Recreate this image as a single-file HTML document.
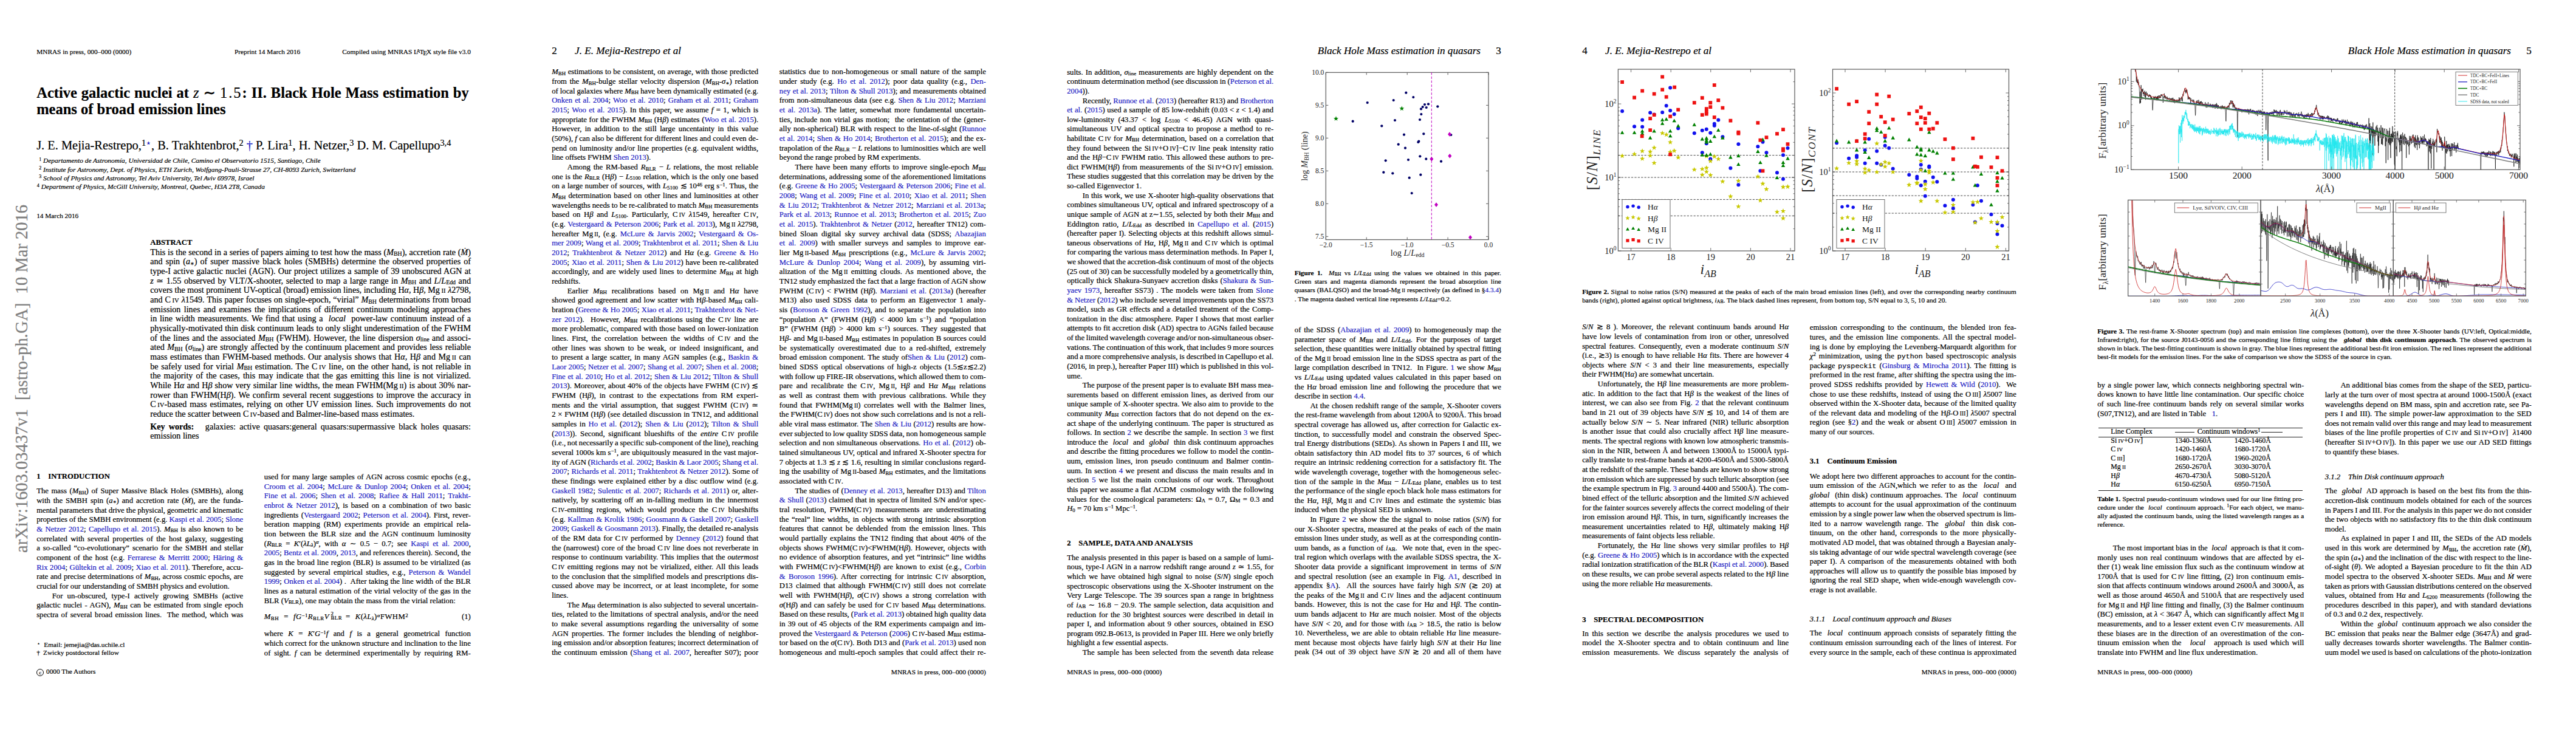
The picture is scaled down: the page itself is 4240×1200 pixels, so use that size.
<!DOCTYPE html><html><head><meta charset="utf-8"><title>Black Hole Mass estimation in quasars</title><style>
*{margin:0;padding:0}
html,body{width:4240px;height:1200px;overflow:hidden;background:#fff}
#pg{position:absolute;left:0;top:0;width:4240px;height:1200px}
body{position:relative;font-family:"Liberation Serif","DejaVu Serif",serif;color:#000;font-size:12.7px;line-height:1;-webkit-text-stroke:0.2px currentColor}
.j,.l{position:absolute;white-space:nowrap;line-height:1}
.j{text-align:justify;text-align-last:justify}
.l{text-align:left}
.c{color:#1c1cc4}
sub{font-size:70%;vertical-align:baseline;position:relative;top:.16em;line-height:0}
sup{font-size:70%;vertical-align:baseline;position:relative;top:-.42em;line-height:0}
.sc{text-transform:uppercase;font-size:.76em;margin-left:.24em}
.tt{font-family:"Liberation Mono",monospace;font-size:.92em}
.dot{display:inline-block;width:0;position:relative;left:-.62em;top:-.05em}
.a{position:absolute;white-space:nowrap;line-height:1}
svg{position:absolute;overflow:visible}
svg text{font-family:"Liberation Serif","DejaVu Serif",serif;-webkit-text-stroke:0}
</style></head><body><div id="pg">
<div class="a" style="left:60.2px;top:79.74px;font-size:11.3px">MNRAS in press, 000–000 (0000)</div>
<div class="a" style="left:386.0px;top:79.74px;font-size:11.3px">Preprint 14 March 2016</div>
<div class="a" style="left:-1225.2px;top:79.74px;font-size:11.3px;width:2000px;text-align:right">Compiled using MNRAS L<span style="font-size:.75em;position:relative;top:-.25em;margin-left:-.3em;margin-right:-.1em">A</span>T<span style="position:relative;top:.22em;margin-left:-.12em;margin-right:-.1em">E</span>X style file v3.0</div>
<div class="a" style="left:908.2px;top:74.88px;font-size:17.1px">2</div>
<div class="a" style="left:946.1px;top:74.88px;font-size:17.1px"><i>J. E. Mejia-Restrepo et al</i></div>
<div class="a" style="left:2604.2px;top:74.88px;font-size:17.1px">4</div>
<div class="a" style="left:2642.1px;top:74.88px;font-size:17.1px"><i>J. E. Mejia-Restrepo et al</i></div>
<div class="a" style="left:470.8px;top:74.88px;font-size:17.1px;width:2000px;text-align:right">3</div>
<div class="a" style="left:437.0px;top:74.88px;font-size:17.1px;width:2000px;text-align:right"><i>Black Hole Mass estimation in quasars</i></div>
<div class="a" style="left:2166.8px;top:74.88px;font-size:17.1px;width:2000px;text-align:right">5</div>
<div class="a" style="left:2133.0px;top:74.88px;font-size:17.1px;width:2000px;text-align:right"><i>Black Hole Mass estimation in quasars</i></div>
<div class="a" style="left:-377.2px;top:1100.74px;font-size:11.3px;width:2000px;text-align:right">MNRAS in press, 000–000 (0000)</div>
<div class="a" style="left:1318.8px;top:1100.74px;font-size:11.3px;width:2000px;text-align:right">MNRAS in press, 000–000 (0000)</div>
<div class="a" style="left:1756.2px;top:1100.74px;font-size:11.3px">MNRAS in press, 000–000 (0000)</div>
<div class="a" style="left:3452.2px;top:1100.74px;font-size:11.3px">MNRAS in press, 000–000 (0000)</div>
<div class="j" style="left:60.2px;top:140.98px;font-size:24.5px;width:711.5px"><b>Active galactic nuclei at <i style="font-weight:normal;margin-right:7px">z</i>∼<span style="font-weight:normal;margin-left:7px;letter-spacing:2px">1.5</span>: II. Black Hole Mass estimation by</b></div>
<div class="a" style="left:60.2px;top:168.48px;font-size:24.5px"><b>means of broad emission lines</b></div>
<div class="a" style="left:60.2px;top:229.41px;font-size:20.4px">J. E. Mejia-Restrepo,<sup>1<span class=c>⋆</span></sup>, B. Trakhtenbrot,<sup>2</sup> <span class=c>†</span> P. Lira<sup>1</sup>, H. Netzer,<sup>3</sup> D. M. Capellupo<sup>3,4</sup></div>
<div class="a" style="left:64.2px;top:259.45px;font-size:11.4px"><sup>1</sup> <i>Departamento de Astronomía, Universidad de Chile, Camino el Observatorio 1515, Santiago, Chile</i></div>
<div class="a" style="left:64.2px;top:273.60px;font-size:11.4px"><sup>2</sup> <i>Institute for Astronomy, Dept. of Physics, ETH Zurich, Wolfgang-Pauli-Strasse 27, CH-8093 Zurich, Switzerland</i></div>
<div class="a" style="left:64.2px;top:287.75px;font-size:11.4px"><sup>3</sup> <i>School of Physics and Astronomy, Tel Aviv University, Tel Aviv 69978, Israel</i></div>
<div class="a" style="left:60.8px;top:301.90px;font-size:11.4px"><sup>4</sup> <i>Department of Physics, McGill University, Montreal, Quebec, H3A 2T8, Canada</i></div>
<div class="a" style="left:60.2px;top:349.74px;font-size:11.3px">14 March 2016</div>
<div class="a" style="left:247.3px;top:392.76px;font-size:12.7px"><b>ABSTRACT</b></div>
<div class="j" style="left:247.3px;top:694.59px;font-size:14.1px;width:527.7px"><b>Key words:</b> &nbsp; galaxies: active quasars:general quasars:supermassive black holes quasars:</div>
<div class="a" style="left:247.3px;top:710.09px;font-size:14.1px">emission lines</div>
<div class="a" style="left:60.2px;top:777.66px;font-size:12.7px"><b>1</b></div>
<div class="a" style="left:79.3px;top:777.66px;font-size:12.7px"><b>INTRODUCTION</b></div>
<div class="a" style="left:434.8px;top:1009.26px;font-size:12.7px;word-spacing:4.5px;letter-spacing:0.45px"><i>M</i><sub>BH</sub> = <i>fG</i><sup>−1</sup><i>R</i><sub>BLR</sub><i>V</i><span style="display:inline-block;position:relative;width:19px;height:1px"><span style="position:absolute;left:2.5px;top:-12.6px;font-size:8.9px">2</span><span style="position:absolute;left:2.5px;top:-5.1px;font-size:8.9px">BLR</span></span> = <i>K</i>(<i>λL<sub>λ</sub></i>)<sup><i>α</i></sup>FWHM<sup>2</sup></div>
<div class="a" style="left:-1225.2px;top:1009.26px;font-size:12.7px;width:2000px;text-align:right">(1)</div>
<div class="a" style="left:60.5px;top:1056.14px;font-size:11.3px"><sup>⋆</sup></div>
<div class="a" style="left:72.3px;top:1056.14px;font-size:11.3px">Email: jemejia@das.uchile.cl</div>
<div class="a" style="left:60.3px;top:1068.74px;font-size:11.3px">†</div>
<div class="a" style="left:71.0px;top:1068.74px;font-size:11.3px">Zwicky postdoctoral fellow</div>
<div class="a" style="left:60.2px;top:1099.74px;font-size:11.3px"><span style="display:inline-block;border:1px solid #000;border-radius:50%;width:10px;height:10px;line-height:10px;text-align:center;font-size:8.5px;vertical-align:-1px;margin-right:1px">c</span> 0000 The Authors</div>
<div class="a" style="left:47.5px;top:910px;transform-origin:0 0;transform:rotate(-90deg);font-size:28.5px;color:#7f7f7f;line-height:1"><span style="position:relative;top:-26px">arXiv:1603.03437v1 &nbsp;[astro-ph.GA] &nbsp;10 Mar 2016</span></div>
<div class="a" style="left:1756.2px;top:887.86px;font-size:12.7px"><b>2</b></div>
<div class="a" style="left:1775.3px;top:887.86px;font-size:12.7px"><b>SAMPLE, DATA AND ANALYSIS</b></div>
<div class="a" style="left:2604.2px;top:1013.56px;font-size:12.7px"><b>3</b></div>
<div class="a" style="left:2623.3px;top:1013.56px;font-size:12.7px"><b>SPECTRAL DECOMPOSITION</b></div>
<div class="a" style="left:2978.8px;top:753.36px;font-size:12.7px"><b>3.1</b></div>
<div class="a" style="left:3007.5px;top:753.36px;font-size:12.7px"><b>Continuum Emission</b></div>
<div class="a" style="left:2978.8px;top:1012.86px;font-size:12.7px"><i>3.1.1</i></div>
<div class="a" style="left:3016.5px;top:1012.86px;font-size:12.7px"><i>Local continuum approach and Biases</i></div>
<div class="a" style="left:3826.8px;top:778.96px;font-size:12.7px"><i>3.1.2</i></div>
<div class="a" style="left:3865.0px;top:778.96px;font-size:12.7px"><i>Thin Disk continuum approach</i></div>
<div class="j" style="left:2130.8px;top:443.94px;font-size:11.3px;width:340.0px"><b>Figure 1.</b>&nbsp; <i>M</i><sub>BH</sub> vs <i>L</i>/<i>L</i><sub>Edd</sub> using the values we obtained in this paper.</div>
<div class="j" style="left:2130.8px;top:458.14px;font-size:11.3px;width:340.0px">Green stars and magenta diamonds represent the broad absorption line</div>
<div class="j" style="left:2130.8px;top:472.34px;font-size:11.3px;width:340.0px">quasars (BALQSO) and the broad-Mg<span class=sc>ii</span> respectively (as defined in §<span class=c>4.3.4</span>)</div>
<div class="a" style="left:2130.8px;top:486.54px;font-size:11.3px">. The magenta dashed vertical line represents <i>L</i>/<i>L</i><sub>Edd</sub>=0.2.</div>
<div class="j" style="left:2604.2px;top:474.54px;font-size:11.3px;width:714.6px"><b>Figure 2.</b> Signal to noise ratios (S/N) measured at the peaks of each of the main broad emission lines (left), and over the corresponding nearby continuum</div>
<div class="a" style="left:2604.2px;top:488.74px;font-size:11.3px">bands (right), plotted against optical brightness, <i>i</i><sub>AB</sub>. The black dashed lines represent, from bottom top, S/N equal to 3, 5, 10 and 20.</div>
<div class="j" style="left:3452.2px;top:539.54px;font-size:11.3px;width:714.6px"><b>Figure 3.</b> The rest-frame X-Shooter spectrum (top) and main emission line complexes (bottom), over the three X-Shooter bands (UV:left, Optical:middle,</div>
<div class="j" style="left:3452.2px;top:553.74px;font-size:11.3px;width:714.6px">Infrared:right), for the source J0143-0056 and the corresponding line fitting using the &nbsp; <b><i>global</i></b> &nbsp;<b>thin disk continuum approach</b>. The observed spectrum is</div>
<div class="j" style="left:3452.2px;top:567.94px;font-size:11.3px;width:714.6px;word-spacing:-0.33px">shown in black. The best-fitting continuum is shown in gray. The blue lines represent the additional best-fit iron emission. The red lines represent the additional</div>
<div class="a" style="left:3452.2px;top:582.14px;font-size:11.3px">best-fit models for the emission lines. For the sake of comparison we show the SDSS of the source in cyan.</div>
<div class="j" style="left:3452.2px;top:815.54px;font-size:11.3px;width:340.0px"><b>Table 1.</b> Spectral pseudo-continuum windows used for our line fitting pro-</div>
<div class="j" style="left:3452.2px;top:829.74px;font-size:11.3px;width:340.0px">cedure under the &nbsp;<i>local</i>&nbsp; continuum approach. <sup>1</sup>For each object, we manu-</div>
<div class="j" style="left:3452.2px;top:843.94px;font-size:11.3px;width:340.0px">ally adjusted the continuum bands, using the listed wavelength ranges as a</div>
<div class="a" style="left:3452.2px;top:858.14px;font-size:11.3px">reference.</div>
<div style="position:absolute;left:3454px;top:703.7px;width:336px;height:1.1px;background:#222"></div>
<div class="a" style="left:3474.3px;top:705.03px;font-size:11.9px">Line Complex</div>
<div style="position:absolute;left:3580px;top:710.6px;width:32px;height:0.9px;background:#222"></div>
<div style="position:absolute;left:3722px;top:710.6px;width:35px;height:0.9px;background:#222"></div>
<div class="a" style="left:3616.7px;top:705.03px;font-size:11.9px">Continuum windows<sup>1</sup></div>
<div style="position:absolute;left:3454px;top:718.7px;width:336px;height:1.1px;background:#222"></div>
<div class="a" style="left:3474.3px;top:720.03px;font-size:11.9px">Si<span class=sc>iv</span>+O<span class=sc>iv</span>]</div>
<div class="a" style="left:3580.0px;top:720.03px;font-size:11.9px">1340-1360Å</div>
<div class="a" style="left:3677.7px;top:720.03px;font-size:11.9px">1420-1460Å</div>
<div class="a" style="left:3474.3px;top:734.48px;font-size:11.9px">C<span class=sc>iv</span></div>
<div class="a" style="left:3580.0px;top:734.48px;font-size:11.9px">1420-1460Å</div>
<div class="a" style="left:3677.7px;top:734.48px;font-size:11.9px">1680-1720Å</div>
<div class="a" style="left:3474.3px;top:748.93px;font-size:11.9px">C<span class=sc>iii</span>]</div>
<div class="a" style="left:3580.0px;top:748.93px;font-size:11.9px">1680-1720Å</div>
<div class="a" style="left:3677.7px;top:748.93px;font-size:11.9px">1960-2020Å</div>
<div class="a" style="left:3474.3px;top:763.38px;font-size:11.9px">Mg<span class=sc>ii</span></div>
<div class="a" style="left:3580.0px;top:763.38px;font-size:11.9px">2650-2670Å</div>
<div class="a" style="left:3677.7px;top:763.38px;font-size:11.9px">3030-3070Å</div>
<div class="a" style="left:3474.3px;top:777.83px;font-size:11.9px">H<i>β</i></div>
<div class="a" style="left:3580.0px;top:777.83px;font-size:11.9px">4670-4730Å</div>
<div class="a" style="left:3677.7px;top:777.83px;font-size:11.9px">5080-5120Å</div>
<div class="a" style="left:3474.3px;top:792.28px;font-size:11.9px">H<i>α</i></div>
<div class="a" style="left:3580.0px;top:792.28px;font-size:11.9px">6150-6250Å</div>
<div class="a" style="left:3677.7px;top:792.28px;font-size:11.9px">6950-7150Å</div>
<div style="position:absolute;left:3454px;top:806.5px;width:336px;height:1.1px;background:#222"></div>
<svg style="left:2120px;top:105px" width="360" height="330" viewBox="2120 105 360 330">
<rect x="2182.3" y="119.3" width="267.7" height="275.2" fill="none" stroke="#5e5e5e" stroke-width="1.25"/>
<text x="2182.3" y="406.5" font-size="11.5" text-anchor="middle" fill="#222">−2.0</text>
<text x="2249.2" y="406.5" font-size="11.5" text-anchor="middle" fill="#222">−1.5</text>
<text x="2316.2" y="406.5" font-size="11.5" text-anchor="middle" fill="#222">−1.0</text>
<text x="2383.1" y="406.5" font-size="11.5" text-anchor="middle" fill="#222">−0.5</text>
<text x="2450.0" y="406.5" font-size="11.5" text-anchor="middle" fill="#222">0.0</text>
<text x="2179.3" y="393.3" font-size="11.5" text-anchor="end" fill="#222">7.5</text>
<text x="2179.3" y="339.3" font-size="11.5" text-anchor="end" fill="#222">8.0</text>
<text x="2179.3" y="285.3" font-size="11.5" text-anchor="end" fill="#222">8.5</text>
<text x="2179.3" y="231.3" font-size="11.5" text-anchor="end" fill="#222">9.0</text>
<text x="2179.3" y="177.3" font-size="11.5" text-anchor="end" fill="#222">9.5</text>
<text x="2179.3" y="123.3" font-size="11.5" text-anchor="end" fill="#222">10.0</text>
<path d="M2182.3 394.5v-4M2182.3 119.3v4M2249.2 394.5v-4M2249.2 119.3v4M2316.2 394.5v-4M2316.2 119.3v4M2383.1 394.5v-4M2383.1 119.3v4M2450.0 394.5v-4M2450.0 119.3v4M2182.3 389.3h4M2450.0 389.3h-4M2182.3 335.3h4M2450.0 335.3h-4M2182.3 281.3h4M2450.0 281.3h-4M2182.3 227.3h4M2450.0 227.3h-4M2182.3 173.3h4M2450.0 173.3h-4M2182.3 119.3h4M2450.0 119.3h-4" stroke="#5e5e5e" stroke-width="1" fill="none"/>
<text x="2316.7" y="420.6" font-size="14.2" text-anchor="middle" fill="#222">log <tspan font-style="italic">L</tspan>/<tspan font-style="italic">L</tspan><tspan font-size="10" dy="2.5">edd</tspan></text>
<text x="2151.5" y="257.0" font-size="14.2" text-anchor="middle" fill="#222" transform="rotate(-90 2151.5 257.0)">log <tspan font-style="italic">M</tspan><tspan font-size="10" dy="2.5">BH</tspan><tspan dy="-2.5"> (line)</tspan></text>
<line x1="2356.3" y1="119.3" x2="2356.3" y2="394.5" stroke="#c000c0" stroke-width="1" stroke-dasharray="4,2.6"/>
<circle cx="2250.7" cy="169.0" r="2.1" fill="#000066"/>
<circle cx="2314.3" cy="152.7" r="2.1" fill="#000066"/>
<circle cx="2326.3" cy="160.0" r="2.1" fill="#000066"/>
<circle cx="2293.7" cy="165.0" r="2.1" fill="#000066"/>
<circle cx="2226.7" cy="199.7" r="2.1" fill="#000066"/>
<circle cx="2274.3" cy="207.3" r="2.1" fill="#000066"/>
<circle cx="2296.0" cy="198.0" r="2.1" fill="#000066"/>
<circle cx="2311.0" cy="221.7" r="2.1" fill="#000066"/>
<circle cx="2301.7" cy="237.7" r="2.1" fill="#000066"/>
<circle cx="2313.0" cy="243.7" r="2.1" fill="#000066"/>
<circle cx="2280.7" cy="264.3" r="2.1" fill="#000066"/>
<circle cx="2277.3" cy="283.7" r="2.1" fill="#000066"/>
<circle cx="2292.3" cy="285.3" r="2.1" fill="#000066"/>
<circle cx="2318.0" cy="263.0" r="2.1" fill="#000066"/>
<circle cx="2319.7" cy="292.7" r="2.1" fill="#000066"/>
<circle cx="2323.7" cy="318.0" r="2.1" fill="#000066"/>
<circle cx="2337.3" cy="257.3" r="2.1" fill="#000066"/>
<circle cx="2334.3" cy="234.0" r="2.1" fill="#000066"/>
<circle cx="2335.3" cy="232.7" r="2.1" fill="#000066"/>
<circle cx="2343.3" cy="220.3" r="2.1" fill="#000066"/>
<circle cx="2337.0" cy="197.0" r="2.1" fill="#000066"/>
<circle cx="2339.3" cy="188.0" r="2.1" fill="#000066"/>
<circle cx="2339.0" cy="179.3" r="2.1" fill="#000066"/>
<circle cx="2341.7" cy="176.0" r="2.1" fill="#000066"/>
<circle cx="2345.0" cy="172.0" r="2.1" fill="#000066"/>
<circle cx="2347.7" cy="177.0" r="2.1" fill="#000066"/>
<circle cx="2351.0" cy="171.3" r="2.1" fill="#000066"/>
<circle cx="2366.3" cy="175.3" r="2.1" fill="#000066"/>
<circle cx="2347.3" cy="261.7" r="2.1" fill="#000066"/>
<circle cx="2372.0" cy="265.7" r="2.1" fill="#000066"/>
<circle cx="2338.3" cy="287.7" r="2.1" fill="#000066"/>
<circle cx="2388.3" cy="222.0" r="2.1" fill="#000066"/>
<polygon points="2199.0,191.1 2200.0,193.9 2203.0,194.0 2200.7,195.9 2201.5,198.7 2199.0,197.1 2196.5,198.7 2197.3,195.9 2195.0,194.0 2198.0,193.9" fill="#008000"/>
<polygon points="2307.3,174.5 2308.4,177.2 2311.3,177.4 2309.0,179.2 2309.8,182.1 2307.3,180.4 2304.9,182.1 2305.7,179.2 2303.3,177.4 2306.3,177.2" fill="#008000"/>
<polygon points="2356.3,257.9 2359.4,261.7 2356.3,265.5 2353.3,261.7" fill="#c000c0"/>
<polygon points="2386.0,217.2 2389.0,221.0 2386.0,224.8 2383.0,221.0" fill="#c000c0"/>
<polygon points="2386.3,252.9 2389.4,256.7 2386.3,260.5 2383.3,256.7" fill="#c000c0"/>
<polygon points="2364.0,333.2 2367.0,337.0 2364.0,340.8 2361.0,337.0" fill="#c000c0"/>
<polygon points="2420.0,386.9 2423.0,390.7 2420.0,394.5 2417.0,390.7" fill="#c000c0"/>
</svg>
<svg style="left:2590px;top:100px" width="730" height="370" viewBox="2590 100 730 370">
<rect x="2663.4" y="114.0" width="290.6" height="299.0" fill="none" stroke="#5e5e5e" stroke-width="1.25"/>
<text x="2684.6" y="428.0" font-size="14.5" text-anchor="middle" fill="#222">17</text>
<text x="2750.2" y="428.0" font-size="14.5" text-anchor="middle" fill="#222">18</text>
<text x="2815.8" y="428.0" font-size="14.5" text-anchor="middle" fill="#222">19</text>
<text x="2881.4" y="428.0" font-size="14.5" text-anchor="middle" fill="#222">20</text>
<text x="2947.0" y="428.0" font-size="14.5" text-anchor="middle" fill="#222">21</text>
<text x="2660.4" y="417.5" font-size="14.5" text-anchor="end" fill="#222">10<tspan font-size="9.5" dy="-6">0</tspan></text>
<text x="2660.4" y="296.5" font-size="14.5" text-anchor="end" fill="#222">10<tspan font-size="9.5" dy="-6">1</tspan></text>
<text x="2660.4" y="175.5" font-size="14.5" text-anchor="end" fill="#222">10<tspan font-size="9.5" dy="-6">2</tspan></text>
<path d="M2684.6 413.0v-5M2684.6 114.0v5M2750.2 413.0v-5M2750.2 114.0v5M2815.8 413.0v-5M2815.8 114.0v5M2881.4 413.0v-5M2881.4 114.0v5M2947.0 413.0v-5M2947.0 114.0v5M2663.4 413.0h5M2954.0 413.0h-5M2663.4 376.6h2.5M2954.0 376.6h-2.5M2663.4 355.3h2.5M2954.0 355.3h-2.5M2663.4 340.2h2.5M2954.0 340.2h-2.5M2663.4 328.4h2.5M2954.0 328.4h-2.5M2663.4 318.8h2.5M2954.0 318.8h-2.5M2663.4 310.7h2.5M2954.0 310.7h-2.5M2663.4 303.7h2.5M2954.0 303.7h-2.5M2663.4 297.5h2.5M2954.0 297.5h-2.5M2663.4 292.0h5M2954.0 292.0h-5M2663.4 255.6h2.5M2954.0 255.6h-2.5M2663.4 234.3h2.5M2954.0 234.3h-2.5M2663.4 219.2h2.5M2954.0 219.2h-2.5M2663.4 207.4h2.5M2954.0 207.4h-2.5M2663.4 197.8h2.5M2954.0 197.8h-2.5M2663.4 189.7h2.5M2954.0 189.7h-2.5M2663.4 182.7h2.5M2954.0 182.7h-2.5M2663.4 176.5h2.5M2954.0 176.5h-2.5M2663.4 171.0h5M2954.0 171.0h-5M2663.4 134.6h2.5M2954.0 134.6h-2.5" stroke="#5e5e5e" stroke-width="0.9" fill="none"/>
<line x1="2663.4" y1="255.6" x2="2954.0" y2="255.6" stroke="#333" stroke-width="0.9" stroke-dasharray="3.2,2.2"/>
<line x1="2663.4" y1="292.0" x2="2954.0" y2="292.0" stroke="#333" stroke-width="0.9" stroke-dasharray="3.2,2.2"/>
<line x1="2663.4" y1="328.4" x2="2954.0" y2="328.4" stroke="#333" stroke-width="0.9" stroke-dasharray="3.2,2.2"/>
<line x1="2663.4" y1="355.3" x2="2954.0" y2="355.3" stroke="#333" stroke-width="0.9" stroke-dasharray="3.2,2.2"/>
<circle cx="2670.1" cy="183.1" r="3.0" fill="#1111ee"/>
<circle cx="2690.1" cy="208.2" r="3.0" fill="#1111ee"/>
<circle cx="2703.2" cy="197.6" r="3.0" fill="#1111ee"/>
<circle cx="2703.2" cy="208.7" r="3.0" fill="#1111ee"/>
<circle cx="2716.2" cy="185.6" r="3.0" fill="#1111ee"/>
<circle cx="2722.7" cy="188.6" r="3.0" fill="#1111ee"/>
<circle cx="2736.2" cy="185.1" r="3.0" fill="#1111ee"/>
<circle cx="2742.7" cy="174.1" r="3.0" fill="#1111ee"/>
<circle cx="2749.2" cy="144.6" r="3.0" fill="#1111ee"/>
<circle cx="2749.2" cy="182.1" r="3.0" fill="#1111ee"/>
<circle cx="2755.7" cy="188.1" r="3.0" fill="#1111ee"/>
<circle cx="2762.2" cy="211.2" r="3.0" fill="#1111ee"/>
<circle cx="2788.8" cy="219.2" r="3.0" fill="#1111ee"/>
<circle cx="2801.8" cy="214.7" r="3.0" fill="#1111ee"/>
<circle cx="2808.8" cy="212.7" r="3.0" fill="#1111ee"/>
<circle cx="2808.8" cy="236.2" r="3.0" fill="#1111ee"/>
<circle cx="2815.3" cy="218.7" r="3.0" fill="#1111ee"/>
<circle cx="2821.8" cy="206.7" r="3.0" fill="#1111ee"/>
<circle cx="2821.8" cy="203.7" r="3.0" fill="#1111ee"/>
<circle cx="2828.3" cy="197.6" r="3.0" fill="#1111ee"/>
<circle cx="2835.4" cy="225.2" r="3.0" fill="#1111ee"/>
<circle cx="2848.4" cy="276.8" r="3.0" fill="#1111ee"/>
<circle cx="2861.4" cy="237.2" r="3.0" fill="#1111ee"/>
<circle cx="2861.4" cy="304.3" r="3.0" fill="#1111ee"/>
<circle cx="2801.8" cy="251.2" r="3.0" fill="#1111ee"/>
<circle cx="2815.3" cy="261.7" r="3.0" fill="#1111ee"/>
<circle cx="2893.4" cy="241.2" r="3.0" fill="#1111ee"/>
<circle cx="2897.4" cy="281.3" r="3.0" fill="#1111ee"/>
<circle cx="2901.5" cy="233.7" r="3.0" fill="#1111ee"/>
<circle cx="2907.5" cy="251.2" r="3.0" fill="#1111ee"/>
<circle cx="2925.0" cy="284.3" r="3.0" fill="#1111ee"/>
<circle cx="2935.0" cy="255.2" r="3.0" fill="#1111ee"/>
<circle cx="2935.0" cy="294.8" r="3.0" fill="#1111ee"/>
<circle cx="2942.5" cy="243.7" r="3.0" fill="#1111ee"/>
<polygon points="2670.1,252.3 2671.2,255.2 2674.3,255.4 2671.9,257.3 2672.7,260.3 2670.1,258.6 2667.5,260.3 2668.3,257.3 2665.9,255.4 2669.0,255.2" fill="#c8c800"/>
<polygon points="2690.1,249.3 2691.2,252.2 2694.3,252.4 2691.9,254.3 2692.7,257.3 2690.1,255.6 2687.5,257.3 2688.4,254.3 2686.0,252.4 2689.0,252.2" fill="#c8c800"/>
<polygon points="2703.2,244.3 2704.2,247.2 2707.3,247.4 2704.9,249.3 2705.7,252.3 2703.2,250.6 2700.6,252.3 2701.4,249.3 2699.0,247.4 2702.1,247.2" fill="#c8c800"/>
<polygon points="2703.2,256.8 2704.2,259.7 2707.3,259.9 2704.9,261.8 2705.7,264.8 2703.2,263.1 2700.6,264.8 2701.4,261.8 2699.0,259.9 2702.1,259.7" fill="#c8c800"/>
<polygon points="2716.2,245.3 2717.3,248.2 2720.4,248.4 2717.9,250.3 2718.8,253.3 2716.2,251.6 2713.6,253.3 2714.4,250.3 2712.0,248.4 2715.1,248.2" fill="#c8c800"/>
<polygon points="2716.2,251.8 2717.3,254.7 2720.4,254.9 2717.9,256.8 2718.8,259.8 2716.2,258.1 2713.6,259.8 2714.4,256.8 2712.0,254.9 2715.1,254.7" fill="#c8c800"/>
<polygon points="2722.7,238.8 2723.8,241.7 2726.9,241.9 2724.4,243.8 2725.3,246.8 2722.7,245.1 2720.1,246.8 2720.9,243.8 2718.5,241.9 2721.6,241.7" fill="#c8c800"/>
<polygon points="2722.7,263.9 2723.8,266.8 2726.9,266.9 2724.4,268.8 2725.3,271.8 2722.7,270.1 2720.1,271.8 2720.9,268.8 2718.5,266.9 2721.6,266.8" fill="#c8c800"/>
<polygon points="2736.2,214.8 2737.3,217.7 2740.4,217.8 2738.0,219.7 2738.8,222.7 2736.2,221.0 2733.6,222.7 2734.4,219.7 2732.0,217.8 2735.1,217.7" fill="#c8c800"/>
<polygon points="2742.7,217.3 2743.8,220.2 2746.9,220.3 2744.5,222.3 2745.3,225.2 2742.7,223.5 2740.1,225.2 2741.0,222.3 2738.5,220.3 2741.6,220.2" fill="#c8c800"/>
<polygon points="2749.2,229.8 2750.3,232.7 2753.4,232.8 2751.0,234.8 2751.8,237.8 2749.2,236.0 2746.6,237.8 2747.5,234.8 2745.0,232.8 2748.1,232.7" fill="#c8c800"/>
<polygon points="2749.2,245.8 2750.3,248.7 2753.4,248.9 2751.0,250.8 2751.8,253.8 2749.2,252.1 2746.6,253.8 2747.5,250.8 2745.0,248.9 2748.1,248.7" fill="#c8c800"/>
<polygon points="2755.7,243.8 2756.8,246.7 2759.9,246.9 2757.5,248.8 2758.3,251.8 2755.7,250.1 2753.1,251.8 2754.0,248.8 2751.5,246.9 2754.6,246.7" fill="#c8c800"/>
<polygon points="2762.2,254.8 2763.3,257.7 2766.4,257.9 2764.0,259.8 2764.8,262.8 2762.2,261.1 2759.7,262.8 2760.5,259.8 2758.1,257.9 2761.2,257.7" fill="#c8c800"/>
<polygon points="2788.8,274.9 2789.9,277.8 2793.0,277.9 2790.5,279.8 2791.4,282.8 2788.8,281.1 2786.2,282.8 2787.0,279.8 2784.6,277.9 2787.7,277.8" fill="#c8c800"/>
<polygon points="2801.8,273.9 2802.9,276.8 2806.0,276.9 2803.6,278.8 2804.4,281.8 2801.8,280.1 2799.2,281.8 2800.0,278.8 2797.6,276.9 2800.7,276.8" fill="#c8c800"/>
<polygon points="2801.8,283.4 2802.9,286.3 2806.0,286.4 2803.6,288.4 2804.4,291.3 2801.8,289.6 2799.2,291.3 2800.0,288.4 2797.6,286.4 2800.7,286.3" fill="#c8c800"/>
<polygon points="2808.8,271.9 2809.9,274.8 2813.0,274.9 2810.6,276.8 2811.4,279.8 2808.8,278.1 2806.2,279.8 2807.1,276.8 2804.6,274.9 2807.7,274.8" fill="#c8c800"/>
<polygon points="2808.8,278.4 2809.9,281.3 2813.0,281.4 2810.6,283.3 2811.4,286.3 2808.8,284.6 2806.2,286.3 2807.1,283.3 2804.6,281.4 2807.7,281.3" fill="#c8c800"/>
<polygon points="2815.3,283.9 2816.4,286.8 2819.5,286.9 2817.1,288.9 2817.9,291.8 2815.3,290.1 2812.7,291.8 2813.6,288.9 2811.1,286.9 2814.2,286.8" fill="#c8c800"/>
<polygon points="2821.8,253.3 2822.9,256.2 2826.0,256.4 2823.6,258.3 2824.4,261.3 2821.8,259.6 2819.2,261.3 2820.1,258.3 2817.6,256.4 2820.7,256.2" fill="#c8c800"/>
<polygon points="2828.3,257.3 2829.4,260.2 2832.5,260.4 2830.1,262.3 2830.9,265.3 2828.3,263.6 2825.8,265.3 2826.6,262.3 2824.2,260.4 2827.3,260.2" fill="#c8c800"/>
<polygon points="2835.4,294.4 2836.4,297.3 2839.5,297.4 2837.1,299.4 2837.9,302.4 2835.4,300.6 2832.8,302.4 2833.6,299.4 2831.2,297.4 2834.3,297.3" fill="#c8c800"/>
<polygon points="2848.4,318.9 2849.5,321.8 2852.6,322.0 2850.1,323.9 2851.0,326.9 2848.4,325.2 2845.8,326.9 2846.6,323.9 2844.2,322.0 2847.3,321.8" fill="#c8c800"/>
<polygon points="2861.4,293.4 2862.5,296.3 2865.6,296.4 2863.1,298.4 2864.0,301.4 2861.4,299.6 2858.8,301.4 2859.6,298.4 2857.2,296.4 2860.3,296.3" fill="#c8c800"/>
<polygon points="2861.4,335.5 2862.5,338.4 2865.6,338.5 2863.1,340.4 2864.0,343.4 2861.4,341.7 2858.8,343.4 2859.6,340.4 2857.2,338.5 2860.3,338.4" fill="#c8c800"/>
<polygon points="2893.4,286.4 2894.5,289.3 2897.6,289.4 2895.2,291.4 2896.0,294.3 2893.4,292.6 2890.9,294.3 2891.7,291.4 2889.3,289.4 2892.4,289.3" fill="#c8c800"/>
<polygon points="2897.4,325.4 2898.5,328.3 2901.6,328.5 2899.2,330.4 2900.0,333.4 2897.4,331.7 2894.9,333.4 2895.7,330.4 2893.3,328.5 2896.4,328.3" fill="#c8c800"/>
<polygon points="2901.5,297.9 2902.5,300.8 2905.6,300.9 2903.2,302.9 2904.0,305.9 2901.5,304.2 2898.9,305.9 2899.7,302.9 2897.3,300.9 2900.4,300.8" fill="#c8c800"/>
<polygon points="2907.5,306.9 2908.5,309.8 2911.6,310.0 2909.2,311.9 2910.0,314.9 2907.5,313.2 2904.9,314.9 2905.7,311.9 2903.3,310.0 2906.4,309.8" fill="#c8c800"/>
<polygon points="2925.0,344.5 2926.1,347.4 2929.2,347.5 2926.7,349.4 2927.6,352.4 2925.0,350.7 2922.4,352.4 2923.2,349.4 2920.8,347.5 2923.9,347.4" fill="#c8c800"/>
<polygon points="2935.0,343.0 2936.1,345.9 2939.2,346.0 2936.8,347.9 2937.6,350.9 2935.0,349.2 2932.4,350.9 2933.2,347.9 2930.8,346.0 2933.9,345.9" fill="#c8c800"/>
<polygon points="2935.0,355.0 2936.1,357.9 2939.2,358.0 2936.8,360.0 2937.6,362.9 2935.0,361.2 2932.4,362.9 2933.2,360.0 2930.8,358.0 2933.9,357.9" fill="#c8c800"/>
<polygon points="2942.5,302.9 2943.6,305.8 2946.7,306.0 2944.3,307.9 2945.1,310.9 2942.5,309.2 2939.9,310.9 2940.8,307.9 2938.3,306.0 2941.4,305.8" fill="#c8c800"/>
<polygon points="2935.0,303.4 2936.1,306.3 2939.2,306.5 2936.8,308.4 2937.6,311.4 2935.0,309.7 2932.4,311.4 2933.2,308.4 2930.8,306.5 2933.9,306.3" fill="#c8c800"/>
<polygon points="2808.8,252.8 2809.9,255.7 2813.0,255.9 2810.6,257.8 2811.4,260.8 2808.8,259.1 2806.2,260.8 2807.1,257.8 2804.6,255.9 2807.7,255.7" fill="#c8c800"/>
<polygon points="2815.3,260.8 2816.4,263.8 2819.5,263.9 2817.1,265.8 2817.9,268.8 2815.3,267.1 2812.7,268.8 2813.6,265.8 2811.1,263.9 2814.2,263.8" fill="#c8c800"/>
<polygon points="2670.1,215.1 2673.3,220.8 2666.9,220.8" fill="#008000"/>
<polygon points="2690.1,215.1 2693.4,220.8 2686.9,220.8" fill="#008000"/>
<polygon points="2703.2,212.6 2706.4,218.3 2699.9,218.3" fill="#008000"/>
<polygon points="2703.2,216.6 2706.4,222.3 2699.9,222.3" fill="#008000"/>
<polygon points="2716.2,223.6 2719.4,229.4 2712.9,229.4" fill="#008000"/>
<polygon points="2722.7,212.6 2725.9,218.3 2719.4,218.3" fill="#008000"/>
<polygon points="2736.2,194.0 2739.4,199.8 2733.0,199.8" fill="#008000"/>
<polygon points="2736.2,200.1 2739.4,205.8 2733.0,205.8" fill="#008000"/>
<polygon points="2742.7,193.0 2746.0,198.8 2739.5,198.8" fill="#008000"/>
<polygon points="2749.2,212.6 2752.5,218.3 2746.0,218.3" fill="#008000"/>
<polygon points="2749.2,220.6 2752.5,226.3 2746.0,226.3" fill="#008000"/>
<polygon points="2755.7,195.5 2759.0,201.3 2752.5,201.3" fill="#008000"/>
<polygon points="2762.2,204.1 2765.5,209.8 2759.0,209.8" fill="#008000"/>
<polygon points="2788.8,202.1 2792.0,207.8 2785.5,207.8" fill="#008000"/>
<polygon points="2801.8,225.6 2805.0,231.4 2798.6,231.4" fill="#008000"/>
<polygon points="2808.8,224.1 2812.1,229.9 2805.6,229.9" fill="#008000"/>
<polygon points="2808.8,227.6 2812.1,233.4 2805.6,233.4" fill="#008000"/>
<polygon points="2808.8,230.6 2812.1,236.4 2805.6,236.4" fill="#008000"/>
<polygon points="2815.3,229.1 2818.6,234.9 2812.1,234.9" fill="#008000"/>
<polygon points="2821.8,221.6 2825.1,227.3 2818.6,227.3" fill="#008000"/>
<polygon points="2828.3,211.1 2831.6,216.8 2825.1,216.8" fill="#008000"/>
<polygon points="2835.4,223.6 2838.6,229.4 2832.1,229.4" fill="#008000"/>
<polygon points="2848.4,255.6 2851.6,261.4 2845.1,261.4" fill="#008000"/>
<polygon points="2861.4,253.1 2864.6,258.9 2858.2,258.9" fill="#008000"/>
<polygon points="2861.4,267.2 2864.6,272.9 2858.2,272.9" fill="#008000"/>
<polygon points="2893.4,246.1 2896.7,251.9 2890.2,251.9" fill="#008000"/>
<polygon points="2897.4,264.2 2900.7,269.9 2894.2,269.9" fill="#008000"/>
<polygon points="2901.5,226.6 2904.7,232.4 2898.2,232.4" fill="#008000"/>
<polygon points="2907.5,252.6 2910.7,258.4 2904.2,258.4" fill="#008000"/>
<polygon points="2925.0,289.2 2928.2,294.9 2921.7,294.9" fill="#008000"/>
<polygon points="2935.0,264.2 2938.2,269.9 2931.8,269.9" fill="#008000"/>
<polygon points="2935.0,269.2 2938.2,274.9 2931.8,274.9" fill="#008000"/>
<polygon points="2942.5,257.6 2945.8,263.4 2939.3,263.4" fill="#008000"/>
<polygon points="2801.8,251.6 2805.0,257.4 2798.6,257.4" fill="#008000"/>
<polygon points="2808.8,252.1 2812.1,257.9 2805.6,257.9" fill="#008000"/>
<polygon points="2815.3,250.6 2818.6,256.4 2812.1,256.4" fill="#008000"/>
<rect x="2667.2" y="132.2" width="5.8" height="5.8" fill="#ee1111"/>
<rect x="2687.2" y="157.7" width="5.8" height="5.8" fill="#ee1111"/>
<rect x="2700.3" y="146.7" width="5.8" height="5.8" fill="#ee1111"/>
<rect x="2719.8" y="151.7" width="5.8" height="5.8" fill="#ee1111"/>
<rect x="2733.3" y="123.6" width="5.8" height="5.8" fill="#ee1111"/>
<rect x="2733.3" y="144.7" width="5.8" height="5.8" fill="#ee1111"/>
<rect x="2739.8" y="156.7" width="5.8" height="5.8" fill="#ee1111"/>
<rect x="2753.3" y="140.7" width="5.8" height="5.8" fill="#ee1111"/>
<rect x="2746.3" y="188.7" width="5.8" height="5.8" fill="#ee1111"/>
<rect x="2713.3" y="192.2" width="5.8" height="5.8" fill="#ee1111"/>
<rect x="2699.8" y="221.3" width="5.8" height="5.8" fill="#ee1111"/>
<rect x="2713.3" y="211.3" width="5.8" height="5.8" fill="#ee1111"/>
<rect x="2719.8" y="186.2" width="5.8" height="5.8" fill="#ee1111"/>
<rect x="2746.3" y="251.3" width="5.8" height="5.8" fill="#ee1111"/>
<rect x="2759.3" y="177.7" width="5.8" height="5.8" fill="#ee1111"/>
<rect x="2785.9" y="166.2" width="5.8" height="5.8" fill="#ee1111"/>
<rect x="2798.9" y="158.2" width="5.8" height="5.8" fill="#ee1111"/>
<rect x="2798.9" y="186.2" width="5.8" height="5.8" fill="#ee1111"/>
<rect x="2805.9" y="181.2" width="5.8" height="5.8" fill="#ee1111"/>
<rect x="2805.9" y="176.2" width="5.8" height="5.8" fill="#ee1111"/>
<rect x="2812.4" y="173.2" width="5.8" height="5.8" fill="#ee1111"/>
<rect x="2812.4" y="166.2" width="5.8" height="5.8" fill="#ee1111"/>
<rect x="2818.9" y="137.2" width="5.8" height="5.8" fill="#ee1111"/>
<rect x="2818.9" y="190.2" width="5.8" height="5.8" fill="#ee1111"/>
<rect x="2825.4" y="162.2" width="5.8" height="5.8" fill="#ee1111"/>
<rect x="2832.5" y="174.7" width="5.8" height="5.8" fill="#ee1111"/>
<rect x="2845.5" y="195.7" width="5.8" height="5.8" fill="#ee1111"/>
<rect x="2858.5" y="214.8" width="5.8" height="5.8" fill="#ee1111"/>
<rect x="2858.5" y="216.8" width="5.8" height="5.8" fill="#ee1111"/>
<rect x="2890.5" y="199.3" width="5.8" height="5.8" fill="#ee1111"/>
<rect x="2894.5" y="227.8" width="5.8" height="5.8" fill="#ee1111"/>
<rect x="2898.6" y="278.4" width="5.8" height="5.8" fill="#ee1111"/>
<rect x="2904.6" y="223.3" width="5.8" height="5.8" fill="#ee1111"/>
<rect x="2922.1" y="217.3" width="5.8" height="5.8" fill="#ee1111"/>
<rect x="2932.1" y="210.3" width="5.8" height="5.8" fill="#ee1111"/>
<rect x="2932.1" y="242.3" width="5.8" height="5.8" fill="#ee1111"/>
<rect x="2932.1" y="244.8" width="5.8" height="5.8" fill="#ee1111"/>
<rect x="2939.6" y="234.3" width="5.8" height="5.8" fill="#ee1111"/>
<rect x="2805.9" y="184.7" width="5.8" height="5.8" fill="#ee1111"/>
<rect x="2670.0" y="328.5" width="79" height="80" fill="#fff" stroke="#5e5e5e" stroke-width="0.9"/>
<circle cx="2679.0" cy="340.5" r="2.7" fill="#1111ee"/>
<circle cx="2688.1" cy="339.1" r="2.7" fill="#1111ee"/>
<circle cx="2697.2" cy="341.2" r="2.7" fill="#1111ee"/>
<text x="2712.0" y="345.1" font-size="13.5" text-anchor="start" fill="#111">H<tspan font-style="italic">α</tspan></text>
<polygon points="2679.0,355.0 2680.0,357.7 2682.8,357.8 2680.6,359.5 2681.3,362.2 2679.0,360.7 2676.7,362.2 2677.4,359.5 2675.2,357.8 2678.0,357.7" fill="#c8c800"/>
<polygon points="2688.1,353.6 2689.1,356.3 2691.9,356.4 2689.7,358.1 2690.4,360.8 2688.1,359.3 2685.8,360.8 2686.5,358.1 2684.3,356.4 2687.1,356.3" fill="#c8c800"/>
<polygon points="2697.2,355.7 2698.2,358.4 2701.0,358.5 2698.8,360.2 2699.5,362.9 2697.2,361.4 2694.9,362.9 2695.6,360.2 2693.4,358.5 2696.2,358.4" fill="#c8c800"/>
<text x="2712.0" y="363.6" font-size="13.5" text-anchor="start" fill="#111">H<tspan font-style="italic">β</tspan></text>
<polygon points="2679.0,374.3 2681.9,379.4 2676.1,379.4" fill="#008000"/>
<polygon points="2688.1,372.9 2691.0,378.0 2685.2,378.0" fill="#008000"/>
<polygon points="2697.2,375.0 2700.1,380.1 2694.3,380.1" fill="#008000"/>
<text x="2712.0" y="382.1" font-size="13.5" text-anchor="start" fill="#111">Mg II</text>
<rect x="2676.4" y="393.4" width="5.2" height="5.2" fill="#ee1111"/>
<rect x="2685.5" y="392.0" width="5.2" height="5.2" fill="#ee1111"/>
<rect x="2694.6" y="394.1" width="5.2" height="5.2" fill="#ee1111"/>
<text x="2712.0" y="400.6" font-size="13.5" text-anchor="start" fill="#111">C IV</text>
<text x="2628.5" y="262.5" font-size="25" text-anchor="middle" fill="#222" transform="rotate(-90 2628.5 262.5)" style="letter-spacing:1px">[<tspan font-style="italic">S</tspan>/<tspan font-style="italic">N</tspan>]<tspan font-size="17" font-style="italic" dy="5" letter-spacing="1.6">LINE</tspan></text>
<text x="2811.7" y="450.5" font-size="24" text-anchor="middle" fill="#222"><tspan font-style="italic">i</tspan><tspan font-size="16" font-style="italic" dy="5">AB</tspan></text>
<rect x="3016.5" y="114.0" width="290.0" height="299.0" fill="none" stroke="#5e5e5e" stroke-width="1.25"/>
<text x="3037.0" y="428.0" font-size="14.5" text-anchor="middle" fill="#222">17</text>
<text x="3103.1" y="428.0" font-size="14.5" text-anchor="middle" fill="#222">18</text>
<text x="3169.2" y="428.0" font-size="14.5" text-anchor="middle" fill="#222">19</text>
<text x="3235.3" y="428.0" font-size="14.5" text-anchor="middle" fill="#222">20</text>
<text x="3301.4" y="428.0" font-size="14.5" text-anchor="middle" fill="#222">21</text>
<text x="3013.5" y="417.5" font-size="14.5" text-anchor="end" fill="#222">10<tspan font-size="9.5" dy="-6">0</tspan></text>
<text x="3013.5" y="287.5" font-size="14.5" text-anchor="end" fill="#222">10<tspan font-size="9.5" dy="-6">1</tspan></text>
<text x="3013.5" y="157.5" font-size="14.5" text-anchor="end" fill="#222">10<tspan font-size="9.5" dy="-6">2</tspan></text>
<path d="M3037.0 413.0v-5M3037.0 114.0v5M3103.1 413.0v-5M3103.1 114.0v5M3169.2 413.0v-5M3169.2 114.0v5M3235.3 413.0v-5M3235.3 114.0v5M3301.4 413.0v-5M3301.4 114.0v5M3016.5 413.0h5M3306.5 413.0h-5M3016.5 373.9h2.5M3306.5 373.9h-2.5M3016.5 351.0h2.5M3306.5 351.0h-2.5M3016.5 334.7h2.5M3306.5 334.7h-2.5M3016.5 322.1h2.5M3306.5 322.1h-2.5M3016.5 311.8h2.5M3306.5 311.8h-2.5M3016.5 303.1h2.5M3306.5 303.1h-2.5M3016.5 295.6h2.5M3306.5 295.6h-2.5M3016.5 288.9h2.5M3306.5 288.9h-2.5M3016.5 283.0h5M3306.5 283.0h-5M3016.5 243.9h2.5M3306.5 243.9h-2.5M3016.5 221.0h2.5M3306.5 221.0h-2.5M3016.5 204.7h2.5M3306.5 204.7h-2.5M3016.5 192.1h2.5M3306.5 192.1h-2.5M3016.5 181.8h2.5M3306.5 181.8h-2.5M3016.5 173.1h2.5M3306.5 173.1h-2.5M3016.5 165.6h2.5M3306.5 165.6h-2.5M3016.5 158.9h2.5M3306.5 158.9h-2.5M3016.5 153.0h5M3306.5 153.0h-5" stroke="#5e5e5e" stroke-width="0.9" fill="none"/>
<line x1="3016.5" y1="243.9" x2="3306.5" y2="243.9" stroke="#333" stroke-width="0.9" stroke-dasharray="3.2,2.2"/>
<line x1="3016.5" y1="283.0" x2="3306.5" y2="283.0" stroke="#333" stroke-width="0.9" stroke-dasharray="3.2,2.2"/>
<line x1="3016.5" y1="322.1" x2="3306.5" y2="322.1" stroke="#333" stroke-width="0.9" stroke-dasharray="3.2,2.2"/>
<line x1="3016.5" y1="351.0" x2="3306.5" y2="351.0" stroke="#333" stroke-width="0.9" stroke-dasharray="3.2,2.2"/>
<circle cx="3023.1" cy="235.2" r="3.0" fill="#1111ee"/>
<circle cx="3043.1" cy="260.7" r="3.0" fill="#1111ee"/>
<circle cx="3056.1" cy="256.2" r="3.0" fill="#1111ee"/>
<circle cx="3056.1" cy="258.7" r="3.0" fill="#1111ee"/>
<circle cx="3069.7" cy="247.2" r="3.0" fill="#1111ee"/>
<circle cx="3069.7" cy="268.8" r="3.0" fill="#1111ee"/>
<circle cx="3076.2" cy="228.7" r="3.0" fill="#1111ee"/>
<circle cx="3089.2" cy="248.7" r="3.0" fill="#1111ee"/>
<circle cx="3089.2" cy="268.8" r="3.0" fill="#1111ee"/>
<circle cx="3096.2" cy="271.3" r="3.0" fill="#1111ee"/>
<circle cx="3102.7" cy="239.7" r="3.0" fill="#1111ee"/>
<circle cx="3102.7" cy="225.7" r="3.0" fill="#1111ee"/>
<circle cx="3109.2" cy="243.7" r="3.0" fill="#1111ee"/>
<circle cx="3115.7" cy="277.8" r="3.0" fill="#1111ee"/>
<circle cx="3142.3" cy="287.8" r="3.0" fill="#1111ee"/>
<circle cx="3155.3" cy="290.8" r="3.0" fill="#1111ee"/>
<circle cx="3155.3" cy="293.8" r="3.0" fill="#1111ee"/>
<circle cx="3161.8" cy="271.3" r="3.0" fill="#1111ee"/>
<circle cx="3161.8" cy="278.8" r="3.0" fill="#1111ee"/>
<circle cx="3161.8" cy="305.3" r="3.0" fill="#1111ee"/>
<circle cx="3168.8" cy="298.8" r="3.0" fill="#1111ee"/>
<circle cx="3168.8" cy="322.8" r="3.0" fill="#1111ee"/>
<circle cx="3175.3" cy="273.8" r="3.0" fill="#1111ee"/>
<circle cx="3175.3" cy="275.3" r="3.0" fill="#1111ee"/>
<circle cx="3181.8" cy="291.8" r="3.0" fill="#1111ee"/>
<circle cx="3188.3" cy="299.3" r="3.0" fill="#1111ee"/>
<circle cx="3201.4" cy="338.4" r="3.0" fill="#1111ee"/>
<circle cx="3214.9" cy="328.8" r="3.0" fill="#1111ee"/>
<circle cx="3214.9" cy="342.9" r="3.0" fill="#1111ee"/>
<circle cx="3247.4" cy="336.9" r="3.0" fill="#1111ee"/>
<circle cx="3250.9" cy="365.4" r="3.0" fill="#1111ee"/>
<circle cx="3254.9" cy="305.3" r="3.0" fill="#1111ee"/>
<circle cx="3261.0" cy="330.8" r="3.0" fill="#1111ee"/>
<circle cx="3277.5" cy="352.9" r="3.0" fill="#1111ee"/>
<circle cx="3287.5" cy="367.9" r="3.0" fill="#1111ee"/>
<circle cx="3287.5" cy="385.4" r="3.0" fill="#1111ee"/>
<circle cx="3295.5" cy="371.4" r="3.0" fill="#1111ee"/>
<polygon points="3023.1,272.9 3024.2,275.8 3027.3,275.9 3024.9,277.8 3025.7,280.8 3023.1,279.1 3020.5,280.8 3021.3,277.8 3018.9,275.9 3022.0,275.8" fill="#c8c800"/>
<polygon points="3043.1,263.9 3044.2,266.8 3047.3,266.9 3044.9,268.8 3045.7,271.8 3043.1,270.1 3040.5,271.8 3041.4,268.8 3038.9,266.9 3042.0,266.8" fill="#c8c800"/>
<polygon points="3056.1,260.8 3057.2,263.8 3060.3,263.9 3057.9,265.8 3058.7,268.8 3056.1,267.1 3053.6,268.8 3054.4,265.8 3052.0,263.9 3055.1,263.8" fill="#c8c800"/>
<polygon points="3056.1,265.9 3057.2,268.8 3060.3,268.9 3057.9,270.8 3058.7,273.8 3056.1,272.1 3053.6,273.8 3054.4,270.8 3052.0,268.9 3055.1,268.8" fill="#c8c800"/>
<polygon points="3069.7,273.4 3070.8,276.3 3073.8,276.4 3071.4,278.3 3072.3,281.3 3069.7,279.6 3067.1,281.3 3067.9,278.3 3065.5,276.4 3068.6,276.3" fill="#c8c800"/>
<polygon points="3069.7,279.9 3070.8,282.8 3073.8,282.9 3071.4,284.8 3072.3,287.8 3069.7,286.1 3067.1,287.8 3067.9,284.8 3065.5,282.9 3068.6,282.8" fill="#c8c800"/>
<polygon points="3076.2,275.9 3077.3,278.8 3080.4,278.9 3077.9,280.8 3078.8,283.8 3076.2,282.1 3073.6,283.8 3074.4,280.8 3072.0,278.9 3075.1,278.8" fill="#c8c800"/>
<polygon points="3089.2,231.8 3090.3,234.7 3093.4,234.8 3091.0,236.8 3091.8,239.8 3089.2,238.1 3086.6,239.8 3087.4,236.8 3085.0,234.8 3088.1,234.7" fill="#c8c800"/>
<polygon points="3089.2,278.9 3090.3,281.8 3093.4,281.9 3091.0,283.8 3091.8,286.8 3089.2,285.1 3086.6,286.8 3087.4,283.8 3085.0,281.9 3088.1,281.8" fill="#c8c800"/>
<polygon points="3096.2,266.4 3097.3,269.3 3100.4,269.4 3098.0,271.3 3098.8,274.3 3096.2,272.6 3093.6,274.3 3094.4,271.3 3092.0,269.4 3095.1,269.3" fill="#c8c800"/>
<polygon points="3102.7,262.4 3103.8,265.3 3106.9,265.4 3104.5,267.3 3105.3,270.3 3102.7,268.6 3100.1,270.3 3101.0,267.3 3098.5,265.4 3101.6,265.3" fill="#c8c800"/>
<polygon points="3102.7,269.9 3103.8,272.8 3106.9,272.9 3104.5,274.8 3105.3,277.8 3102.7,276.1 3100.1,277.8 3101.0,274.8 3098.5,272.9 3101.6,272.8" fill="#c8c800"/>
<polygon points="3109.2,264.4 3110.3,267.3 3113.4,267.4 3111.0,269.3 3111.8,272.3 3109.2,270.6 3106.6,272.3 3107.5,269.3 3105.0,267.4 3108.1,267.3" fill="#c8c800"/>
<polygon points="3115.7,278.9 3116.8,281.8 3119.9,281.9 3117.5,283.8 3118.3,286.8 3115.7,285.1 3113.1,286.8 3114.0,283.8 3111.5,281.9 3114.6,281.8" fill="#c8c800"/>
<polygon points="3142.3,299.9 3143.4,302.8 3146.5,302.9 3144.0,304.9 3144.9,307.9 3142.3,306.2 3139.7,307.9 3140.5,304.9 3138.1,302.9 3141.2,302.8" fill="#c8c800"/>
<polygon points="3155.3,296.4 3156.4,299.3 3159.5,299.4 3157.1,301.4 3157.9,304.4 3155.3,302.6 3152.7,304.4 3153.5,301.4 3151.1,299.4 3154.2,299.3" fill="#c8c800"/>
<polygon points="3155.3,297.4 3156.4,300.3 3159.5,300.4 3157.1,302.4 3157.9,305.4 3155.3,303.7 3152.7,305.4 3153.5,302.4 3151.1,300.4 3154.2,300.3" fill="#c8c800"/>
<polygon points="3161.8,260.3 3162.9,263.3 3166.0,263.4 3163.6,265.3 3164.4,268.3 3161.8,266.6 3159.2,268.3 3160.0,265.3 3157.6,263.4 3160.7,263.3" fill="#c8c800"/>
<polygon points="3161.8,275.4 3162.9,278.3 3166.0,278.4 3163.6,280.3 3164.4,283.3 3161.8,281.6 3159.2,283.3 3160.0,280.3 3157.6,278.4 3160.7,278.3" fill="#c8c800"/>
<polygon points="3161.8,326.4 3162.9,329.4 3166.0,329.5 3163.6,331.4 3164.4,334.4 3161.8,332.7 3159.2,334.4 3160.0,331.4 3157.6,329.5 3160.7,329.4" fill="#c8c800"/>
<polygon points="3168.8,298.9 3169.9,301.8 3173.0,301.9 3170.6,303.9 3171.4,306.9 3168.8,305.2 3166.2,306.9 3167.1,303.9 3164.6,301.9 3167.7,301.8" fill="#c8c800"/>
<polygon points="3168.8,306.9 3169.9,309.8 3173.0,310.0 3170.6,311.9 3171.4,314.9 3168.8,313.2 3166.2,314.9 3167.1,311.9 3164.6,310.0 3167.7,309.8" fill="#c8c800"/>
<polygon points="3175.3,276.9 3176.4,279.8 3179.5,279.9 3177.1,281.8 3177.9,284.8 3175.3,283.1 3172.7,284.8 3173.6,281.8 3171.1,279.9 3174.2,279.8" fill="#c8c800"/>
<polygon points="3175.3,279.9 3176.4,282.8 3179.5,282.9 3177.1,284.8 3177.9,287.8 3175.3,286.1 3172.7,287.8 3173.6,284.8 3171.1,282.9 3174.2,282.8" fill="#c8c800"/>
<polygon points="3181.8,295.9 3182.9,298.8 3186.0,298.9 3183.6,300.9 3184.4,303.9 3181.8,302.1 3179.2,303.9 3180.1,300.9 3177.6,298.9 3180.7,298.8" fill="#c8c800"/>
<polygon points="3188.3,326.4 3189.4,329.4 3192.5,329.5 3190.1,331.4 3190.9,334.4 3188.3,332.7 3185.8,334.4 3186.6,331.4 3184.2,329.5 3187.3,329.4" fill="#c8c800"/>
<polygon points="3201.4,345.5 3202.4,348.4 3205.5,348.5 3203.1,350.4 3203.9,353.4 3201.4,351.7 3198.8,353.4 3199.6,350.4 3197.2,348.5 3200.3,348.4" fill="#c8c800"/>
<polygon points="3214.9,333.0 3216.0,335.9 3219.1,336.0 3216.6,337.9 3217.5,340.9 3214.9,339.2 3212.3,340.9 3213.1,337.9 3210.7,336.0 3213.8,335.9" fill="#c8c800"/>
<polygon points="3214.9,344.5 3216.0,347.4 3219.1,347.5 3216.6,349.4 3217.5,352.4 3214.9,350.7 3212.3,352.4 3213.1,349.4 3210.7,347.5 3213.8,347.4" fill="#c8c800"/>
<polygon points="3247.4,328.4 3248.5,331.4 3251.6,331.5 3249.2,333.4 3250.0,336.4 3247.4,334.7 3244.8,336.4 3245.7,333.4 3243.2,331.5 3246.3,331.4" fill="#c8c800"/>
<polygon points="3250.9,362.0 3252.0,364.9 3255.1,365.0 3252.7,367.0 3253.5,370.0 3250.9,368.2 3248.4,370.0 3249.2,367.0 3246.8,365.0 3249.9,364.9" fill="#c8c800"/>
<polygon points="3254.9,327.9 3256.0,330.9 3259.1,331.0 3256.7,332.9 3257.5,335.9 3254.9,334.2 3252.4,335.9 3253.2,332.9 3250.8,331.0 3253.9,330.9" fill="#c8c800"/>
<polygon points="3261.0,355.0 3262.0,357.9 3265.1,358.0 3262.7,360.0 3263.5,362.9 3261.0,361.2 3258.4,362.9 3259.2,360.0 3256.8,358.0 3259.9,357.9" fill="#c8c800"/>
<polygon points="3277.5,361.0 3278.6,363.9 3281.7,364.0 3279.2,366.0 3280.1,369.0 3277.5,367.2 3274.9,369.0 3275.7,366.0 3273.3,364.0 3276.4,363.9" fill="#c8c800"/>
<polygon points="3287.5,361.0 3288.6,363.9 3291.7,364.0 3289.2,366.0 3290.1,369.0 3287.5,367.2 3284.9,369.0 3285.7,366.0 3283.3,364.0 3286.4,363.9" fill="#c8c800"/>
<polygon points="3287.5,376.0 3288.6,378.9 3291.7,379.1 3289.2,381.0 3290.1,384.0 3287.5,382.3 3284.9,384.0 3285.7,381.0 3283.3,379.1 3286.4,378.9" fill="#c8c800"/>
<polygon points="3287.5,402.1 3288.6,405.0 3291.7,405.1 3289.2,407.0 3290.1,410.0 3287.5,408.3 3284.9,410.0 3285.7,407.0 3283.3,405.1 3286.4,405.0" fill="#c8c800"/>
<polygon points="3295.5,353.0 3296.6,355.9 3299.7,356.0 3297.3,358.0 3298.1,360.9 3295.5,359.2 3292.9,360.9 3293.7,358.0 3291.3,356.0 3294.4,355.9" fill="#c8c800"/>
<polygon points="3023.1,228.6 3026.3,234.4 3019.9,234.4" fill="#008000"/>
<polygon points="3043.1,230.6 3046.4,236.4 3039.9,236.4" fill="#008000"/>
<polygon points="3056.1,228.6 3059.4,234.4 3052.9,234.4" fill="#008000"/>
<polygon points="3056.1,243.6 3059.4,249.4 3052.9,249.4" fill="#008000"/>
<polygon points="3069.7,230.6 3072.9,236.4 3066.4,236.4" fill="#008000"/>
<polygon points="3069.7,247.1 3072.9,252.9 3066.4,252.9" fill="#008000"/>
<polygon points="3076.2,256.1 3079.4,261.9 3072.9,261.9" fill="#008000"/>
<polygon points="3089.2,208.1 3092.4,213.8 3086.0,213.8" fill="#008000"/>
<polygon points="3089.2,211.6 3092.4,217.3 3086.0,217.3" fill="#008000"/>
<polygon points="3096.2,214.1 3099.4,219.8 3093.0,219.8" fill="#008000"/>
<polygon points="3102.7,228.6 3106.0,234.4 3099.5,234.4" fill="#008000"/>
<polygon points="3109.2,207.6 3112.5,213.3 3106.0,213.3" fill="#008000"/>
<polygon points="3115.7,223.6 3119.0,229.4 3112.5,229.4" fill="#008000"/>
<polygon points="3142.3,226.6 3145.5,232.4 3139.0,232.4" fill="#008000"/>
<polygon points="3155.3,238.6 3158.5,244.4 3152.1,244.4" fill="#008000"/>
<polygon points="3155.3,250.6 3158.5,256.4 3152.1,256.4" fill="#008000"/>
<polygon points="3161.8,241.6 3165.0,247.4 3158.6,247.4" fill="#008000"/>
<polygon points="3161.8,243.6 3165.0,249.4 3158.6,249.4" fill="#008000"/>
<polygon points="3161.8,251.6 3165.0,257.4 3158.6,257.4" fill="#008000"/>
<polygon points="3168.8,277.7 3172.1,283.4 3165.6,283.4" fill="#008000"/>
<polygon points="3168.8,253.1 3172.1,258.9 3165.6,258.9" fill="#008000"/>
<polygon points="3175.3,214.6 3178.6,220.3 3172.1,220.3" fill="#008000"/>
<polygon points="3175.3,243.6 3178.6,249.4 3172.1,249.4" fill="#008000"/>
<polygon points="3181.8,245.6 3185.1,251.4 3178.6,251.4" fill="#008000"/>
<polygon points="3188.3,248.6 3191.6,254.4 3185.1,254.4" fill="#008000"/>
<polygon points="3201.4,281.7 3204.6,287.4 3198.1,287.4" fill="#008000"/>
<polygon points="3214.9,281.7 3218.1,287.4 3211.6,287.4" fill="#008000"/>
<polygon points="3214.9,291.7 3218.1,297.5 3211.6,297.5" fill="#008000"/>
<polygon points="3247.4,271.7 3250.7,277.4 3244.2,277.4" fill="#008000"/>
<polygon points="3250.9,301.7 3254.2,307.5 3247.7,307.5" fill="#008000"/>
<polygon points="3254.9,271.2 3258.2,276.9 3251.7,276.9" fill="#008000"/>
<polygon points="3261.0,283.2 3264.2,288.9 3257.7,288.9" fill="#008000"/>
<polygon points="3277.5,333.8 3280.7,339.5 3274.2,339.5" fill="#008000"/>
<polygon points="3287.5,295.2 3290.7,301.0 3284.3,301.0" fill="#008000"/>
<polygon points="3287.5,310.7 3290.7,316.5 3284.3,316.5" fill="#008000"/>
<polygon points="3287.5,281.2 3290.7,286.9 3284.3,286.9" fill="#008000"/>
<polygon points="3295.5,289.7 3298.7,295.4 3292.3,295.4" fill="#008000"/>
<rect x="3020.2" y="143.2" width="5.8" height="5.8" fill="#ee1111"/>
<rect x="3040.2" y="168.7" width="5.8" height="5.8" fill="#ee1111"/>
<rect x="3053.2" y="164.2" width="5.8" height="5.8" fill="#ee1111"/>
<rect x="3053.2" y="229.3" width="5.8" height="5.8" fill="#ee1111"/>
<rect x="3066.8" y="217.8" width="5.8" height="5.8" fill="#ee1111"/>
<rect x="3066.8" y="225.3" width="5.8" height="5.8" fill="#ee1111"/>
<rect x="3073.3" y="181.2" width="5.8" height="5.8" fill="#ee1111"/>
<rect x="3073.3" y="200.3" width="5.8" height="5.8" fill="#ee1111"/>
<rect x="3086.3" y="152.7" width="5.8" height="5.8" fill="#ee1111"/>
<rect x="3086.3" y="168.7" width="5.8" height="5.8" fill="#ee1111"/>
<rect x="3093.3" y="189.2" width="5.8" height="5.8" fill="#ee1111"/>
<rect x="3099.8" y="198.3" width="5.8" height="5.8" fill="#ee1111"/>
<rect x="3099.8" y="220.3" width="5.8" height="5.8" fill="#ee1111"/>
<rect x="3106.3" y="155.7" width="5.8" height="5.8" fill="#ee1111"/>
<rect x="3112.8" y="193.7" width="5.8" height="5.8" fill="#ee1111"/>
<rect x="3139.4" y="184.2" width="5.8" height="5.8" fill="#ee1111"/>
<rect x="3152.4" y="180.2" width="5.8" height="5.8" fill="#ee1111"/>
<rect x="3152.4" y="200.3" width="5.8" height="5.8" fill="#ee1111"/>
<rect x="3158.9" y="173.7" width="5.8" height="5.8" fill="#ee1111"/>
<rect x="3158.9" y="190.2" width="5.8" height="5.8" fill="#ee1111"/>
<rect x="3165.9" y="192.2" width="5.8" height="5.8" fill="#ee1111"/>
<rect x="3165.9" y="199.3" width="5.8" height="5.8" fill="#ee1111"/>
<rect x="3158.9" y="209.8" width="5.8" height="5.8" fill="#ee1111"/>
<rect x="3172.4" y="183.7" width="5.8" height="5.8" fill="#ee1111"/>
<rect x="3172.4" y="209.8" width="5.8" height="5.8" fill="#ee1111"/>
<rect x="3178.9" y="208.8" width="5.8" height="5.8" fill="#ee1111"/>
<rect x="3185.4" y="199.3" width="5.8" height="5.8" fill="#ee1111"/>
<rect x="3198.5" y="226.3" width="5.8" height="5.8" fill="#ee1111"/>
<rect x="3212.0" y="240.8" width="5.8" height="5.8" fill="#ee1111"/>
<rect x="3212.0" y="259.3" width="5.8" height="5.8" fill="#ee1111"/>
<rect x="3244.5" y="224.8" width="5.8" height="5.8" fill="#ee1111"/>
<rect x="3248.0" y="270.9" width="5.8" height="5.8" fill="#ee1111"/>
<rect x="3252.0" y="271.9" width="5.8" height="5.8" fill="#ee1111"/>
<rect x="3258.1" y="255.8" width="5.8" height="5.8" fill="#ee1111"/>
<rect x="3274.6" y="272.4" width="5.8" height="5.8" fill="#ee1111"/>
<rect x="3284.6" y="256.3" width="5.8" height="5.8" fill="#ee1111"/>
<rect x="3284.6" y="289.9" width="5.8" height="5.8" fill="#ee1111"/>
<rect x="3284.6" y="302.4" width="5.8" height="5.8" fill="#ee1111"/>
<rect x="3292.6" y="278.4" width="5.8" height="5.8" fill="#ee1111"/>
<rect x="3023.0" y="328.5" width="79" height="80" fill="#fff" stroke="#5e5e5e" stroke-width="0.9"/>
<circle cx="3032.0" cy="340.5" r="2.7" fill="#1111ee"/>
<circle cx="3041.1" cy="339.1" r="2.7" fill="#1111ee"/>
<circle cx="3050.2" cy="341.2" r="2.7" fill="#1111ee"/>
<text x="3065.0" y="345.1" font-size="13.5" text-anchor="start" fill="#111">H<tspan font-style="italic">α</tspan></text>
<polygon points="3032.0,355.0 3033.0,357.7 3035.8,357.8 3033.6,359.5 3034.3,362.2 3032.0,360.7 3029.7,362.2 3030.4,359.5 3028.2,357.8 3031.0,357.7" fill="#c8c800"/>
<polygon points="3041.1,353.6 3042.1,356.3 3044.9,356.4 3042.7,358.1 3043.4,360.8 3041.1,359.3 3038.8,360.8 3039.5,358.1 3037.3,356.4 3040.1,356.3" fill="#c8c800"/>
<polygon points="3050.2,355.7 3051.2,358.4 3054.0,358.5 3051.8,360.2 3052.5,362.9 3050.2,361.4 3047.9,362.9 3048.6,360.2 3046.4,358.5 3049.2,358.4" fill="#c8c800"/>
<text x="3065.0" y="363.6" font-size="13.5" text-anchor="start" fill="#111">H<tspan font-style="italic">β</tspan></text>
<polygon points="3032.0,374.3 3034.9,379.4 3029.1,379.4" fill="#008000"/>
<polygon points="3041.1,372.9 3044.0,378.0 3038.2,378.0" fill="#008000"/>
<polygon points="3050.2,375.0 3053.1,380.1 3047.3,380.1" fill="#008000"/>
<text x="3065.0" y="382.1" font-size="13.5" text-anchor="start" fill="#111">Mg II</text>
<rect x="3029.4" y="393.4" width="5.2" height="5.2" fill="#ee1111"/>
<rect x="3038.5" y="392.0" width="5.2" height="5.2" fill="#ee1111"/>
<rect x="3047.6" y="394.1" width="5.2" height="5.2" fill="#ee1111"/>
<text x="3065.0" y="400.6" font-size="13.5" text-anchor="start" fill="#111">C IV</text>
<text x="2983.0" y="262.5" font-size="25" text-anchor="middle" fill="#222" transform="rotate(-90 2983.0 262.5)" style="letter-spacing:1px">[<tspan font-style="italic">S</tspan>/<tspan font-style="italic">N</tspan>]<tspan font-size="17" font-style="italic" dy="5" letter-spacing="1.6">CONT</tspan></text>
<text x="3164.5" y="450.5" font-size="24" text-anchor="middle" fill="#222"><tspan font-style="italic">i</tspan><tspan font-size="16" font-style="italic" dy="5">AB</tspan></text>
</svg>
<svg style="left:3440px;top:105px" width="730" height="425" viewBox="3440 105 730 425">
<clipPath id="c3t"><rect x="3507.7" y="114.0" width="640.3" height="165.3"/></clipPath>
<g clip-path="url(#c3t)" fill="none" stroke-linejoin="round">
<polyline points="3507.5,64.2 3507.8,57.5 3508.2,54.4 3508.5,52.5 3508.9,47.1 3509.2,47.8 3509.5,43.7 3509.9,41.4 3510.2,52.6 3510.6,58.3 3510.9,59.3 3511.2,65.5 3511.6,72.1 3511.9,81.9 3512.2,83 3512.6,84.9 3512.9,98.1 3513.3,98.1 3513.6,108.9 3513.9,109.2 3514.3,115.3 3514.6,110.7 3515,118.2 3515.3,114.1 3515.6,117 3516,120.7 3516.3,134.5 3516.6,126.3 3517,126.1 3517.3,127.2 3517.7,136.2 3518,132.8 3518.3,136.5 3518.7,137.1 3519,130.8 3519.4,139.5 3519.7,137.3 3520,134.8 3520.4,141.9 3520.7,141.7 3521.1,144.2 3521.4,150.9 3521.7,166.6 3522.1,170.6 3522.4,165.9 3522.7,169.4 3523.1,150.7 3523.4,169.2 3523.8,150.4 3524.1,140.1 3524.4,144.8 3524.8,153.6 3525.1,163.8 3525.5,146.9 3525.8,150.4 3526.1,147.3 3526.5,150.7 3526.8,148.2 3527.1,145.8 3527.5,154.4 3527.8,151 3528.2,154.1 3528.5,152 3528.8,158.1 3529.2,155.5 3529.5,154.2 3529.9,150.1 3530.2,149.5 3530.5,160.1 3530.9,157.8 3531.2,152 3531.6,164.2 3531.9,157 3532.2,155.6 3532.6,150.7 3532.9,152.9 3533.2,157.2 3533.6,156.8 3533.9,156.7 3534.3,153.1 3534.6,157.5 3534.9,157.3 3535.3,156 3535.6,157.2 3536,157.5 3536.3,159.8 3536.6,157.4 3537,158.5 3537.3,155.2 3537.6,156.4 3538,158 3538.3,156.6 3538.7,158.9 3539,156 3539.3,158.4 3539.7,157.2 3540,161.5 3540.4,157.9 3540.7,162.7 3541,163.7 3541.4,159.8 3541.7,161.7 3542.1,161.1 3542.4,161 3542.7,174.6 3543.1,181.4 3543.4,179.6 3543.7,172 3544.1,166.4 3544.4,162.4 3544.8,158.8 3545.1,158.8 3545.4,162.2 3545.8,160.1 3546.1,159.9 3546.5,162.4 3546.8,159.5 3547.1,162.1 3547.5,158.1 3547.8,159.8 3548.1,160 3548.5,161.6 3548.8,160.5 3549.2,165 3549.5,162.9 3549.8,159.5 3550.2,165.4 3550.5,158.5 3550.9,164.4 3551.2,158.7 3551.5,162.2 3551.9,158.5 3552.2,159.9 3552.6,163.7 3552.9,157.4 3553.2,157 3553.6,160 3553.9,160.4 3554.2,160 3554.6,161.7 3554.9,157 3555.3,160.4 3555.6,159.1 3555.9,160.5 3556.3,159.9 3556.6,161.2 3557,155.3 3557.3,157.9 3557.6,155.2 3558,156.9 3558.3,158.1 3558.6,157 3559,157.4 3559.3,156.7 3559.7,159.5 3560,163 3560.3,169 3560.7,167.9 3561,159.2 3561.4,160.6 3561.7,159.5 3562,155.9 3562.4,153.8 3562.7,160.6 3563.1,158.1 3563.4,159.5 3563.7,162.7 3564.1,157.4 3564.4,159.4 3564.7,159.6 3565.1,161.8 3565.4,159.5 3565.8,162 3566.1,161.4 3566.4,163.9 3566.8,164.4 3567.1,159 3567.5,163.2 3567.8,161.6 3568.1,162.5 3568.5,163.6 3568.8,163.9 3569.1,161.5 3569.5,163.7 3569.8,163.5 3570.2,163.3 3570.5,160.9 3570.8,162.1 3571.2,162.8 3571.5,165 3571.9,167 3572.2,161.9 3572.5,161.9 3572.9,164.4 3573.2,163 3573.6,162.5 3573.9,162.5 3574.2,162.4 3574.6,165.4 3574.9,161.3 3575.2,167.4 3575.6,162.7 3575.9,163.6 3576.3,162.8 3576.6,160.8 3576.9,161.7 3577.3,167.4 3577.6,168.8 3578,163.1 3578.3,167.2 3578.6,165 3579,163.2 3579.3,168.8 3579.6,170 3580,164.4 3580.3,164.9 3580.7,165.6 3581,165 3581.3,167 3581.7,168.6 3582,165.4 3582.4,167.2 3582.7,168.8 3583,163.9 3583.4,165.1 3583.7,164 3584.1,167.1 3584.4,166.3 3584.7,167.1 3585.1,166.7 3585.4,164.2 3585.7,166.3 3586.1,163.7 3586.4,163.6 3586.8,160.1 3587.1,167.3 3587.4,162.1 3587.8,164 3588.1,163.7 3588.5,166.8 3588.8,164.2 3589.1,161.4 3589.5,162.9 3589.8,162.2 3590.1,162.7 3590.5,159.2 3590.8,161.2 3591.2,166 3591.5,161.7 3591.8,164.3 3592.2,167.1 3592.5,159.4 3592.9,154.6 3593.2,156.4 3593.5,158.2 3593.9,156.6 3594.2,150.9 3594.6,151.8 3594.9,150.8 3595.2,149.7 3595.6,148.3 3595.9,145.5 3596.2,145.3 3596.6,146.2 3596.9,150.7 3597.3,149.8 3597.6,153.4 3597.9,148 3598.3,151.4 3598.6,148.3 3599,148.7 3599.3,153 3599.6,147.6 3600,149.5 3600.3,154.9 3600.6,153.4 3601,155.4 3601.3,163.6 3601.7,157.7 3602,159.3 3602.3,159.7 3602.7,163.1 3603,161.9 3603.4,162.3 3603.7,160 3604,162.2 3604.4,163.4 3604.7,160.6 3605.1,165.5 3605.4,165.4 3605.7,169.2 3606.1,161.9 3606.4,163.4 3606.7,163.7 3607.1,164.5 3607.4,165.9 3607.8,165.9 3608.1,167.1 3608.4,167.1 3608.8,166.7 3609.1,163.8 3609.5,165.9 3609.8,167.4 3610.1,168.7 3610.5,168.9 3610.8,164.2 3611.1,166.6 3611.5,167.6 3611.8,168.6 3612.2,170.7 3612.5,169.6 3612.8,171.8 3613.2,183.1 3613.5,190.2 3613.9,186 3614.2,175.9 3614.5,174.3 3614.9,169.1 3615.2,170.1 3615.6,166.2 3615.9,169.8 3616.2,166.8 3616.6,164.9 3616.9,168.8 3617.2,169.4 3617.6,167.7 3617.9,168.2 3618.3,170.6 3618.6,167.4 3618.9,164.4 3619.3,169.3 3619.6,169.3 3620,171.4 3620.3,168.5 3620.6,172.3 3621,172.1 3621.3,167 3621.6,172 3622,167.8 3622.3,167 3622.7,169.8 3623,169.3 3623.3,166.6 3623.7,171.2 3624,172.2 3624.4,174.2 3624.7,171 3625,168.1 3625.4,169.3 3625.7,173.6 3626.1,173.5 3626.4,172.7 3626.7,171 3627.1,172.2 3627.4,171.3 3627.7,171.2 3628.1,172.6 3628.4,172.1 3628.8,171.6 3629.1,172.3 3629.4,171.1 3629.8,168.3 3630.1,171 3630.5,172.2 3630.8,176.3 3631.1,171.6 3631.5,177.1 3631.8,175.8 3632.1,170.7 3632.5,171.1 3632.8,173 3633.2,176.7 3633.5,173.5 3633.8,174.3 3634.2,171.4 3634.5,168.2 3634.9,172.4 3635.2,174.7 3635.5,175.6 3635.9,173.1 3636.2,173.4 3636.6,175.7 3636.9,172.8 3637.2,175.8 3637.6,170.8 3637.9,170.9 3638.2,170.9 3638.6,174.3 3638.9,172.2 3639.3,173.7 3639.6,174.3 3639.9,174.2 3640.3,176.5 3640.6,176.9 3641,171.9 3641.3,174.1 3641.6,173.2 3642,171.6 3642.3,177.9 3642.6,175.6 3643,173.5 3643.3,173.1 3643.7,174.9 3644,171.9 3644.3,173.7 3644.7,177 3645,176.4 3645.4,172.6 3645.7,173.4 3646,178.9 3646.4,171.6 3646.7,173.3 3647.1,171.8 3647.4,175.5 3647.7,175.4 3648.1,177.4 3648.4,169.7 3648.7,175.3 3649.1,171.7 3649.4,176.5 3649.8,174.8 3650.1,179.1 3650.4,176.1 3650.8,173.2 3651.1,178.3 3651.5,173.2 3651.8,174.8 3652.1,178 3652.5,176.8 3652.8,176.7 3653.1,175.9 3653.5,177 3653.8,177.7 3654.2,176.6 3654.5,178.3 3654.8,179 3655.2,176.2 3655.5,174.3 3655.9,179.8 3656.2,176.2 3656.5,177.8 3656.9,178.6 3657.2,174.5 3657.6,177.6 3657.9,173.3 3658.2,178.3 3658.6,175.7 3658.9,177.1 3659.2,178.3 3659.6,175.3 3659.9,177 3660.3,175.3 3660.6,176.8 3660.9,179.1 3661.3,176.9 3661.6,176.5 3662,174.6 3662.3,178.7 3662.6,177.1 3663,183.3 3663.3,184.9 3663.6,199.1 3664,199.6 3664.3,184.8 3664.7,176 3665,180.1 3665.3,178.6 3665.7,177.7 3666,178.5 3666.4,174.9 3666.7,177.3 3667,176.9 3667.4,173.8 3667.7,176.5 3668.1,173.6 3668.4,176.4 3668.7,176.6 3669.1,177.7 3669.4,169 3669.7,173.1 3670.1,171.3 3670.4,171.3 3670.8,170.2 3671.1,169.8 3671.4,165.3 3671.8,171 3672.1,171.6 3672.5,169.9 3672.8,170.3 3673.1,165.5 3673.5,165.4 3673.8,169.7 3674.1,171.1 3674.5,169.3 3674.8,166.2 3675.2,176.8 3675.5,169.5 3675.8,173.8 3676.2,169.8 3676.5,175.2 3676.9,174 3677.2,177.4 3677.5,176.7 3677.9,172 3678.2,173.6 3678.6,176.6 3678.9,178.1 3679.2,180.9 3679.6,177.6 3679.9,177 3680.2,177.4 3680.6,177.6 3680.9,180.2 3681.3,178 3681.6,178.3 3681.9,177.8 3682.3,186.6 3682.6,216.4 3683,225.6 3683.3,195.9 3683.6,184 3684,181 3684.3,179.1 3684.6,181.4 3685,177.8 3685.3,179.5 3685.7,178.8 3686,179.8 3686.3,181.1 3686.7,181.7 3687,180.1 3687.4,180.9 3687.7,179.2 3688,179.8 3688.4,183 3688.7,179.8 3689.1,183.1 3689.4,181.4 3689.7,180.8 3690.1,185.1 3690.4,180 3690.7,180 3691.1,180.7 3691.4,181.4 3691.8,181.3 3692.1,182.8 3692.4,181.2 3692.8,181.9 3693.1,180.5 3693.5,183.6 3693.8,180.3 3694.1,180.6 3694.5,181.3 3694.8,182 3695.1,179.9 3695.5,185.1 3695.8,180.2 3696.2,180.7 3696.5,180.7 3696.8,180.6 3697.2,182.9 3697.5,182.1 3697.9,180.2 3698.2,180.7 3698.5,181.2 3698.9,185.3 3699.2,180.6 3699.6,179.4 3699.9,179.8 3700.2,181.5 3700.6,185.7 3700.9,180.1 3701.2,182.5 3701.6,188.3 3701.9,181.4 3702.3,185.8 3702.6,185.3 3702.9,183.8 3703.3,179.8 3703.6,183.3 3704,182 3704.3,179 3704.6,179.3 3705,182.9 3705.3,183.3 3705.6,185.7 3706,184.4 3706.3,182 3706.7,182.1 3707,182.7 3707.3,180.9 3707.7,184.8 3708,183.2 3708.4,181.6 3708.7,181.9 3709,181 3709.4,182.4 3709.7,184 3710.1,182.6 3710.4,185.7 3710.7,187.3 3711.1,182.2 3711.4,183.7 3711.7,182.9 3712.1,187.6 3712.4,184.5 3712.8,185.1 3713.1,185.7 3713.4,189.2 3713.8,184.6 3714.1,182 3714.5,183.1 3714.8,185.4 3715.1,184.1 3715.5,182.5 3715.8,191 3716.1,184.5 3716.5,183.1 3716.8,182.9 3717.2,180.9 3717.5,182.1 3717.8,183.9 3718.2,183.9 3718.5,183 3718.9,185.9 3719.2,184.9 3719.5,182.9 3719.9,180.9 3720.2,185.3 3720.6,185.1 3720.9,184.6 3721.2,182.3 3721.6,185.3 3721.9,182.2 3722.2,187.5 3722.6,185.8 3722.9,185.9 3723.3,183.8 3723.6,183.3 3723.9,189.1 3724.3,187.7 3724.6,185 3725,187.2 3725.3,189.3 3725.6,183.6 3726,184.8 3726.3,184.9 3726.6,187.1 3727,183.8 3727.3,186.6 3727.7,183.8 3728,188.2 3728.3,188.1 3728.7,186 3729,190.4 3729.4,197.8 3729.7,214.2 3730,206.1 3730.4,190.5 3730.7,187.6 3731.1,184.5 3731.4,187.8 3731.7,187.5 3732.1,184.9 3732.4,190.9 3732.7,226.3 3733.1,264.3 3733.4,204.7 3733.8,186.1 3734.1,186.9 3734.4,188.6 3734.8,186.1 3735.1,185.4 3735.5,188.2 3735.8,190.2 3736.1,189.6 3736.5,184.8 3736.8,187.9 3737.1,186.5 3737.5,185.7 3737.8,184.8 3738.2,186.8 3738.5,184.9 3738.8,188 3739.2,186.7 3739.5,188.2 3739.9,183.4 3740.2,185.9 3740.5,187.4 3740.9,186.5 3741.2,186.2 3741.6,184.1 3741.9,189.3 3742.2,187.9 3742.6,186.3 3742.9,180.3 3743.2,183.4 3743.6,185.6 3743.9,183.8 3744.3,181 3744.6,185.8 3744.9,186 3745.3,182.6 3745.6,184.1 3746,183.7 3746.3,186.2 3746.6,181.1 3747,181.5 3747.3,183.8 3747.6,183.5 3748,189.8 3748.3,183.6 3748.7,185.4 3749,184 3749.3,183.5 3749.7,185.7 3750,188.9 3750.4,184.1 3750.7,186.6 3751,185.7 3751.4,186.3 3751.7,185.7 3752.1,190.5 3752.4,182.4 3752.7,184.4 3753.1,182.6 3753.4,180.9 3753.7,185 3754.1,189.3 3754.4,187.1 3754.8,187.9 3755.1,186.2 3755.4,184.9 3755.8,189.9 3756.1,184.4 3756.5,188.7 3756.8,184.6 3757.1,185.5 3757.5,186 3757.8,185.4 3758.1,186.5 3758.5,186.7 3758.8,189.3 3759.2,185.5 3759.5,181.6 3759.8,181.4 3760.2,182.7 3760.5,184 3760.9,187.1 3761.2,182.6 3761.5,185.8 3761.9,185.9 3762.2,186.5 3762.6,185.7 3762.9,186.9 3763.2,186.2 3763.6,188.5 3763.9,186.9 3764.2,181.5 3764.6,186.4 3764.9,186.9 3765.3,185.3 3765.6,185 3765.9,189.1 3766.3,187.1 3766.6,184.8 3767,186.2 3767.3,186.6 3767.6,183.8 3768,188.6 3768.3,187 3768.6,188.4 3769,184.2 3769.3,192.1 3769.7,189 3770,188.8 3770.3,186.3 3770.7,186.5 3771,184.9 3771.4,191.6 3771.7,186.4 3772,188.7 3772.4,189.6 3772.7,187 3773.1,190.3 3773.4,193.2 3773.7,189.2 3774.1,191.9 3774.4,189.9 3774.7,187.6 3775.1,187.8 3775.4,185.2 3775.8,189 3776.1,192.1 3776.4,190.3 3776.8,190.7 3777.1,191.4 3777.5,187.6 3777.8,190 3778.1,193.2 3778.5,187.1 3778.8,188.8 3779.1,187.8 3779.5,188.3 3779.8,187.2 3780.2,188.4 3780.5,185.9 3780.8,187.6 3781.2,187.6 3781.5,187.6 3781.9,191.8 3782.2,188.8 3782.5,189 3782.9,188 3783.2,191.6 3783.6,185.1 3783.9,188.3 3784.2,191.3 3784.6,192.5 3784.9,189.2 3785.2,188.8 3785.6,190.2 3785.9,188.4 3786.3,190.1 3786.6,187.5 3786.9,190.4 3787.3,188.9 3787.6,186.8 3788,183.7 3788.3,191.3 3788.6,190.1 3789,191 3789.3,187.5 3789.6,191.9 3790,190.4 3790.3,189.5 3790.7,191.8 3791,191.8 3791.3,190.7 3791.7,194.8 3792,193.2 3792.4,190.8 3792.7,189.7 3793,190.5 3793.4,194.3 3793.7,191.3 3794.1,188.6 3794.4,189.2 3794.7,190.6 3795.1,192.5 3795.4,189.2 3795.7,191.9 3796.1,193.4 3796.4,192.5 3796.8,187.7 3797.1,190.3 3797.4,188.4 3797.8,191.9 3798.1,188.9 3798.5,192.2 3798.8,191.3 3799.1,185.9 3799.5,189.3 3799.8,192 3800.1,191.1 3800.5,190.2 3800.8,188.3 3801.2,191.9 3801.5,194.9 3801.8,191.4 3802.2,190.7 3802.5,190.5 3802.9,187.9 3803.2,189.9 3803.5,188.8 3803.9,193 3804.2,188.5 3804.6,186 3804.9,188.5 3805.2,189.5 3805.6,189.5 3805.9,186 3806.2,191.6 3806.6,189.5 3806.9,188 3807.3,187.1 3807.6,189.3 3807.9,187.3 3808.3,188.1 3808.6,186.6 3809,186.5 3809.3,188 3809.6,184.5 3810,181.5 3810.3,184.4 3810.6,181.5 3811,178.2 3811.3,180.9 3811.7,177.2 3812,179.5 3812.3,174.6 3812.7,172.8 3813,174.3 3813.4,180.2 3813.7,179.6 3814,182.3 3814.4,183.7 3814.7,181.9 3815.1,189.3 3815.4,185 3815.7,188.2 3816.1,185.9 3816.4,189.1 3816.7,191.5 3817.1,189.9 3817.4,189.3 3817.8,191.2 3818.1,190.5 3818.4,193 3818.8,197.2 3819.1,190.4 3819.5,191 3819.8,192.3 3820.1,192.7 3820.5,190.7 3820.8,194.1 3821.1,194.7 3821.5,193.7 3821.8,190.8 3822.2,196.6 3822.5,190.9 3822.8,195 3823.2,196.1 3823.5,191 3823.9,193.9 3824.2,196.7 3824.5,194.6 3824.9,191.8 3825.2,191.3 3825.6,194.8 3825.9,193 3826.2,192.4 3826.6,195.4 3826.9,193.3 3827.2,194.1 3827.6,195.3 3827.9,195.3 3828.3,194 3828.6,194.2 3828.9,195.6 3829.3,195.3 3829.6,192 3830,194 3830.3,192.6 3830.6,192 3831,193.3 3831.3,190 3831.6,196.6 3832,193.1 3832.3,195.6 3832.7,191.1 3833,191.5 3833.3,199.8 3833.7,197.4 3834,193.9 3834.4,193.7 3834.7,193.9 3835,195.7 3835.4,194.7 3835.7,194.3 3836.1,196 3836.4,193.8 3836.7,201.5 3837.1,194.8 3837.4,198.6 3837.7,194.3 3838.1,197 3838.4,198.6 3838.8,195.9 3839.1,198.8 3839.4,199 3839.8,200.6 3840.1,197.1 3840.5,196.1 3840.8,195.1 3841.1,197.7 3841.5,195.2 3841.8,197.5 3842.1,197.9 3842.5,196.5 3842.8,195.6 3843.2,198.7 3843.5,198.5 3843.8,198.4 3844.2,198 3844.5,200.3 3844.9,196.1 3845.2,199.3 3845.5,197.4 3845.9,200.4 3846.2,197.8 3846.6,197.8 3846.9,199.6 3847.2,194.6 3847.6,198 3847.9,195.1 3848.2,196.8 3848.6,200.4 3848.9,199.8 3849.3,198.1 3849.6,198.9 3849.9,199 3850.3,199.8 3850.6,203.4 3851,199.7 3851.3,204.6 3851.6,198.5 3852,201 3852.3,201 3852.6,199.9 3853,198.9 3853.3,202.9 3853.7,203.7 3854,202.1 3854.3,204.5 3854.7,201.9 3855,196.5 3855.4,202.3 3855.7,198.5 3856,203.2 3856.4,199.4 3856.7,200.8 3857.1,200.3 3857.4,199 3857.7,196.7 3858.1,200 3858.4,200.2 3858.7,202.8 3859.1,199.4 3859.4,201.3 3859.8,199 3860.1,201 3860.4,197.3 3860.8,205.8 3861.1,201.8 3861.5,199.3 3861.8,202.1 3862.1,203.2 3862.5,202.1 3862.8,204.8 3863.1,201.4 3863.5,196.8 3863.8,199.4 3864.2,204.4 3864.5,204 3864.8,202.9 3865.2,200 3865.5,204.1 3865.9,203.8 3866.2,200.5 3866.5,200.6 3866.9,203.3 3867.2,205.1 3867.6,206.3 3867.9,204.3 3868.2,208.1 3868.6,201.3 3868.9,204.4 3869.2,202 3869.6,199.2 3869.9,200.7 3870.3,205.9 3870.6,201.5 3870.9,200.9 3871.3,205.2 3871.6,205.7 3872,203.9 3872.3,207.4 3872.6,200.7 3873,209.7 3873.3,206.5 3873.6,204.6 3874,204.6 3874.3,203.9 3874.7,203.7 3875,204.9 3875.3,202.1 3875.7,209.7 3876,204.7 3876.4,206.4 3876.7,204.6 3877,204.5 3877.4,207.2 3877.7,206.6 3878.1,203.6 3878.4,204.6 3878.7,207 3879.1,201.4 3879.4,201 3879.7,209.2 3880.1,205.2 3880.4,200.9 3880.8,204.4 3881.1,205.7 3881.4,206.7 3881.8,207.5 3882.1,206.9 3882.5,207.7 3882.8,205 3883.1,207.6 3883.5,207.7 3883.8,209.6 3884.1,207 3884.5,209 3884.8,207.5 3885.2,204.9 3885.5,206.4 3885.8,206.2 3886.2,206.6 3886.5,207.3 3886.9,207.8 3887.2,208.3 3887.5,206 3887.9,210.2 3888.2,205 3888.6,207.8 3888.9,209.6 3889.2,209.1 3889.6,209.6 3889.9,207.8 3890.2,209.9 3890.6,205.9 3890.9,210.2 3891.3,213.9 3891.6,210.2 3891.9,213.4 3892.3,208.8 3892.6,206.6 3893,207.5 3893.3,212.1 3893.6,210.8 3894,205.5 3894.3,208.6 3894.6,209.4 3895,207.2 3895.3,204.6 3895.7,206.9 3896,209.5 3896.3,209.1 3896.7,208.7 3897,211.5 3897.4,212.6 3897.7,210.2 3898,212.6 3898.4,210.7 3898.7,210.5 3899.1,194.5 3899.4,219.8 3899.7,212.2 3900.1,248.4 3900.4,207.5 3900.7,203.1 3901.1,236.2 3901.4,220.3 3901.8,232.2 3902.1,221.8 3902.4,207.6 3902.8,211.8 3903.1,223.4 3903.5,216.1 3903.8,212.4 3904.1,208.5 3904.5,218.9 3904.8,215.5 3905.1,255.4 3905.5,226.2 3905.8,201.5 3906.2,245.4 3906.5,217.1 3906.8,212.1 3907.2,217.8 3907.5,222.7 3907.9,215 3908.2,214.7 3908.5,215.5 3908.9,239.7 3909.2,216.4 3909.6,224.2 3909.9,220.8 3910.2,213.5 3910.6,210.3 3910.9,208.5 3911.2,220.8 3911.6,208.6 3911.9,207 3912.3,207.4 3912.6,205.8 3912.9,218 3913.3,218.4 3913.6,210.2 3914,232.9 3914.3,215.3 3914.6,251.8 3915,221 3915.3,239.7 3915.6,227.1 3916,218.1 3916.3,210.8 3916.7,210.2 3917,219 3917.3,220.2 3917.7,227.2 3918,215.2 3918.4,221.2 3918.7,213.9 3919,206.2 3919.4,219.6 3919.7,237.4 3920.1,228.6 3920.4,237 3920.7,233.3 3921.1,209.9 3921.4,218.1 3921.7,238.6 3922.1,215 3922.4,210.8 3922.8,224.2 3923.1,227.7 3923.4,224.3 3923.8,218.7 3924.1,215.9 3924.5,212.2 3924.8,212.1 3925.1,212.4 3925.5,211.4 3925.8,216.5 3926.1,240.6 3926.5,223.5 3926.8,222 3927.2,268.5 3927.5,240.3 3927.8,227.3 3928.2,232.9 3928.5,212.1 3928.9,217.7 3929.2,221.5 3929.5,216.1 3929.9,215.3 3930.2,220.9 3930.6,263.3 3930.9,231 3931.2,228.7 3931.6,235 3931.9,222.8 3932.2,215.3 3932.6,229.5 3932.9,237.5 3933.3,210.5 3933.6,229.6 3933.9,239.2 3934.3,224.4 3934.6,247.3 3935,260.1 3935.3,220.5 3935.6,230.7 3936,235.8 3936.3,224.5 3936.6,219.8 3937,232.7 3937.3,223.5 3937.7,227.4 3938,207.8 3938.3,233.9 3938.7,216.2 3939,227.4 3939.4,228.2 3939.7,221.1 3940,219.9 3940.4,217.4 3940.7,225.7 3941.1,269.5 3941.4,271.1 3941.7,228.4 3942.1,282.7 3942.4,230.8 3942.7,224.4 3943.1,219.4 3943.4,216.4 3943.8,226.5 3944.1,245.7 3944.4,241.2 3944.8,245.1 3945.1,257.2 3945.5,237.1 3945.8,218.7 3946.1,223.4 3946.5,215.7 3946.8,220.5 3947.1,229.5 3947.5,230.5 3947.8,227.9 3948.2,227.2 3948.5,234.1 3948.8,229.2 3949.2,238.5 3949.5,250.4 3949.9,226.8 3950.2,238.8 3950.5,227.5 3950.9,222.4 3951.2,229.9 3951.6,223 3951.9,248.9 3952.2,220.8 3952.6,235.6 3952.9,224.4 3953.2,228.1 3953.6,310.8 3953.9,237.6 3954.3,228 3954.6,218.3 3954.9,227.5 3955.3,227.8 3955.6,237.1 3956,224.5 3956.3,223.2 3956.6,230.2 3957,231.4 3957.3,238.6 3957.6,226.9 3958,220.5 3958.3,227.6 3958.7,225.6 3959,228.5 3959.3,235.5 3959.7,225.5 3960,236.9 3960.4,231.9 3960.7,260 3961,227.4 3961.4,229.4 3961.7,229.5 3962.1,234.8 3962.4,237.6 3962.7,231.1 3963.1,234.7 3963.4,237.8 3963.7,237.6 3964.1,233.7 3964.4,241 3964.8,238.1 3965.1,239.7 3965.4,254.4 3965.8,229.8 3966.1,223.8 3966.5,239 3966.8,234.7 3967.1,227.7 3967.5,232.3 3967.8,232.7 3968.1,224.3 3968.5,232.4 3968.8,236.2 3969.2,236.7 3969.5,228.3 3969.8,227.8 3970.2,235 3970.5,231.9 3970.9,223.8 3971.2,222.5 3971.5,227.1 3971.9,221.4 3972.2,222.2 3972.6,234.8 3972.9,228.5 3973.2,226.5 3973.6,232 3973.9,241.4 3974.2,232.1 3974.6,228.2 3974.9,225.5 3975.3,243.6 3975.6,222.6 3975.9,238 3976.3,228.8 3976.6,227.9 3977,229 3977.3,232.4 3977.6,238.8 3978,230.6 3978.3,236.6 3978.6,247 3979,222.7 3979.3,230.3 3979.7,226.1 3980,237.5 3980.3,227.2 3980.7,226.7 3981,226.8 3981.4,233 3981.7,238.6 3982,233.5 3982.4,244.2 3982.7,241 3983.1,231.9 3983.4,236.9 3983.7,232.8 3984.1,232.4 3984.4,224.3 3984.7,226.4 3985.1,231.7 3985.4,226.5 3985.8,234.9 3986.1,232.6 3986.4,227.2 3986.8,236.9 3987.1,232 3987.5,237.1 3987.8,230.1 3988.1,224.1 3988.5,234 3988.8,229.5 3989.1,234.7 3989.5,235.9 3989.8,236.4 3990.2,224.6 3990.5,221.5 3990.8,228.5 3991.2,234 3991.5,227.8 3991.9,232.4 3992.2,227.7 3992.5,230 3992.9,230.2 3993.2,229.1 3993.6,234.5 3993.9,233.9 3994.2,241 3994.6,234.6 3994.9,239.8 3995.2,233.8 3995.6,237.9 3995.9,233.2 3996.3,232.1 3996.6,252.2 3996.9,314.3 3997.3,241.2 3997.6,232 3998,228.6 3998.3,232.1 3998.6,249.5 3999,230.2 3999.3,243.8 3999.6,230.5 4000,239.7 4000.3,252.4 4000.7,227.1 4001,230.9 4001.3,242.2 4001.7,277.5 4002,238.5 4002.4,237.2 4002.7,245 4003,240.9 4003.4,235.7 4003.7,236.8 4004.1,232.9 4004.4,237.4 4004.7,228.7 4005.1,240.9 4005.4,236.4 4005.7,247.2 4006.1,288.6 4006.4,231.6 4006.8,241.2 4007.1,234.2 4007.4,236.4 4007.8,240.7 4008.1,236.9 4008.5,237.1 4008.8,236.3 4009.1,230.1 4009.5,229.5 4009.8,233.8 4010.1,234.1 4010.5,227 4010.8,250.6 4011.2,220 4011.5,212 4011.8,216.1 4012.2,217.6 4012.5,216.4 4012.9,218.8 4013.2,219.2 4013.5,220.8 4013.9,219.8 4014.2,222.2 4014.6,219.6 4014.9,226.9 4015.2,228 4015.6,234.9 4015.9,224.1 4016.2,229.8 4016.6,226 4016.9,230.7 4017.3,228.8 4017.6,236.6 4017.9,233.1 4018.3,226.5 4018.6,243 4019,232.7 4019.3,231.2 4019.6,236.4 4020,247.9 4020.3,233.7 4020.6,242.3 4021,237.7 4021.3,243.9 4021.7,243.2 4022,243.2 4022.3,241 4022.7,239.1 4023,235.7 4023.4,241.7 4023.7,224.9 4024,229.1 4024.4,234.3 4024.7,289.3 4025.1,242.4 4025.4,240.1 4025.7,240.9 4026.1,251.5 4026.4,239.8 4026.7,232 4027.1,252.8 4027.4,239 4027.8,241.7 4028.1,243.9 4028.4,237.7 4028.8,249.3 4029.1,242.7 4029.5,237.4 4029.8,244.3 4030.1,245.3 4030.5,242.8 4030.8,245.4 4031.1,236.9 4031.5,247.6 4031.8,239.4 4032.2,249.3 4032.5,240.1 4032.8,243.4 4033.2,257.5 4033.5,242.8 4033.9,247.9 4034.2,244.7 4034.5,236.2 4034.9,248 4035.2,247.6 4035.6,256.9 4035.9,241.7 4036.2,235.9 4036.6,240.7 4036.9,246.4 4037.2,242.4 4037.6,236.9 4037.9,238 4038.3,242 4038.6,241.7 4038.9,242.4 4039.3,244.7 4039.6,234.2 4040,241.9 4040.3,247.6 4040.6,244.2 4041,238.9 4041.3,239.3 4041.6,242.8 4042,245.4 4042.3,242.2 4042.7,251.1 4043,249 4043.3,239.2 4043.7,245 4044,241.3 4044.4,238 4044.7,240.5 4045,243.4 4045.4,235.3 4045.7,241.1 4046.1,245.9 4046.4,241.3" stroke="#111" stroke-width="0.7"/>
<polyline points="4082.3,251.2 4082.6,254.6 4083,254.3 4083.3,289.7 4083.7,258.4 4084,257.2 4084.3,249.8 4084.7,253.5 4085,254.2 4085.3,251.7 4085.7,250.2 4086,251.7 4086.4,250.2 4086.7,252.1 4087,249.8 4087.4,249.8 4087.7,252.7 4088.1,249.4 4088.4,252.1 4088.7,252.3 4089.1,254.6 4089.4,253.1 4089.7,250.8 4090.1,255.6 4090.4,251.1 4090.8,251.8 4091.1,251.9 4091.4,257.8 4091.8,252.8 4092.1,251.2 4092.5,254.3 4092.8,252.4 4093.1,258.4 4093.5,251.2 4093.8,254.2 4094.2,250.8 4094.5,257 4094.8,251.2 4095.2,253.3 4095.5,251 4095.8,254.9 4096.2,254.2 4096.5,248.2 4096.9,254.7 4097.2,254.4 4097.5,253.5 4097.9,255.2 4098.2,250.4 4098.6,249.4 4098.9,254.6 4099.2,257 4099.6,250.5 4099.9,250.7 4100.2,251.3 4100.6,250.6 4100.9,255.1 4101.3,253.5 4101.6,256.4 4101.9,256.5 4102.3,251.1 4102.6,254.7 4103,248.6 4103.3,253.1 4103.6,254.7 4104,251.5 4104.3,249.5 4104.7,252.2 4105,256 4105.3,252.4 4105.7,250.3 4106,254.3 4106.3,254.9 4106.7,250.9 4107,256.8 4107.4,278.2 4107.7,253.9 4108,254.6 4108.4,252.2 4108.7,252.5 4109.1,250.2 4109.4,251 4109.7,256.1 4110.1,251.4 4110.4,250.2 4110.7,251 4111.1,249.6 4111.4,252.8 4111.8,253.5 4112.1,249.1 4112.4,253.2 4112.8,255.6 4113.1,247.9 4113.5,251.3 4113.8,249.9 4114.1,252 4114.5,251.2 4114.8,250.2 4115.2,247.6 4115.5,245.2 4115.8,250.6 4116.2,242.4 4116.5,245.6 4116.8,244 4117.2,238.5 4117.5,238.4 4117.9,239.9 4118.2,230.2 4118.5,233.4 4118.9,227.9 4119.2,224.6 4119.6,218.2 4119.9,217.8 4120.2,209.7 4120.6,208.2 4120.9,198.7 4121.2,197.4 4121.6,192.1 4121.9,184.7 4122.3,187.7 4122.6,190.6 4122.9,190.5 4123.3,199.7 4123.6,208.1 4124,210.2 4124.3,219.7 4124.6,219.2 4125,223.2 4125.3,230.7 4125.7,234 4126,235.1 4126.3,237.9 4126.7,242.4 4127,240.8 4127.3,248.6 4127.7,246.2 4128,247.5 4128.4,248.4 4128.7,248.2 4129,252.7 4129.4,249.5 4129.7,251.9 4130.1,253.7 4130.4,256 4130.7,256.2 4131.1,253.2 4131.4,256.7 4131.7,254.9 4132.1,253.2 4132.4,253.6 4132.8,253 4133.1,257.2 4133.4,259.4 4133.8,255 4134.1,256.8 4134.5,255.4 4134.8,258 4135.1,253.1 4135.5,254.7 4135.8,255.5 4136.2,256.6 4136.5,257.3 4136.8,258.3 4137.2,258.5 4137.5,264.2 4137.8,274.3 4138.2,252.8 4138.5,260.7 4138.9,256 4139.2,260.9 4139.5,261.9 4139.9,252.4 4140.2,262.4 4140.6,267.8 4140.9,264.8 4141.2,262.9 4141.6,252.7 4141.9,260.6 4142.2,257.6 4142.6,267 4142.9,260.3 4143.3,259 4143.6,254.6 4143.9,265.8 4144.3,259.7 4144.6,261.1 4145,267.8 4145.3,262.8 4145.6,264.1 4146,276.4 4146.3,260.3 4146.7,260.7 4147,265.4 4147.3,270.4 4147.7,257.1 4148,262.3 4148.3,259.1 4148.7,257.6 4149,266.3 4149.4,260.2 4149.7,265.1 4150,264.3 4150.4,264.5 4150.7,264.2" stroke="#111" stroke-width="0.7"/>
<polyline points="3585.6,212.6 3585.8,268.5 3586,220.9 3586.2,214.7 3586.5,206 3586.7,216.9 3586.9,216.3 3587.1,220.7 3587.3,207.9 3587.5,218 3587.7,219.6 3588,221.1 3588.2,208.2 3588.4,218.4 3588.6,234.7 3588.8,207.2 3589,219.8 3589.3,208.9 3589.5,208.6 3589.7,202 3589.9,202.9 3590.1,217.2 3590.3,212.5 3590.5,226 3590.8,197.5 3591,206.1 3591.2,198.6 3591.4,212.4 3591.6,231.8 3591.8,189.5 3592,200 3592.3,199.2 3592.5,199.4 3592.7,193.8 3592.9,197.2 3593.1,203.7 3593.3,194.3 3593.6,198.6 3593.8,197.7 3594,190.5 3594.2,192 3594.4,195.1 3594.6,199.7 3594.8,191.9 3595.1,190 3595.3,191.1 3595.5,194.3 3595.7,191.9 3595.9,192.9 3596.1,187.4 3596.3,185 3596.6,184 3596.8,189.2 3597,185.8 3597.2,184.8 3597.4,188.2 3597.6,187.1 3597.9,180.9 3598.1,186.7 3598.3,185.2 3598.5,189.9 3598.7,189.1 3598.9,195.9 3599.1,190.8 3599.4,188 3599.6,186.4 3599.8,189.7 3600,192 3600.2,194.8 3600.4,197.7 3600.6,197.1 3600.9,195.5 3601.1,200.7 3601.3,196 3601.5,202.8 3601.7,206.3 3601.9,204.1 3602.2,207.1 3602.4,206.6 3602.6,199.1 3602.8,203.6 3603,202.7 3603.2,200.4 3603.4,200.6 3603.7,206.3 3603.9,201.2 3604.1,204.3 3604.3,205.8 3604.5,204.8 3604.7,211.3 3604.9,209.3 3605.2,207.3 3605.4,205.4 3605.6,208.7 3605.8,208.1 3606,205.1 3606.2,204 3606.5,206.1 3606.7,204.8 3606.9,210.1 3607.1,209.9 3607.3,208.1 3607.5,210.3 3607.7,211.1 3608,204.8 3608.2,210.4 3608.4,213.1 3608.6,208.5 3608.8,204.8 3609,210 3609.2,206.7 3609.5,211.9 3609.7,212.2 3609.9,213 3610.1,211.3 3610.3,205.6 3610.5,214.9 3610.8,206.4 3611,214.6 3611.2,212 3611.4,208.9 3611.6,209.6 3611.8,210.7 3612,217.3 3612.3,210.6 3612.5,215.2 3612.7,204.7 3612.9,212.6 3613.1,211.4 3613.3,215.9 3613.5,213.7 3613.8,216.6 3614,209.3 3614.2,213.2 3614.4,210.7 3614.6,214.7 3614.8,214.1 3615.1,208.7 3615.3,215.8 3615.5,218.9 3615.7,211.5 3615.9,216.6 3616.1,214.2 3616.3,210.1 3616.6,215.6 3616.8,210.3 3617,215.2 3617.2,208.7 3617.4,209.2 3617.6,214.7 3617.8,213.9 3618.1,216 3618.3,212.7 3618.5,209.9 3618.7,218.3 3618.9,210.7 3619.1,217.9 3619.4,216.3 3619.6,219.8 3619.8,207.6 3620,213.5 3620.2,212.9 3620.4,215.9 3620.6,210.6 3620.9,221.2 3621.1,213.7 3621.3,207.6 3621.5,215.1 3621.7,213.9 3621.9,211.9 3622.1,216.7 3622.4,214 3622.6,211.2 3622.8,213.5 3623,213 3623.2,215.3 3623.4,213.2 3623.7,214.1 3623.9,210 3624.1,212.1 3624.3,215.1 3624.5,223.2 3624.7,212.3 3624.9,212.2 3625.2,217.5 3625.4,221.5 3625.6,218.4 3625.8,211.8 3626,218.2 3626.2,216.1 3626.4,214 3626.7,211.1 3626.9,214.8 3627.1,215.1 3627.3,216.6 3627.5,210.1 3627.7,211.7 3628,215.2 3628.2,219.7 3628.4,217.6 3628.6,213.2 3628.8,217.4 3629,212.4 3629.2,214 3629.5,214.2 3629.7,213.1 3629.9,213.6 3630.1,218 3630.3,216.3 3630.5,208.6 3630.7,219.3 3631,216.8 3631.2,212.1 3631.4,215.9 3631.6,218.1 3631.8,219.9 3632,213.8 3632.3,212.4 3632.5,211.4 3632.7,215.4 3632.9,212.4 3633.1,219 3633.3,215.1 3633.5,217.8 3633.8,215.1 3634,213.4 3634.2,212.5 3634.4,219 3634.6,212 3634.8,217.3 3635,219.2 3635.3,216.4 3635.5,220.9 3635.7,215.9 3635.9,215 3636.1,216.6 3636.3,214.3 3636.6,217 3636.8,216 3637,221 3637.2,215.9 3637.4,218.9 3637.6,217.6 3637.8,216.5 3638.1,215.6 3638.3,221.9 3638.5,221.6 3638.7,217.2 3638.9,214.8 3639.1,215.2 3639.3,213.6 3639.6,212.5 3639.8,214.9 3640,216.5 3640.2,219.9 3640.4,219.6 3640.6,218 3640.8,215.7 3641.1,215.8 3641.3,216.5 3641.5,217.1 3641.7,214.7 3641.9,216 3642.1,215.7 3642.4,215.7 3642.6,218.5 3642.8,220.1 3643,215.2 3643.2,215.5 3643.4,217.5 3643.6,218.1 3643.9,210.4 3644.1,219.3 3644.3,217.6 3644.5,216.1 3644.7,220.8 3644.9,216.6 3645.1,211.8 3645.4,214.2 3645.6,215.1 3645.8,215.2 3646,216.7 3646.2,214.2 3646.4,217.6 3646.7,218.5 3646.9,216.8 3647.1,214.4 3647.3,216.2 3647.5,215.1 3647.7,224.3 3647.9,213.7 3648.2,210.6 3648.4,213.3 3648.6,218.3 3648.8,220.1 3649,216.5 3649.2,220.6 3649.4,215.2 3649.7,219.1 3649.9,214.5 3650.1,213.4 3650.3,224.6 3650.5,216.6 3650.7,219.8 3651,222.3 3651.2,219.5 3651.4,218.2 3651.6,214.5 3651.8,222.8 3652,214.4 3652.2,211.8 3652.5,215.8 3652.7,216 3652.9,217.7 3653.1,221.6 3653.3,216 3653.5,216.5 3653.7,215.5 3654,210.5 3654.2,215.5 3654.4,216.4 3654.6,213.2 3654.8,222.3 3655,221.6 3655.3,219 3655.5,220 3655.7,215.7 3655.9,218.9 3656.1,212.8 3656.3,213.4 3656.5,215.5 3656.8,219.1 3657,216 3657.2,215.4 3657.4,221.4 3657.6,216.8 3657.8,215.8 3658,217.2 3658.3,213.3 3658.5,214.3 3658.7,220.6 3658.9,217.5 3659.1,220.7 3659.3,216.1 3659.6,220.8 3659.8,215.1 3660,216.7 3660.2,215 3660.4,218.3 3660.6,222.8 3660.8,212.7 3661.1,218.4 3661.3,213.8 3661.5,216.5 3661.7,215.7 3661.9,212.5 3662.1,216.7 3662.3,213.6 3662.6,222.8 3662.8,215 3663,218.4 3663.2,218 3663.4,217.5 3663.6,216.4 3663.9,212.6 3664.1,223.9 3664.3,217.2 3664.5,219.6 3664.7,213.8 3664.9,218.5 3665.1,215.7 3665.4,218.3 3665.6,214.9 3665.8,213.8 3666,218 3666.2,216.5 3666.4,221.3 3666.6,215.4 3666.9,213.7 3667.1,217.9 3667.3,212.6 3667.5,223.1 3667.7,222 3667.9,220.1 3668.2,216.8 3668.4,214.9 3668.6,215 3668.8,214.7 3669,212 3669.2,215.5 3669.4,217.9 3669.7,217.5 3669.9,207 3670.1,221.2 3670.3,212.9 3670.5,207.7 3670.7,210.2 3670.9,214 3671.2,210.9 3671.4,208 3671.6,206.6 3671.8,212.9 3672,207.3 3672.2,208.6 3672.5,205.9 3672.7,204.9 3672.9,210 3673.1,213.8 3673.3,207.6 3673.5,203.8 3673.7,207 3674,208.5 3674.2,202.7 3674.4,213.2 3674.6,207.4 3674.8,212.3 3675,210.7 3675.2,211 3675.5,207.2 3675.7,215.2 3675.9,214.2 3676.1,218.4 3676.3,211.8 3676.5,215.2 3676.8,212.8 3677,218 3677.2,216 3677.4,212 3677.6,216 3677.8,213.9 3678,214.4 3678.3,217.5 3678.5,221.9 3678.7,213.9 3678.9,216.5 3679.1,214.3 3679.3,224.6 3679.5,223.4 3679.8,225.5 3680,221 3680.2,215.1 3680.4,216.7 3680.6,218.7 3680.8,218.3 3681.1,216.5 3681.3,219.9 3681.5,217.9 3681.7,218.8 3681.9,227.1 3682.1,220.7 3682.3,215.5 3682.6,220.9 3682.8,220.2 3683,221.8 3683.2,221.5 3683.4,216.7 3683.6,221 3683.8,223.6 3684.1,232 3684.3,222.2 3684.5,227.3 3684.7,226.8 3684.9,218.1 3685.1,218.5 3685.4,227.4 3685.6,218.2 3685.8,219.4 3686,223.4 3686.2,218.7 3686.4,226.6 3686.6,225.1 3686.9,226 3687.1,224.9 3687.3,218.5 3687.5,225.8 3687.7,225.2 3687.9,224.5 3688.1,220.8 3688.4,222.5 3688.6,218.9 3688.8,223.9 3689,225.9 3689.2,223.2 3689.4,221.6 3689.6,224.8 3689.9,220.9 3690.1,216.5 3690.3,223.7 3690.5,221.8 3690.7,217.9 3690.9,224.1 3691.2,224.8 3691.4,225.7 3691.6,220.9 3691.8,220.6 3692,222.6 3692.2,222.1 3692.4,218.5 3692.7,219.7 3692.9,227.1 3693.1,222.4 3693.3,222.1 3693.5,220.3 3693.7,223.2 3693.9,224.6 3694.2,224 3694.4,228.8 3694.6,222.7 3694.8,224.6 3695,221.3 3695.2,226.1 3695.5,224.2 3695.7,226.1 3695.9,226.4 3696.1,220.7 3696.3,224.4 3696.5,221.6 3696.7,226.7 3697,222.7 3697.2,228.9 3697.4,224.6 3697.6,224.7 3697.8,221.3 3698,222.6 3698.2,223.8 3698.5,220.7 3698.7,222.7 3698.9,221.6 3699.1,221 3699.3,223.6 3699.5,224.3 3699.8,222.4 3700,224.8 3700.2,222.3 3700.4,220.2 3700.6,220.9 3700.8,224.8 3701,227.9 3701.3,223.8 3701.5,224 3701.7,220.4 3701.9,224.9 3702.1,224.4 3702.3,221.5 3702.5,225.3 3702.8,224.3 3703,218.8 3703.2,219.5 3703.4,222 3703.6,223.1 3703.8,227.2 3704.1,222.3 3704.3,223.8 3704.5,223.3 3704.7,225.7 3704.9,224.1 3705.1,224.7 3705.3,223.2 3705.6,220 3705.8,223.1 3706,229.9 3706.2,227.5 3706.4,229.7 3706.6,226.9 3706.8,222.6 3707.1,223.1 3707.3,226.3 3707.5,223.6 3707.7,226.9 3707.9,229.3 3708.1,229.3 3708.4,227.3 3708.6,220.3 3708.8,229.1 3709,220.9 3709.2,220.7 3709.4,225.2 3709.6,224.8 3709.9,226.7 3710.1,224.8 3710.3,222.7 3710.5,224.7 3710.7,221.8 3710.9,221.3 3711.1,223.8 3711.4,223.9 3711.6,225.1 3711.8,223.9 3712,228.7 3712.2,223.7 3712.4,224.4 3712.7,227.9 3712.9,218.9 3713.1,228.3 3713.3,228 3713.5,224.3 3713.7,232 3713.9,227.8 3714.2,230.4 3714.4,228.5 3714.6,225.7 3714.8,224.3 3715,222 3715.2,222.9 3715.4,221.8 3715.7,223.6 3715.9,226.9 3716.1,222.1 3716.3,227.1 3716.5,227.5 3716.7,221 3717,223.2 3717.2,224.9 3717.4,223.3 3717.6,223 3717.8,230.3 3718,226 3718.2,229.7 3718.5,225.3 3718.7,228 3718.9,221.8 3719.1,224.2 3719.3,228.5 3719.5,225.9 3719.7,230 3720,225.8 3720.2,224.3 3720.4,225.1 3720.6,232.8 3720.8,227.1 3721,224.5 3721.3,225.1 3721.5,222.6 3721.7,230.5 3721.9,224.5 3722.1,228.3 3722.3,225.6 3722.5,225 3722.8,224.1 3723,228.1 3723.2,225.7 3723.4,230.2 3723.6,231.2 3723.8,224.7 3724,226.6 3724.3,232 3724.5,229.3 3724.7,226.4 3724.9,221.9 3725.1,223.4 3725.3,224.1 3725.6,232.8 3725.8,226.9 3726,225.1 3726.2,225.4 3726.4,225.4 3726.6,227.4 3726.8,221.6 3727.1,222.4 3727.3,227.1 3727.5,230.1 3727.7,220.9 3727.9,228.6 3728.1,223.3 3728.3,221.4 3728.6,230.1 3728.8,226 3729,228.1 3729.2,225.4 3729.4,226 3729.6,221.4 3729.9,225.2 3730.1,227.1 3730.3,223.7 3730.5,228 3730.7,228.3 3730.9,220.8 3731.1,229.9 3731.4,228.8 3731.6,227.1 3731.8,230.8 3732,234.8 3732.2,224.2 3732.4,229.9 3732.6,229.1 3732.9,228.6 3733.1,230.7 3733.3,231.1 3733.5,227 3733.7,220.7 3733.9,225.3 3734.2,225.3 3734.4,232.7 3734.6,227.7 3734.8,231.6 3735,225.3 3735.2,228.4 3735.4,227.6 3735.7,228 3735.9,229.7 3736.1,233 3736.3,226 3736.5,232.5 3736.7,231.8 3736.9,228.8 3737.2,230.2 3737.4,227.1 3737.6,224.9 3737.8,227.2 3738,227.4 3738.2,227.9 3738.5,225.4 3738.7,234.5 3738.9,227 3739.1,231.2 3739.3,232.3 3739.5,228.1 3739.7,229.4 3740,226.4 3740.2,224.9 3740.4,236.7 3740.6,228.5 3740.8,222.6 3741,225.7 3741.2,224.1 3741.5,228.1 3741.7,233.3 3741.9,232.2 3742.1,226.3 3742.3,225.6 3742.5,230.9 3742.7,229.4 3743,227.7 3743.2,234.7 3743.4,229.7 3743.6,223.9 3743.8,222.4 3744,229 3744.3,223.4 3744.5,230.4 3744.7,231.4 3744.9,236.8 3745.1,225.9 3745.3,230 3745.5,222.2 3745.8,227.8 3746,228.3 3746.2,235.2 3746.4,224.5 3746.6,230.1 3746.8,229.5 3747,236.9 3747.3,226.2 3747.5,226.1 3747.7,231.1 3747.9,228.8 3748.1,227.9 3748.3,226.2 3748.6,228.8 3748.8,224.2 3749,230 3749.2,231.2 3749.4,230.8 3749.6,238.6 3749.8,232 3750.1,226.3 3750.3,228.5 3750.5,232.1 3750.7,228.3 3750.9,236.6 3751.1,230.4 3751.3,227.9 3751.6,227.4 3751.8,232.1 3752,226.8 3752.2,224.2 3752.4,231 3752.6,227.4 3752.9,235 3753.1,236.6 3753.3,227.8 3753.5,229.6 3753.7,229.1 3753.9,231.7 3754.1,230.7 3754.4,227.3 3754.6,224.8 3754.8,230.6 3755,235.6 3755.2,226.1 3755.4,228.1 3755.6,227.9 3755.9,229.4 3756.1,223.4 3756.3,229.8 3756.5,228.5 3756.7,236.6 3756.9,232 3757.2,232.4 3757.4,230.2 3757.6,229.1 3757.8,232.7 3758,225.2 3758.2,233.8 3758.4,231.7 3758.7,229.5 3758.9,234.5 3759.1,228.6 3759.3,228.4 3759.5,231.3 3759.7,224.9 3759.9,230.2 3760.2,229.6 3760.4,233.7 3760.6,236.3 3760.8,232.6 3761,231.6 3761.2,232.1 3761.5,228.3 3761.7,239.3 3761.9,234.5 3762.1,237.1 3762.3,226.7 3762.5,232.6 3762.7,232.4 3763,234.5 3763.2,228.1 3763.4,232.1 3763.6,230.1 3763.8,238.1 3764,227.4 3764.2,229.7 3764.5,229.2 3764.7,227.3 3764.9,231.6 3765.1,231.5 3765.3,228.8 3765.5,229.7 3765.8,231.9 3766,231 3766.2,232.8 3766.4,229 3766.6,228.3 3766.8,231.2 3767,225.8 3767.3,236.5 3767.5,232 3767.7,226.3 3767.9,232.7 3768.1,236.9 3768.3,227.2 3768.5,229.7 3768.8,235.4 3769,229.1 3769.2,234.9 3769.4,236 3769.6,232 3769.8,233.1 3770.1,235.2 3770.3,232.7 3770.5,234.9 3770.7,231.4 3770.9,231.7 3771.1,229.4 3771.3,233.2 3771.6,236.2 3771.8,236.2 3772,232.5 3772.2,227.2 3772.4,229.2 3772.6,233.9 3772.8,229 3773.1,235.8 3773.3,228.8 3773.5,233.2 3773.7,229.6 3773.9,230 3774.1,232.9 3774.4,231 3774.6,235.6 3774.8,232.3 3775,228.8 3775.2,221.2 3775.4,230 3775.6,231.9 3775.9,235.6 3776.1,229 3776.3,238 3776.5,234.9 3776.7,231.1 3776.9,236.4 3777.1,227.8 3777.4,229 3777.6,234.2 3777.8,234.2 3778,236.9 3778.2,237.2 3778.4,231.1 3778.7,230.5 3778.9,231.4 3779.1,231.7 3779.3,234.4 3779.5,231.4 3779.7,237.6 3779.9,232.6 3780.2,228.3 3780.4,228.7 3780.6,234.2 3780.8,233.8 3781,228.6 3781.2,227.5 3781.4,237.9 3781.7,234.2 3781.9,232.1 3782.1,229.2 3782.3,235.6 3782.5,230.9 3782.7,233.9 3783,226.1 3783.2,231.6 3783.4,233.4 3783.6,234.1 3783.8,229.8 3784,230.9 3784.2,236.7 3784.5,232.4 3784.7,237.6 3784.9,235.6 3785.1,237.5 3785.3,237.7 3785.5,235.4 3785.7,236.5 3786,231.6 3786.2,230.8 3786.4,234 3786.6,237 3786.8,230.8 3787,240.5 3787.3,240.2 3787.5,231.1 3787.7,231.4 3787.9,230.4 3788.1,234.1 3788.3,237.7 3788.5,235.1 3788.8,231.7 3789,236 3789.2,235.8 3789.4,238.3 3789.6,237.5 3789.8,231 3790,232.2 3790.3,237.5 3790.5,237.3 3790.7,235.5 3790.9,232 3791.1,237.6 3791.3,234.2 3791.5,241.4 3791.8,238 3792,232.4 3792.2,231 3792.4,237.7 3792.6,236.4 3792.8,231.4 3793.1,235.1 3793.3,235.6 3793.5,232.3 3793.7,233.3 3793.9,230.5 3794.1,231.5 3794.3,235.8 3794.6,234.3 3794.8,234.1 3795,238.6 3795.2,237.2 3795.4,231 3795.6,239.5 3795.8,231 3796.1,233.1 3796.3,234.5 3796.5,232.4 3796.7,232.6 3796.9,230.4 3797.1,235.4 3797.4,234.8 3797.6,234.9 3797.8,228.6 3798,231.2 3798.2,237.2 3798.4,235.2 3798.6,236.4 3798.9,234.1 3799.1,233.4 3799.3,227.6 3799.5,240.5 3799.7,231 3799.9,232.7 3800.1,236.4 3800.4,234.6 3800.6,235.7 3800.8,233.9 3801,231 3801.2,239.3 3801.4,230.1 3801.7,235.2 3801.9,229.5 3802.1,232.7 3802.3,230.2 3802.5,232.1 3802.7,230.6 3802.9,233.6 3803.2,236.5 3803.4,231.7 3803.6,231.5 3803.8,227.6 3804,240.7 3804.2,234.1 3804.4,230.2 3804.7,237.6 3804.9,234 3805.1,227.1 3805.3,228.9 3805.5,235.9 3805.7,228.6 3806,229.2 3806.2,230.2 3806.4,231.2 3806.6,231.5 3806.8,235 3807,233.5 3807.2,229.4 3807.5,230.9 3807.7,225.7 3807.9,231.9 3808.1,239.2 3808.3,231.2 3808.5,228.9 3808.7,228.1 3809,228.6 3809.2,231.1 3809.4,223.4 3809.6,229.4 3809.8,224.4 3810,226.8 3810.3,229.2 3810.5,220.3 3810.7,232.9 3810.9,225.9 3811.1,221.1 3811.3,222.9 3811.5,219 3811.8,221.2 3812,222.1 3812.2,214.4 3812.4,221.3 3812.6,221.4 3812.8,224.9 3813,224.3 3813.3,220.4 3813.5,221.4 3813.7,223.9 3813.9,226.9 3814.1,223.3 3814.3,232.1 3814.6,228 3814.8,228.4 3815,231 3815.2,228.4 3815.4,231.6 3815.6,232.6 3815.8,225.2 3816.1,228.7 3816.3,227.7 3816.5,231.5 3816.7,229.2 3816.9,230 3817.1,229.1 3817.3,226.3 3817.6,234 3817.8,232.7 3818,233.9 3818.2,247.6 3818.4,238.8 3818.6,234.2 3818.9,232.5 3819.1,236.5 3819.3,231.4 3819.5,231.1 3819.7,236.3 3819.9,230.9 3820.1,230.2 3820.4,233.9 3820.6,238.7 3820.8,231.3 3821,236.2 3821.2,237 3821.4,235.5 3821.6,237.7 3821.9,232.8 3822.1,233.7 3822.3,232.5 3822.5,234.5 3822.7,238.9 3822.9,236.9 3823.2,233.8 3823.4,237.8 3823.6,228.5 3823.8,237.4 3824,238.6 3824.2,233.3 3824.4,234.5 3824.7,236.9 3824.9,237.6 3825.1,235.6 3825.3,226.9 3825.5,227.7 3825.7,241.7 3825.9,231.5 3826.2,227 3826.4,227.9 3826.6,360.4 3826.8,253.4 3827,250.8 3827.2,240.8 3827.5,235 3827.7,226.5 3827.9,229.8 3828.1,239.4 3828.3,237.2 3828.5,219.2 3828.7,247.8 3829,233.6 3829.2,220.9 3829.4,233.2 3829.6,317.1 3829.8,232.9 3830,243.9 3830.2,239.5 3830.5,225.7 3830.7,231.9 3830.9,242 3831.1,227.4 3831.3,232.4 3831.5,236.6 3831.8,234.1 3832,234.7 3832.2,243.4 3832.4,245.5 3832.6,237.9 3832.8,255.9 3833,264.6 3833.3,223.8 3833.5,241.9 3833.7,238.7 3833.9,240.4 3834.1,238.1 3834.3,238.2 3834.5,237.6 3834.8,252.7 3835,227.5 3835.2,250.3 3835.4,226.6 3835.6,301.3 3835.8,259.1 3836.1,227.1 3836.3,240.9 3836.5,250.1 3836.7,233.9 3836.9,258.8 3837.1,237.8 3837.3,362 3837.6,246.1 3837.8,249.8 3838,232.1 3838.2,228.5 3838.4,254.3 3838.6,221.9 3838.8,248.8 3839.1,320.7 3839.3,362.3 3839.5,222.6 3839.7,240.4 3839.9,250 3840.1,252.1 3840.4,260.5 3840.6,224.3 3840.8,240.5 3841,220.7 3841.2,242.3 3841.4,362.6 3841.6,229.3 3841.9,245.1 3842.1,243 3842.3,222.7 3842.5,243.5 3842.7,226.3 3842.9,239.6 3843.1,252.6 3843.4,233.1 3843.6,249.6 3843.8,225.8 3844,228.4 3844.2,238.8 3844.4,232.1 3844.6,232.6 3844.9,244 3845.1,229.2 3845.3,243.3 3845.5,232.2 3845.7,257.5 3845.9,238.5 3846.2,234.6 3846.4,253.8 3846.6,246.5 3846.8,248.6 3847,231.1 3847.2,252.3 3847.4,234.4 3847.7,223.7 3847.9,235.4 3848.1,280.6 3848.3,238.4 3848.5,228.1 3848.7,244.5 3848.9,227.5 3849.2,232.5 3849.4,234.8 3849.6,244.2 3849.8,248.5 3850,244.1 3850.2,239.4 3850.5,233.7 3850.7,234.9 3850.9,244.9 3851.1,239.5 3851.3,235.4 3851.5,281.4 3851.7,253.7 3852,254.4 3852.2,243.5 3852.4,244.7 3852.6,244.4 3852.8,256.1 3853,232.3 3853.2,236.9 3853.5,282.4 3853.7,240.5 3853.9,262.7 3854.1,222.9 3854.3,247.9 3854.5,246.8 3854.8,239.6 3855,243.7 3855.2,241.6 3855.4,224.3 3855.6,237.8 3855.8,230.9 3856,228 3856.3,258.9 3856.5,223.2 3856.7,232.5 3856.9,229.8 3857.1,256.3 3857.3,231.2 3857.5,235.7 3857.8,249.7 3858,219 3858.2,234 3858.4,244.7 3858.6,238.5 3858.8,230.4 3859.1,228.3 3859.3,234 3859.5,227.6 3859.7,225.4 3859.9,266.5 3860.1,249 3860.3,258.4 3860.6,240 3860.8,225.7 3861,233.4 3861.2,261.2 3861.4,245.9 3861.6,229.6 3861.8,250 3862.1,242.9 3862.3,237.5 3862.5,294.3 3862.7,232.2 3862.9,237.2 3863.1,234.5 3863.4,259.7 3863.6,254.9 3863.8,251.5 3864,238.4 3864.2,240.8 3864.4,240.1 3864.6,223.3 3864.9,227.4 3865.1,254 3865.3,252.7 3865.5,224 3865.7,246.7 3865.9,226.9 3866.1,225 3866.4,250.7 3866.6,246.1 3866.8,240.9 3867,257.4 3867.2,260.2 3867.4,248.4 3867.7,232 3867.9,249.2 3868.1,245.3 3868.3,249.6 3868.5,271.8 3868.7,226.3 3868.9,365.8 3869.2,253.2 3869.4,235.4 3869.6,273.1 3869.8,234.9 3870,228.5 3870.2,257.7 3870.4,239.7 3870.7,264 3870.9,236.1 3871.1,241.3 3871.3,239.7 3871.5,227.6 3871.7,236.6 3872,227.9 3872.2,234.8 3872.4,266.8 3872.6,239.3 3872.8,236.5 3873,275.4 3873.2,228.1 3873.5,241.9 3873.7,238.1 3873.9,259 3874.1,241.9 3874.3,239 3874.5,247.9 3874.7,241.9 3875,334.7 3875.2,228.1 3875.4,264.7 3875.6,357.6 3875.8,260.7 3876,257.8 3876.3,236.3 3876.5,259.7 3876.7,239.5 3876.9,260.8 3877.1,221.7 3877.3,236.4 3877.5,223.6 3877.8,262.3 3878,235.2 3878.2,260.9 3878.4,236.2 3878.6,235.1 3878.8,282.7 3879,265.8 3879.3,266.7 3879.5,278.6 3879.7,256 3879.9,261.3 3880.1,276.3 3880.3,242.3 3880.6,236.8 3880.8,271.6 3881,252.8 3881.2,243.7 3881.4,247.3 3881.6,255.7 3881.8,234.1 3882.1,233.8 3882.3,235.6 3882.5,247 3882.7,224 3882.9,225.9 3883.1,250.3 3883.3,245.8 3883.6,230.7 3883.8,258.1 3884,239 3884.2,243.5 3884.4,256.1 3884.6,247.7 3884.9,282.6 3885.1,253.1 3885.3,314.9 3885.5,222.2 3885.7,228.1 3885.9,230.6 3886.1,240.4 3886.4,232.8 3886.6,230.3 3886.8,232.7 3887,233.7 3887.2,261.1 3887.4,239.1 3887.6,253.3 3887.9,268.4 3888.1,267.3 3888.3,239.2 3888.5,232.6 3888.7,274.7 3888.9,226.6 3889.2,228.9 3889.4,250.8 3889.6,252.2 3889.8,246 3890,233.4 3890.2,250.9 3890.4,266.6 3890.7,240.5 3890.9,328 3891.1,243.1 3891.3,231.9 3891.5,241.1 3891.7,235.7 3891.9,238.9 3892.2,236.3 3892.4,243.3 3892.6,260 3892.8,248.7 3893,246.4 3893.2,231.2 3893.4,228.1 3893.7,239.9 3893.9,258.5 3894.1,258 3894.3,248.3 3894.5,230.2 3894.7,241.1 3895,246.3 3895.2,258.9 3895.4,235.1 3895.6,241.8 3895.8,246.4 3896,244.2 3896.2,227.9 3896.5,248.1 3896.7,227.9 3896.9,231.8 3897.1,245.1 3897.3,235.3 3897.5,247.6 3897.7,260.6 3898,249.9 3898.2,262.4 3898.4,239.4 3898.6,245.8 3898.8,238.8 3899,236.1 3899.3,369.2 3899.5,241.9 3899.7,298.5 3899.9,243.8 3900.1,261.9 3900.3,244.7 3900.5,231.1 3900.8,292.3 3901,243.6 3901.2,247.4 3901.4,306.3 3901.6,238.2 3901.8,245.8 3902,254.5 3902.3,258.7 3902.5,218.2 3902.7,252.6 3902.9,298.8 3903.1,263.6 3903.3,252.2 3903.6,252.5 3903.8,247.7 3904,266.6 3904.2,239.7 3904.4,254.3 3904.6,276.5 3904.8,261.1 3905.1,252.7 3905.3,236.5 3905.5,240.5 3905.7,252 3905.9,246.5 3906.1,243.9 3906.3,226.3 3906.6,257.1 3906.8,240.9 3907,238 3907.2,264.6 3907.4,244.4 3907.6,244.7 3907.9,254.5" stroke="#20e6ee" stroke-width="0.7"/>
<polyline points="3507.5,64.2 3508.2,53.3 3508.9,45.1 3509.5,43.9 3510.2,50.5 3510.9,61.2 3511.6,72.5 3512.2,82.9 3512.9,92 3513.6,99.9 3514.3,106.7 3515,112.6 3515.6,117.6 3516.3,122.1 3517,125.9 3517.7,129.3 3518.3,132.2 3519,134.8 3519.7,137.1 3520.4,139.2 3521.1,141 3521.7,142.6 3522.4,144.1 3523.1,145.4 3523.8,146.6 3524.4,147.7 3525.1,148.7 3525.8,149.6 3526.5,150.4 3527.1,151.2 3527.8,151.8 3528.5,152.5 3529.2,153.1 3529.9,153.6 3530.5,154.1 3531.2,154.6 3531.9,155 3532.6,155.4 3533.2,155.8 3533.9,156.2 3534.6,156.5 3535.3,156.8 3536,157.1 3536.6,157.4 3537.3,157.6 3538,157.9 3538.7,158.1 3539.3,158.4 3540,158.6 3540.7,158.8 3541.4,159 3542.1,159.1 3542.7,159.3 3543.4,159.5 3544.1,159.6 3544.8,159.7 3545.4,159.8 3546.1,160 3546.8,160.1 3547.5,160.1 3548.1,160.2 3548.8,160.3 3549.5,160.3 3550.2,160.3 3550.9,160.3 3551.5,160.3 3552.2,160.2 3552.9,160.1 3553.6,159.9 3554.2,159.7 3554.9,159.3 3555.6,159 3556.3,158.5 3557,157.9 3557.6,157.3 3558.3,156.6 3559,155.9 3559.7,155.4 3560.3,155.3 3561,155.4 3561.7,156 3562.4,156.8 3563.1,157.7 3563.7,158.5 3564.4,159.4 3565.1,160.1 3565.8,160.8 3566.4,161.3 3567.1,161.8 3567.8,162.2 3568.5,162.6 3569.1,162.9 3569.8,163.2 3570.5,163.4 3571.2,163.6 3571.9,163.8 3572.5,164 3573.2,164.2 3573.9,164.3 3574.6,164.4 3575.2,164.5 3575.9,164.6 3576.6,164.7 3577.3,164.8 3578,164.9 3578.6,164.9 3579.3,165 3580,165 3580.7,165 3581.3,165 3582,165 3582.7,165 3583.4,164.9 3584.1,164.9 3584.7,164.8 3585.4,164.6 3586.1,164.5 3586.8,164.2 3587.4,164 3588.1,163.6 3588.8,163.2 3589.5,162.7 3590.1,162 3590.8,161.2 3591.5,160.2 3592.2,158.9 3592.9,157.4 3593.5,155.5 3594.2,153.3 3594.9,150.9 3595.6,148.4 3596.2,146.2 3596.9,144.9 3597.6,144.9 3598.3,146.3 3599,148.6 3599.6,151.2 3600.3,153.8 3601,156.2 3601.7,158.2 3602.3,159.9 3603,161.3 3603.7,162.5 3604.4,163.4 3605.1,164.2 3605.7,164.9 3606.4,165.4 3607.1,165.9 3607.8,166.3 3608.4,166.7 3609.1,167 3609.8,167.2 3610.5,167.5 3611.1,167.7 3611.8,167.8 3612.5,167.9 3613.2,168 3613.9,168.1 3614.5,168.1 3615.2,168.1 3615.9,168.1 3616.6,168.1 3617.2,168.1 3617.9,168.2 3618.6,168.4 3619.3,168.7 3620,169 3620.6,169.4 3621.3,169.7 3622,170.1 3622.7,170.4 3623.3,170.7 3624,170.9 3624.7,171.1 3625.4,171.3 3626.1,171.5 3626.7,171.7 3627.4,171.8 3628.1,171.9 3628.8,172.1 3629.4,172.2 3630.1,172.3 3630.8,172.4 3631.5,172.5 3632.1,172.5 3632.8,172.6 3633.5,172.7 3634.2,172.8 3634.9,172.9 3635.5,172.9 3636.2,173 3636.9,173.1 3637.6,173.2 3638.2,173.2 3638.9,173.3 3639.6,173.4 3640.3,173.5 3641,173.6 3641.6,173.7 3642.3,173.8 3643,173.9 3643.7,174 3644.3,174.1 3645,174.2 3645.7,174.4 3646.4,174.5 3647.1,174.6 3647.7,174.7 3648.4,174.9 3649.1,175 3649.8,175.1 3650.4,175.2 3651.1,175.4 3651.8,175.5 3652.5,175.6 3653.1,175.7 3653.8,175.9 3654.5,176 3655.2,176.1 3655.9,176.2 3656.5,176.3 3657.2,176.4 3657.9,176.5 3658.6,176.5 3659.2,176.6 3659.9,176.6 3660.6,176.6 3661.3,176.7 3662,176.6 3662.6,176.6 3663.3,176.5 3664,176.5 3664.7,176.3 3665.3,176.1 3666,175.9 3666.7,175.5 3667.4,175.1 3668.1,174.5 3668.7,173.8 3669.4,172.9 3670.1,171.8 3670.8,170.5 3671.4,169.2 3672.1,168 3672.8,167.3 3673.5,167.2 3674.1,167.9 3674.8,169.1 3675.5,170.6 3676.2,172 3676.9,173.3 3677.5,174.4 3678.2,175.3 3678.9,176.1 3679.6,176.7 3680.2,177.2 3680.9,177.6 3681.6,178 3682.3,178.3 3683,178.5 3683.6,178.8 3684.3,179 3685,179.1 3685.7,179.3 3686.3,179.5 3687,179.6 3687.7,179.7 3688.4,179.9 3689.1,180 3689.7,180.1 3690.4,180.2 3691.1,180.4 3691.8,180.5 3692.4,180.6 3693.1,180.7 3693.8,180.9 3694.5,181 3695.1,181.1 3695.8,181.2 3696.5,181.3 3697.2,181.5 3697.9,181.6 3698.5,181.7 3699.2,181.8 3699.9,181.9 3700.6,182 3701.2,182.1 3701.9,182.2 3702.6,182.3 3703.3,182.4 3704,182.5 3704.6,182.6 3705.3,182.7 3706,182.8 3706.7,182.9 3707.3,183 3708,183.1 3708.7,183.2 3709.4,183.3 3710.1,183.4 3710.7,183.4 3711.4,183.5 3712.1,183.6 3712.8,183.7 3713.4,183.8 3714.1,183.9 3714.8,184 3715.5,184.1 3716.1,184.3 3716.8,184.4 3717.5,184.5 3718.2,184.6 3718.9,184.7 3719.5,184.8 3720.2,185 3720.9,185.1 3721.6,185.2 3722.2,185.3 3722.9,185.4 3723.6,185.5 3724.3,185.6 3725,185.8 3725.6,185.9 3726.3,185.9 3727,186 3727.7,186.1 3728.3,186.2 3729,186.3 3729.7,186.3 3730.4,186.4 3731.1,186.4 3731.7,186.4 3732.4,186.4 3733.1,186.4 3733.8,186.4 3734.4,186.4 3735.1,186.3 3735.8,186.3 3736.5,186.2 3737.1,186.2 3737.8,186.1 3738.5,186 3739.2,185.9 3739.9,185.8 3740.5,185.8 3741.2,185.7 3741.9,185.6 3742.6,185.5 3743.2,185.4 3743.9,185.3 3744.6,185.2 3745.3,185.2 3746,185.1 3746.6,185.1 3747.3,185 3748,185 3748.7,185 3749.3,184.9 3750,184.9 3750.7,184.9 3751.4,184.9 3752.1,185 3752.7,185 3753.4,185 3754.1,185 3754.8,185.1 3755.4,185.1 3756.1,185.2 3756.8,185.2 3757.5,185.3 3758.1,185.3 3758.8,185.4 3759.5,185.4 3760.2,185.5 3760.9,185.6 3761.5,185.7 3762.2,185.8 3762.9,185.9 3763.6,186 3764.2,186.2 3764.9,186.3 3765.6,186.5 3766.3,186.7 3767,186.8 3767.6,187 3768.3,187.2 3769,187.4 3769.7,187.5 3770.3,187.7 3771,187.9 3771.7,188 3772.4,188.1 3773.1,188.2 3773.7,188.3 3774.4,188.4 3775.1,188.5 3775.8,188.5 3776.4,188.5 3777.1,188.6 3777.8,188.6 3778.5,188.5 3779.1,188.5 3779.8,188.5 3780.5,188.5 3781.2,188.5 3781.9,188.5 3782.5,188.5 3783.2,188.5 3783.9,188.5 3784.6,188.5 3785.2,188.6 3785.9,188.6 3786.6,188.7 3787.3,188.8 3788,188.9 3788.6,189.1 3789.3,189.2 3790,189.4 3790.7,189.5 3791.3,189.7 3792,189.8 3792.7,190 3793.4,190.2 3794.1,190.3 3794.7,190.4 3795.4,190.6 3796.1,190.7 3796.8,190.8 3797.4,190.8 3798.1,190.9 3798.8,190.9 3799.5,190.9 3800.1,190.9 3800.8,190.9 3801.5,190.8 3802.2,190.7 3802.9,190.6 3803.5,190.5 3804.2,190.4 3804.9,190.2 3805.6,189.9 3806.2,189.5 3806.9,189 3807.6,188.4 3808.3,187.4 3809,186.2 3809.6,184.4 3810.3,182.2 3811,179.6 3811.7,177.6 3812.3,177 3813,178.5 3813.7,181.2 3814.4,183.9 3815.1,186.3 3815.7,188.1 3816.4,189.5 3817.1,190.5 3817.8,191.3 3818.4,191.9 3819.1,192.3 3819.8,192.7 3820.5,192.9 3821.1,193.2 3821.8,193.3 3822.5,193.5 3823.2,193.6 3823.9,193.7 3824.5,193.8 3825.2,193.8 3825.9,193.9 3826.6,194 3827.2,194.1 3827.9,194.2 3828.6,194.2 3829.3,194.3 3830,194.4 3830.6,194.6 3831.3,194.7 3832,194.8 3832.7,195 3833.3,195.1 3834,195.3 3834.7,195.5 3835.4,195.7 3836.1,195.8 3836.7,196 3837.4,196.3 3838.1,196.5 3838.8,196.7 3839.4,196.9 3840.1,197.1 3840.8,197.3 3841.5,197.5 3842.1,197.7 3842.8,197.8 3843.5,198 3844.2,198.2 3844.9,198.3 3845.5,198.4 3846.2,198.6 3846.9,198.7 3847.6,198.8 3848.2,198.9 3848.9,199 3849.6,199 3850.3,199.1 3851,199.2 3851.6,199.3 3852.3,199.4 3853,199.5 3853.7,199.6 3854.3,199.7 3855,199.8 3855.7,199.9 3856.4,200 3857.1,200.2 3857.7,200.3 3858.4,200.5 3859.1,200.6 3859.8,200.8 3860.4,201 3861.1,201.1 3861.8,201.3 3862.5,201.5 3863.1,201.6 3863.8,201.8 3864.5,202 3865.2,202.1 3865.9,202.3 3866.5,202.4 3867.2,202.6 3867.9,202.7 3868.6,202.9 3869.2,203 3869.9,203.2 3870.6,203.3 3871.3,203.5 3872,203.6 3872.6,203.8 3873.3,204 3874,204.1 3874.7,204.3 3875.3,204.5 3876,204.7 3876.7,204.9 3877.4,205.1 3878.1,205.3 3878.7,205.5 3879.4,205.7 3880.1,205.9 3880.8,206.1 3881.4,206.2 3882.1,206.4 3882.8,206.6 3883.5,206.8 3884.1,206.9 3884.8,207.1 3885.5,207.2 3886.2,207.4 3886.9,207.5 3887.5,207.7 3888.2,207.8 3888.9,207.9 3889.6,208.1 3890.2,208.2 3890.9,208.4 3891.6,208.6 3892.3,208.7 3893,208.9 3893.6,209.1 3894.3,209.3 3895,209.5 3895.7,209.7 3896.3,209.9 3897,210.1 3897.7,210.3 3898.4,210.6 3899.1,210.8 3899.7,211 3900.4,211.3 3901.1,211.6 3901.8,211.8 3902.4,212.1 3903.1,212.4 3903.8,212.7 3904.5,213 3905.1,213.3 3905.8,213.6 3906.5,213.9 3907.2,214.2 3907.9,214.5 3908.5,214.8 3909.2,215.1 3909.9,215.3 3910.6,215.6 3911.2,215.9 3911.9,216.2 3912.6,216.5 3913.3,216.8 3914,217 3914.6,217.3 3915.3,217.6 3916,217.9 3916.7,218.1 3917.3,218.4 3918,218.7 3918.7,219 3919.4,219.3 3920.1,219.6 3920.7,219.9 3921.4,220.1 3922.1,220.4 3922.8,220.7 3923.4,221 3924.1,221.3 3924.8,221.6 3925.5,221.9 3926.1,222.2 3926.8,222.5 3927.5,222.7 3928.2,223 3928.9,223.3 3929.5,223.6 3930.2,223.9 3930.9,224.1 3931.6,224.4 3932.2,224.6 3932.9,224.9 3933.6,225.2 3934.3,225.4 3935,225.6 3935.6,225.9 3936.3,226.1 3937,226.3 3937.7,226.5 3938.3,226.7 3939,226.9 3939.7,227.1 3940.4,227.2 3941.1,227.4 3941.7,227.5 3942.4,227.7 3943.1,227.8 3943.8,227.9 3944.4,228 3945.1,228.2 3945.8,228.3 3946.5,228.4 3947.1,228.6 3947.8,228.7 3948.5,228.8 3949.2,229 3949.9,229.1 3950.5,229.2 3951.2,229.3 3951.9,229.5 3952.6,229.6 3953.2,229.7 3953.9,229.8 3954.6,230 3955.3,230.1 3956,230.2 3956.6,230.3 3957.3,230.5 3958,230.6 3958.7,230.7 3959.3,230.8 3960,230.9 3960.7,231 3961.4,231.1 3962.1,231.2 3962.7,231.3 3963.4,231.4 3964.1,231.5 3964.8,231.5 3965.4,231.6 3966.1,231.6 3966.8,231.5 3967.5,231.4 3968.1,231.1 3968.8,230.6 3969.5,229.8 3970.2,228.3 3970.9,226.1 3971.5,224.1 3972.2,224.6 3972.9,227.1 3973.6,229.3 3974.2,230.8 3974.9,231.8 3975.6,232.4 3976.3,232.8 3977,233 3977.6,233.2 3978.3,233.2 3979,233.3 3979.7,233.2 3980.3,233.1 3981,233 3981.7,232.8 3982.4,232.6 3983.1,232.3 3983.7,232.1 3984.4,231.8 3985.1,231.5 3985.8,231.2 3986.4,231 3987.1,230.8 3987.8,230.6 3988.5,230.5 3989.1,230.4 3989.8,230.4 3990.5,230.5 3991.2,230.7 3991.9,230.9 3992.5,231.2 3993.2,231.6 3993.9,232.1 3994.6,232.6 3995.2,233.1 3995.9,233.7 3996.6,234.3 3997.3,234.8 3998,235.4 3998.6,235.9 3999.3,236.3 4000,236.7 4000.7,237 4001.3,237.3 4002,237.5 4002.7,237.7 4003.4,237.7 4004.1,237.7 4004.7,237.7 4005.4,237.5 4006.1,237.2 4006.8,236.8 4007.4,236.2 4008.1,235.3 4008.8,234.1 4009.5,232.3 4010.1,229.8 4010.8,226.4 4011.5,222 4012.2,217.4 4012.9,214.8 4013.5,216 4014.2,220.3 4014.9,225.1 4015.6,229 4016.2,231.9 4016.9,234 4017.6,235.5 4018.3,236.6 4019,237.5 4019.6,238.2 4020.3,238.9 4021,239.5 4021.7,240 4022.3,240.3 4023,237.7 4023.7,232.7 4024.4,237.4 4025.1,241.9 4025.7,242.7 4026.4,242.9 4027.1,243.1 4027.8,243.3 4028.4,243.4 4029.1,243.4 4029.8,243.4 4030.5,243.4 4031.1,243.3 4031.8,243.2 4032.5,243 4033.2,242.9 4033.9,242.7 4034.5,242.5 4035.2,242.4 4035.9,242.3 4036.6,242.1 4037.2,242.1 4037.9,242 4038.6,241.9 4039.3,241.9 4040,241.9 4040.6,242 4041.3,242.1 4042,242.2 4042.7,242.4 4043.3,242.6 4044,242.9 4044.7,243.3 4045.4,243.7 4046.1,244.2 4082.3,252.4 4083,252.4 4083.7,252.4 4084.3,252.4 4085,252.4 4085.7,252.4 4086.4,252.4 4087,252.4 4087.7,252.5 4088.4,252.5 4089.1,252.5 4089.7,252.5 4090.4,252.5 4091.1,252.5 4091.8,252.6 4092.5,252.6 4093.1,252.6 4093.8,252.7 4094.5,252.7 4095.2,252.7 4095.8,252.8 4096.5,252.8 4097.2,252.9 4097.9,252.9 4098.6,252.9 4099.2,253 4099.9,253 4100.6,253.1 4101.3,253.1 4101.9,253.2 4102.6,253.2 4103.3,253.2 4104,253.2 4104.7,253.2 4105.3,253.2 4106,253.2 4106.7,253.1 4107.4,253 4108,252.9 4108.7,252.7 4109.4,252.5 4110.1,252.3 4110.7,252 4111.4,251.6 4112.1,251.1 4112.8,250.4 4113.5,249.7 4114.1,248.7 4114.8,247.5 4115.5,246 4116.2,244 4116.8,241.5 4117.5,238.3 4118.2,234 4118.9,228.4 4119.6,221.1 4120.2,211.9 4120.9,201 4121.6,191.3 4122.3,188.4 4122.9,195.1 4123.6,206.2 4124.3,216.9 4125,225.8 4125.7,232.6 4126.3,237.9 4127,242.1 4127.7,245.3 4128.4,247.8 4129,249.8 4129.7,251.5 4130.4,252.9 4131.1,254 4131.7,255 4132.4,255.8 4133.1,256.6 4133.8,257.2 4134.5,257.8 4135.1,258.3 4135.8,258.7 4136.5,259.1 4137.2,259.5 4137.8,259.9 4138.5,260.2 4139.2,260.5 4139.9,260.8 4140.6,261.1 4141.2,261.3 4141.9,261.6 4142.6,261.8 4143.3,262.1 4143.9,262.3 4144.6,262.5 4145.3,262.7 4146,262.9 4146.7,263.1 4147.3,263.3 4148,263.5 4148.7,263.7 4149.4,263.9 4150,264 4150.7,264.2 4150.7,264.2" stroke="#cc1a1a" stroke-width="1.0"/>
<polyline points="3507.5,159.2 3508.2,159.3 3508.9,159.4 3509.5,159.4 3510.2,159.5 3510.9,159.6 3511.6,159.6 3512.2,159.7 3512.9,159.8 3513.6,159.8 3514.3,159.9 3515,160 3515.6,160.1 3516.3,160.1 3517,160.2 3517.7,160.3 3518.3,160.3 3519,160.4 3519.7,160.5 3520.4,160.6 3521.1,160.6 3521.7,160.7 3522.4,160.8 3523.1,160.8 3523.8,160.9 3524.4,161 3525.1,161.1 3525.8,161.1 3526.5,161.2 3527.1,161.3 3527.8,161.3 3528.5,161.4 3529.2,161.5 3529.9,161.6 3530.5,161.6 3531.2,161.7 3531.9,161.8 3532.6,161.9 3533.2,161.9 3533.9,162 3534.6,162.1 3535.3,162.2 3536,162.2 3536.6,162.3 3537.3,162.4 3538,162.5 3538.7,162.5 3539.3,162.6 3540,162.7 3540.7,162.8 3541.4,162.8 3542.1,162.9 3542.7,163 3543.4,163.1 3544.1,163.1 3544.8,163.2 3545.4,163.3 3546.1,163.4 3546.8,163.5 3547.5,163.5 3548.1,163.6 3548.8,163.7 3549.5,163.8 3550.2,163.8 3550.9,163.9 3551.5,164 3552.2,164.1 3552.9,164.2 3553.6,164.2 3554.2,164.3 3554.9,164.4 3555.6,164.5 3556.3,164.5 3557,164.6 3557.6,164.7 3558.3,164.8 3559,164.9 3559.7,164.9 3560.3,165 3561,165.1 3561.7,165.2 3562.4,165.3 3563.1,165.3 3563.7,165.4 3564.4,165.5 3565.1,165.6 3565.8,165.7 3566.4,165.7 3567.1,165.8 3567.8,165.9 3568.5,166 3569.1,166.1 3569.8,166.2 3570.5,166.2 3571.2,166.3 3571.9,166.4 3572.5,166.5 3573.2,166.6 3573.9,166.6 3574.6,166.7 3575.2,166.8 3575.9,166.9 3576.6,167 3577.3,167.1 3578,167.1 3578.6,167.2 3579.3,167.3 3580,167.4 3580.7,167.5 3581.3,167.5 3582,167.6 3582.7,167.7 3583.4,167.8 3584.1,167.9 3584.7,167.9 3585.4,168 3586.1,168.1 3586.8,168.2 3587.4,168.3 3588.1,168.3 3588.8,168.4 3589.5,168.5 3590.1,168.5 3590.8,168.6 3591.5,168.7 3592.2,168.7 3592.9,168.8 3593.5,168.9 3594.2,168.9 3594.9,169 3595.6,169 3596.2,169.1 3596.9,169.1 3597.6,169.2 3598.3,169.2 3599,169.3 3599.6,169.3 3600.3,169.4 3601,169.4 3601.7,169.5 3602.3,169.5 3603,169.6 3603.7,169.6 3604.4,169.7 3605.1,169.7 3605.7,169.8 3606.4,169.9 3607.1,169.9 3607.8,170 3608.4,170.1 3609.1,170.2 3609.8,170.3 3610.5,170.4 3611.1,170.5 3611.8,170.6 3612.5,170.7 3613.2,170.8 3613.9,170.9 3614.5,171 3615.2,171.1 3615.9,171.3 3616.6,171.4 3617.2,171.5 3617.9,171.6 3618.6,171.7 3619.3,171.8 3620,172 3620.6,172.1 3621.3,172.2 3622,172.3 3622.7,172.4 3623.3,172.5 3624,172.6 3624.7,172.6 3625.4,172.7 3626.1,172.8 3626.7,172.9 3627.4,173 3628.1,173 3628.8,173.1 3629.4,173.1 3630.1,173.2 3630.8,173.3 3631.5,173.3 3632.1,173.4 3632.8,173.4 3633.5,173.5 3634.2,173.5 3634.9,173.6 3635.5,173.6 3636.2,173.7 3636.9,173.8 3637.6,173.8 3638.2,173.9 3638.9,174 3639.6,174 3640.3,174.1 3641,174.2 3641.6,174.3 3642.3,174.4 3643,174.5 3643.7,174.6 3644.3,174.7 3645,174.8 3645.7,175 3646.4,175.1 3647.1,175.2 3647.7,175.4 3648.4,175.5 3649.1,175.6 3649.8,175.8 3650.4,175.9 3651.1,176.1 3651.8,176.2 3652.5,176.3 3653.1,176.5 3653.8,176.6 3654.5,176.8 3655.2,176.9 3655.9,177.1 3656.5,177.2 3657.2,177.3 3657.9,177.5 3658.6,177.6 3659.2,177.7 3659.9,177.8 3660.6,177.9 3661.3,178.1 3662,178.2 3662.6,178.3 3663.3,178.4 3664,178.5 3664.7,178.6 3665.3,178.7 3666,178.8 3666.7,178.9 3667.4,178.9 3668.1,179 3668.7,179.1 3669.4,179.2 3670.1,179.3 3670.8,179.3 3671.4,179.4 3672.1,179.5 3672.8,179.5 3673.5,179.6 3674.1,179.6 3674.8,179.7 3675.5,179.7 3676.2,179.8 3676.9,179.8 3677.5,179.9 3678.2,179.9 3678.9,180 3679.6,180 3680.2,180.1 3680.9,180.1 3681.6,180.1 3682.3,180.2 3683,180.2 3683.6,180.3 3684.3,180.3 3685,180.4 3685.7,180.4 3686.3,180.5 3687,180.6 3687.7,180.6 3688.4,180.7 3689.1,180.8 3689.7,180.8 3690.4,180.9 3691.1,181 3691.8,181.1 3692.4,181.2 3693.1,181.3 3693.8,181.4 3694.5,181.5 3695.1,181.6 3695.8,181.7 3696.5,181.8 3697.2,181.9 3697.9,182 3698.5,182.1 3699.2,182.2 3699.9,182.3 3700.6,182.4 3701.2,182.5 3701.9,182.6 3702.6,182.6 3703.3,182.7 3704,182.8 3704.6,182.9 3705.3,183 3706,183.1 3706.7,183.2 3707.3,183.3 3708,183.3 3708.7,183.4 3709.4,183.5 3710.1,183.6 3710.7,183.7 3711.4,183.8 3712.1,183.8 3712.8,183.9 3713.4,184 3714.1,184.1 3714.8,184.2 3715.5,184.3 3716.1,184.4 3716.8,184.6 3717.5,184.7 3718.2,184.8 3718.9,184.9 3719.5,185 3720.2,185.1 3720.9,185.2 3721.6,185.4 3722.2,185.5 3722.9,185.6 3723.6,185.7 3724.3,185.8 3725,185.9 3725.6,186 3726.3,186.1 3727,186.2 3727.7,186.3 3728.3,186.3 3729,186.4 3729.7,186.5 3730.4,186.5 3731.1,186.5 3731.7,186.6 3732.4,186.6 3733.1,186.6 3733.8,186.5 3734.4,186.5 3735.1,186.5 3735.8,186.4 3736.5,186.4 3737.1,186.3 3737.8,186.2 3738.5,186.2 3739.2,186.1 3739.9,186 3740.5,185.9 3741.2,185.8 3741.9,185.7 3742.6,185.6 3743.2,185.5 3743.9,185.4 3744.6,185.4 3745.3,185.3 3746,185.2 3746.6,185.2 3747.3,185.1 3748,185.1 3748.7,185.1 3749.3,185.1 3750,185 3750.7,185.1 3751.4,185.1 3752.1,185.1 3752.7,185.1 3753.4,185.1 3754.1,185.1 3754.8,185.2 3755.4,185.2 3756.1,185.3 3756.8,185.3 3757.5,185.4 3758.1,185.4 3758.8,185.5 3759.5,185.6 3760.2,185.6 3760.9,185.7 3761.5,185.8 3762.2,185.9 3762.9,186 3763.6,186.2 3764.2,186.3 3764.9,186.5 3765.6,186.6 3766.3,186.8 3767,187 3767.6,187.1 3768.3,187.3 3769,187.5 3769.7,187.7 3770.3,187.8 3771,188 3771.7,188.1 3772.4,188.3 3773.1,188.4 3773.7,188.5 3774.4,188.6 3775.1,188.6 3775.8,188.7 3776.4,188.7 3777.1,188.7 3777.8,188.7 3778.5,188.7 3779.1,188.7 3779.8,188.7 3780.5,188.7 3781.2,188.7 3781.9,188.7 3782.5,188.7 3783.2,188.7 3783.9,188.7 3784.6,188.7 3785.2,188.8 3785.9,188.9 3786.6,189 3787.3,189.1 3788,189.2 3788.6,189.3 3789.3,189.5 3790,189.7 3790.7,189.8 3791.3,190 3792,190.2 3792.7,190.4 3793.4,190.6 3794.1,190.7 3794.7,190.9 3795.4,191 3796.1,191.2 3796.8,191.3 3797.4,191.4 3798.1,191.5 3798.8,191.6 3799.5,191.7 3800.1,191.8 3800.8,191.8 3801.5,191.9 3802.2,191.9 3802.9,192 3803.5,192 3804.2,192.1 3804.9,192.2 3805.6,192.2 3806.2,192.3 3806.9,192.4 3807.6,192.6 3808.3,192.7 3809,192.8 3809.6,193 3810.3,193.1 3811,193.3 3811.7,193.4 3812.3,193.6 3813,193.7 3813.7,193.8 3814.4,194 3815.1,194.1 3815.7,194.2 3816.4,194.3 3817.1,194.3 3817.8,194.4 3818.4,194.4 3819.1,194.5 3819.8,194.5 3820.5,194.5 3821.1,194.5 3821.8,194.5 3822.5,194.5 3823.2,194.5 3823.9,194.5 3824.5,194.5 3825.2,194.5 3825.9,194.5 3826.6,194.5 3827.2,194.6 3827.9,194.6 3828.6,194.7 3829.3,194.7 3830,194.8 3830.6,194.9 3831.3,195 3832,195.1 3832.7,195.2 3833.3,195.4 3834,195.5 3834.7,195.7 3835.4,195.9 3836.1,196.1 3836.7,196.3 3837.4,196.5 3838.1,196.7 3838.8,196.9 3839.4,197.1 3840.1,197.3 3840.8,197.4 3841.5,197.6 3842.1,197.8 3842.8,198 3843.5,198.1 3844.2,198.3 3844.9,198.4 3845.5,198.6 3846.2,198.7 3846.9,198.8 3847.6,198.9 3848.2,199 3848.9,199.1 3849.6,199.2 3850.3,199.2 3851,199.3 3851.6,199.4 3852.3,199.5 3853,199.6 3853.7,199.7 3854.3,199.8 3855,199.9 3855.7,200 3856.4,200.1 3857.1,200.3 3857.7,200.4 3858.4,200.6 3859.1,200.7 3859.8,200.9 3860.4,201.1 3861.1,201.2 3861.8,201.4 3862.5,201.6 3863.1,201.7 3863.8,201.9 3864.5,202 3865.2,202.2 3865.9,202.3 3866.5,202.5 3867.2,202.6 3867.9,202.8 3868.6,202.9 3869.2,203.1 3869.9,203.2 3870.6,203.4 3871.3,203.5 3872,203.7 3872.6,203.9 3873.3,204 3874,204.2 3874.7,204.4 3875.3,204.6 3876,204.8 3876.7,205 3877.4,205.2 3878.1,205.3 3878.7,205.5 3879.4,205.7 3880.1,205.9 3880.8,206.1 3881.4,206.3 3882.1,206.5 3882.8,206.7 3883.5,206.8 3884.1,207 3884.8,207.1 3885.5,207.3 3886.2,207.4 3886.9,207.6 3887.5,207.7 3888.2,207.9 3888.9,208 3889.6,208.2 3890.2,208.3 3890.9,208.5 3891.6,208.6 3892.3,208.8 3893,209 3893.6,209.1 3894.3,209.3 3895,209.5 3895.7,209.7 3896.3,209.9 3897,210.2 3897.7,210.4 3898.4,210.6 3899.1,210.8 3899.7,211.1 3900.4,211.4 3901.1,211.6 3901.8,211.9 3902.4,212.2 3903.1,212.5 3903.8,212.7 3904.5,213 3905.1,213.3 3905.8,213.6 3906.5,213.9 3907.2,214.2 3907.9,214.5 3908.5,214.8 3909.2,215.1 3909.9,215.4 3910.6,215.7 3911.2,216 3911.9,216.3 3912.6,216.6 3913.3,216.8 3914,217.1 3914.6,217.4 3915.3,217.7 3916,217.9 3916.7,218.2 3917.3,218.5 3918,218.8 3918.7,219.1 3919.4,219.4 3920.1,219.6 3920.7,219.9 3921.4,220.2 3922.1,220.5 3922.8,220.8 3923.4,221.1 3924.1,221.4 3924.8,221.7 3925.5,222 3926.1,222.3 3926.8,222.5 3927.5,222.8 3928.2,223.1 3928.9,223.4 3929.5,223.7 3930.2,223.9 3930.9,224.2 3931.6,224.5 3932.2,224.7 3932.9,225 3933.6,225.3 3934.3,225.5 3935,225.7 3935.6,226 3936.3,226.2 3937,226.4 3937.7,226.6 3938.3,226.8 3939,227 3939.7,227.2 3940.4,227.3 3941.1,227.5 3941.7,227.6 3942.4,227.8 3943.1,227.9 3943.8,228 3944.4,228.2 3945.1,228.3 3945.8,228.4 3946.5,228.6 3947.1,228.7 3947.8,228.8 3948.5,229 3949.2,229.1 3949.9,229.2 3950.5,229.4 3951.2,229.5 3951.9,229.6 3952.6,229.8 3953.2,229.9 3953.9,230 3954.6,230.2 3955.3,230.3 3956,230.4 3956.6,230.6 3957.3,230.7 3958,230.8 3958.7,231 3959.3,231.1 3960,231.2 3960.7,231.4 3961.4,231.5 3962.1,231.6 3962.7,231.8 3963.4,231.9 3964.1,232 3964.8,232.2 3965.4,232.3 3966.1,232.4 3966.8,232.6 3967.5,232.7 3968.1,232.8 3968.8,233 3969.5,233.1 3970.2,233.2 3970.9,233.3 3971.5,233.5 3972.2,233.6 3972.9,233.7 3973.6,233.8 3974.2,233.9 3974.9,233.9 3975.6,234 3976.3,234 3977,234 3977.6,234 3978.3,234 3979,233.9 3979.7,233.8 3980.3,233.6 3981,233.5 3981.7,233.2 3982.4,233 3983.1,232.7 3983.7,232.5 3984.4,232.2 3985.1,231.9 3985.8,231.6 3986.4,231.4 3987.1,231.1 3987.8,231 3988.5,230.8 3989.1,230.8 3989.8,230.8 3990.5,230.9 3991.2,231.1 3991.9,231.3 3992.5,231.7 3993.2,232.1 3993.9,232.6 3994.6,233.1 3995.2,233.7 3995.9,234.3 3996.6,234.9 3997.3,235.5 3998,236.1 3998.6,236.7 3999.3,237.2 4000,237.7 4000.7,238.2 4001.3,238.6 4002,238.9 4002.7,239.2 4003.4,239.5 4004.1,239.7 4004.7,239.9 4005.4,240.1 4006.1,240.3 4006.8,240.5 4007.4,240.6 4008.1,240.8 4008.8,240.9 4009.5,241 4010.1,241.1 4010.8,241.2 4011.5,241.3 4012.2,241.4 4012.9,241.4 4013.5,241.4 4014.2,241.4 4014.9,241.3 4015.6,241.3 4016.2,241.2 4016.9,241.2 4017.6,241.1 4018.3,241.1 4019,241.2 4019.6,241.3 4020.3,241.5 4021,241.7 4021.7,242 4022.3,242.3 4023,242.6 4023.7,242.9 4024.4,243.2 4025.1,243.5 4025.7,243.7 4026.4,243.9 4027.1,244 4027.8,244.1 4028.4,244.1 4029.1,244.1 4029.8,244 4030.5,244 4031.1,243.8 4031.8,243.7 4032.5,243.5 4033.2,243.3 4033.9,243.1 4034.5,243 4035.2,242.8 4035.9,242.6 4036.6,242.5 4037.2,242.4 4037.9,242.3 4038.6,242.3 4039.3,242.2 4040,242.2 4040.6,242.3 4041.3,242.4 4042,242.5 4042.7,242.7 4043.3,242.9 4044,243.2 4044.7,243.6 4045.4,244 4046.1,244.5 4082.3,252.9 4083,252.9 4083.7,252.9 4084.3,252.9 4085,253 4085.7,253 4086.4,253 4087,253.1 4087.7,253.1 4088.4,253.1 4089.1,253.2 4089.7,253.2 4090.4,253.3 4091.1,253.3 4091.8,253.4 4092.5,253.4 4093.1,253.5 4093.8,253.5 4094.5,253.6 4095.2,253.7 4095.8,253.8 4096.5,253.9 4097.2,254 4097.9,254.1 4098.6,254.2 4099.2,254.3 4099.9,254.4 4100.6,254.5 4101.3,254.7 4101.9,254.8 4102.6,254.9 4103.3,255.1 4104,255.2 4104.7,255.4 4105.3,255.5 4106,255.6 4106.7,255.8 4107.4,255.9 4108,256.1 4108.7,256.2 4109.4,256.3 4110.1,256.5 4110.7,256.6 4111.4,256.8 4112.1,256.9 4112.8,257 4113.5,257.2 4114.1,257.3 4114.8,257.5 4115.5,257.6 4116.2,257.8 4116.8,257.9 4117.5,258 4118.2,258.2 4118.9,258.3 4119.6,258.5 4120.2,258.6 4120.9,258.7 4121.6,258.9 4122.3,259 4122.9,259.2 4123.6,259.3 4124.3,259.4 4125,259.6 4125.7,259.7 4126.3,259.9 4127,260 4127.7,260.1 4128.4,260.3 4129,260.4 4129.7,260.6 4130.4,260.7 4131.1,260.9 4131.7,261 4132.4,261.1 4133.1,261.3 4133.8,261.4 4134.5,261.6 4135.1,261.7 4135.8,261.8 4136.5,262 4137.2,262.1 4137.8,262.3 4138.5,262.4 4139.2,262.5 4139.9,262.7 4140.6,262.8 4141.2,263 4141.9,263.1 4142.6,263.3 4143.3,263.4 4143.9,263.5 4144.6,263.7 4145.3,263.8 4146,264 4146.7,264.1 4147.3,264.2 4148,264.4 4148.7,264.5 4149.4,264.7 4150,264.8 4150.7,264.9 4150.7,264.9" stroke="#1818c0" stroke-width="1.3"/>
<polyline points="3507.5,159.2 3509.5,159.4 3511.6,159.6 3513.6,159.8 3515.6,160.1 3517.7,160.3 3519.7,160.5 3521.7,160.7 3523.8,160.9 3525.8,161.1 3527.8,161.3 3529.9,161.6 3531.9,161.8 3533.9,162 3536,162.2 3538,162.5 3540,162.7 3542.1,162.9 3544.1,163.1 3546.1,163.4 3548.1,163.6 3550.2,163.8 3552.2,164.1 3554.2,164.3 3556.3,164.5 3558.3,164.8 3560.3,165 3562.4,165.3 3564.4,165.5 3566.4,165.7 3568.5,166 3570.5,166.2 3572.5,166.5 3574.6,166.7 3576.6,167 3578.6,167.2 3580.7,167.5 3582.7,167.7 3584.7,168 3586.8,168.2 3588.8,168.5 3590.8,168.7 3592.9,169 3594.9,169.3 3596.9,169.5 3599,169.8 3601,170 3603,170.3 3605.1,170.6 3607.1,170.8 3609.1,171.1 3611.1,171.4 3613.2,171.6 3615.2,171.9 3617.2,172.2 3619.3,172.5 3621.3,172.7 3623.3,173 3625.4,173.3 3627.4,173.5 3629.4,173.8 3631.5,174.1 3633.5,174.4 3635.5,174.7 3637.6,174.9 3639.6,175.2 3641.6,175.5 3643.7,175.8 3645.7,176.1 3647.7,176.4 3649.8,176.7 3651.8,176.9 3653.8,177.2 3655.9,177.5 3657.9,177.8 3659.9,178.1 3662,178.4 3664,178.7 3666,179 3668.1,179.3 3670.1,179.6 3672.1,179.9 3674.1,180.2 3676.2,180.5 3678.2,180.8 3680.2,181.1 3682.3,181.4 3684.3,181.7 3686.3,182 3688.4,182.3 3690.4,182.6 3692.4,182.9 3694.5,183.2 3696.5,183.5 3698.5,183.9 3700.6,184.2 3702.6,184.5 3704.6,184.8 3706.7,185.1 3708.7,185.4 3710.7,185.7 3712.8,186.1 3714.8,186.4 3716.8,186.7 3718.9,187 3720.9,187.3 3722.9,187.6 3725,187.9 3727,188.2 3729,188.5 3731.1,188.7 3733.1,189 3735.1,189.2 3737.1,189.5 3739.2,189.7 3741.2,189.9 3743.2,190.1 3745.3,190.4 3747.3,190.6 3749.3,190.8 3751.4,191 3753.4,191.2 3755.4,191.4 3757.5,191.6 3759.5,191.8 3761.5,191.9 3763.6,192.1 3765.6,192.3 3767.6,192.5 3769.7,192.7 3771.7,192.8 3773.7,193 3775.8,193.2 3777.8,193.4 3779.8,193.6 3781.9,193.8 3783.9,193.9 3785.9,194.1 3788,194.3 3790,194.5 3792,194.7 3794.1,194.9 3796.1,195.1 3798.1,195.3 3800.1,195.6 3802.2,195.8 3804.2,196 3806.2,196.3 3808.3,196.5 3810.3,196.8 3812.3,197.1 3814.4,197.4 3816.4,197.7 3818.4,198 3820.5,198.3 3822.5,198.6 3824.5,199 3826.6,199.3 3828.6,199.7 3830.6,200.1 3832.7,200.4 3834.7,200.8 3836.7,201.2 3838.8,201.5 3840.8,201.9 3842.8,202.3 3844.9,202.6 3846.9,203 3848.9,203.4 3851,203.7 3853,204.1 3855,204.5 3857.1,204.8 3859.1,205.2 3861.1,205.6 3863.1,206 3865.2,206.3 3867.2,206.7 3869.2,207.1 3871.3,207.5 3873.3,207.9 3875.3,208.2 3877.4,208.6 3879.4,209 3881.4,209.4 3883.5,209.7 3885.5,210.1 3887.5,210.5 3889.6,210.9 3891.6,211.3 3893.6,211.7 3895.7,212 3897.7,212.4 3899.7,212.8 3901.8,213.3 3903.8,213.8 3905.8,214.4 3907.9,215 3909.9,215.7 3911.9,216.4 3914,217.2 3916,218 3918,218.8 3920.1,219.6 3922.1,220.5 3924.1,221.4 3926.1,222.3 3928.2,223.1 3930.2,223.9 3932.2,224.7 3934.3,225.5 3936.3,226.2 3938.3,226.8 3940.4,227.3 3942.4,227.8 3942.7,227.9" stroke="#108010" stroke-width="1.6"/>
<polyline points="3507.5,160.1 3514.3,160.8 3521.1,161.6 3527.8,162.3 3534.6,163 3541.4,163.8 3548.1,164.5 3554.9,165.3 3561.7,166.1 3568.5,166.9 3575.2,167.7 3582,168.6 3588.8,169.4 3595.6,170.3 3602.3,171.2 3609.1,172 3615.9,172.9 3622.7,173.8 3629.4,174.8 3636.2,175.7 3643,176.6 3649.8,177.6 3656.5,178.6 3663.3,179.5 3670.1,180.5 3676.9,181.5 3683.6,182.5 3690.4,183.5 3697.2,184.6 3704,185.6 3710.7,186.7 3717.5,187.7 3724.3,188.8 3731.1,189.9 3737.8,191 3744.6,192.1 3751.4,193.2 3758.1,194.3 3764.9,195.4 3771.7,196.6 3778.5,197.7 3785.2,198.9 3792,200 3798.8,201.2 3805.6,202.4 3812.3,203.6 3819.1,204.8 3825.9,206 3832.7,207.2 3839.4,208.4 3846.2,209.6 3853,210.9 3859.8,212.1 3866.5,213.4 3873.3,214.6 3880.1,215.9 3886.9,217.2 3893.6,218.4 3900.4,219.7 3907.2,221 3914,222.3 3920.7,223.6 3927.5,224.9 3934.3,226.2 3941.1,227.5 3947.8,228.8 3954.6,230.2 3961.4,231.5 3968.1,232.8 3974.9,234.2 3981.7,235.5 3988.5,236.9 3995.2,238.2 4002,239.6 4008.8,240.9 4015.6,242.3 4022.3,243.7 4029.1,245.1 4035.9,246.4 4042.7,247.8 4085,256.5 4091.8,257.9 4098.6,259.3 4105.3,260.7 4112.1,262.1 4118.9,263.5 4125.7,264.9 4132.4,266.3 4139.2,267.8 4146,269.2 4150.7,270.2" stroke="#808080" stroke-width="1.5"/>
</g>
<rect x="3507.7" y="114.0" width="640.3" height="165.3" fill="none" stroke="#5e5e5e" stroke-width="1.25"/>
<line x1="3724.0" y1="114.0" x2="3724.0" y2="279.3" stroke="#333" stroke-width="0.9" stroke-dasharray="3.2,2.2"/>
<line x1="3941.7" y1="114.0" x2="3941.7" y2="279.3" stroke="#333" stroke-width="0.9" stroke-dasharray="3.2,2.2"/>
<text x="3585.6" y="293.6" font-size="15.5" text-anchor="middle" fill="#111">1500</text>
<text x="3690.2" y="293.6" font-size="15.5" text-anchor="middle" fill="#111">2000</text>
<text x="3837.6" y="293.6" font-size="15.5" text-anchor="middle" fill="#111">3000</text>
<text x="3942.1" y="293.6" font-size="15.5" text-anchor="middle" fill="#111">4000</text>
<text x="4023.2" y="293.6" font-size="15.5" text-anchor="middle" fill="#111">5000</text>
<text x="4145.6" y="293.6" font-size="15.5" text-anchor="middle" fill="#111">7000</text>
<text x="3504.7" y="283.8" font-size="14.5" text-anchor="end" fill="#222">10<tspan font-size="9.5" dy="-6">−1</tspan></text>
<text x="3504.7" y="211.3" font-size="14.5" text-anchor="end" fill="#222">10<tspan font-size="9.5" dy="-6">0</tspan></text>
<text x="3504.7" y="138.8" font-size="14.5" text-anchor="end" fill="#222">10<tspan font-size="9.5" dy="-6">1</tspan></text>
<path d="M3585.6 279.3v-5M3585.6 114.0v5M3690.2 279.3v-5M3690.2 114.0v5M3837.6 279.3v-5M3837.6 114.0v5M3942.1 279.3v-5M3942.1 114.0v5M4023.2 279.3v-5M4023.2 114.0v5M4145.6 279.3v-5M4145.6 114.0v5M3507.7 279.3h5M4148.0 279.3h-5M3507.7 257.5h2.5M4148.0 257.5h-2.5M3507.7 244.7h2.5M4148.0 244.7h-2.5M3507.7 235.7h2.5M4148.0 235.7h-2.5M3507.7 228.6h2.5M4148.0 228.6h-2.5M3507.7 222.9h2.5M4148.0 222.9h-2.5M3507.7 218.0h2.5M4148.0 218.0h-2.5M3507.7 213.8h2.5M4148.0 213.8h-2.5M3507.7 210.1h2.5M4148.0 210.1h-2.5M3507.7 206.8h5M4148.0 206.8h-5M3507.7 185.0h2.5M4148.0 185.0h-2.5M3507.7 172.2h2.5M4148.0 172.2h-2.5M3507.7 163.2h2.5M4148.0 163.2h-2.5M3507.7 156.1h2.5M4148.0 156.1h-2.5M3507.7 150.4h2.5M4148.0 150.4h-2.5M3507.7 145.5h2.5M4148.0 145.5h-2.5M3507.7 141.3h2.5M4148.0 141.3h-2.5M3507.7 137.6h2.5M4148.0 137.6h-2.5M3507.7 134.3h5M4148.0 134.3h-5" stroke="#5e5e5e" stroke-width="0.9" fill="none"/>
<rect x="4042.0" y="118.3" width="102.3" height="55" fill="#fff" stroke="#5e5e5e" stroke-width="0.8"/>
<line x1="4046.0" y1="124.1" x2="4061.0" y2="124.1" stroke="#cc1a1a" stroke-width="0.9"/>
<text x="4066.0" y="126.7" font-size="7.2" text-anchor="start" fill="#222">TDC+BC+FeII+Lines</text>
<line x1="4046.0" y1="134.8" x2="4061.0" y2="134.8" stroke="#1818c0" stroke-width="1.2"/>
<text x="4066.0" y="137.4" font-size="7.2" text-anchor="start" fill="#222">TDC+BC+FeII</text>
<line x1="4046.0" y1="145.5" x2="4061.0" y2="145.5" stroke="#108010" stroke-width="1.6"/>
<text x="4066.0" y="148.1" font-size="7.2" text-anchor="start" fill="#222">TDC+BC</text>
<line x1="4046.0" y1="156.2" x2="4061.0" y2="156.2" stroke="#808080" stroke-width="1.5"/>
<text x="4066.0" y="158.8" font-size="7.2" text-anchor="start" fill="#222">TDC</text>
<line x1="4046.0" y1="166.9" x2="4061.0" y2="166.9" stroke="#20e6ee" stroke-width="0.9"/>
<text x="4066.0" y="169.5" font-size="7.2" text-anchor="start" fill="#222">SDSS data, not scaled</text>
<text x="3466.0" y="198.5" font-size="17.5" text-anchor="middle" fill="#222" transform="rotate(-90 3466.0 198.5)">F<tspan font-size="11.5" dy="3.5">λ</tspan><tspan dy="-3.5">[arbitrary units]</tspan></text>
<text x="3827.0" y="316.3" font-size="16.5" text-anchor="middle" fill="#222"><tspan font-style="italic">λ</tspan>(Å)</text>
<clipPath id="c3p1"><rect x="3502.7" y="329.3" width="218.3" height="158.0"/></clipPath>
<g clip-path="url(#c3p1)" fill="none" stroke-linejoin="round">
<polyline points="3503.1,-972 3503.6,-1385.5 3504,-1623.4 3504.4,-1427 3504.8,-1105.5 3505.2,-817.6 3505.7,-380.9 3506.1,-203.7 3506.5,-62.4 3506.9,59.8 3507.3,131.4 3507.8,194.7 3508.2,232.6 3508.6,262.2 3509,299.2 3509.4,316.9 3509.9,334.8 3510.3,349.9 3510.7,359.1 3511.1,373.1 3511.5,373.1 3512,376.4 3512.4,382.5 3512.8,390.1 3513.2,407.4 3513.6,423.1 3514.1,453.1 3514.5,453.6 3514.9,429.3 3515.3,421.2 3515.7,413.5 3516.1,416.2 3516.6,419 3517,422.4 3517.4,420.6 3517.8,424.1 3518.2,421.7 3518.7,422.5 3519.1,429.4 3519.5,428.4 3519.9,428.8 3520.3,431.5 3520.8,432.1 3521.2,430.2 3521.6,431.5 3522,435.1 3522.4,433.4 3522.9,431.8 3523.3,435.7 3523.7,435.7 3524.1,431.1 3524.5,432.1 3525,438.3 3525.4,438.1 3525.8,435.2 3526.2,438.5 3526.6,437 3527.1,437.7 3527.5,436.1 3527.9,442.2 3528.3,441.8 3528.7,440.3 3529.2,436.4 3529.6,438.8 3530,442 3530.4,439.5 3530.8,445.5 3531.3,459 3531.7,465.3 3532.1,456.3 3532.5,443.8 3532.9,440.8 3533.4,439.3 3533.8,440.4 3534.2,441.1 3534.6,442.1 3535,440.2 3535.5,441.2 3535.9,441.2 3536.3,439.2 3536.7,440.1 3537.1,439.4 3537.6,443.7 3538,440 3538.4,441.9 3538.8,442.3 3539.2,442.3 3539.6,438.5 3540.1,439 3540.5,441.6 3540.9,442.1 3541.3,439.7 3541.7,440.2 3542.2,436 3542.6,441.1 3543,441.3 3543.4,437.7 3543.8,436.4 3544.3,435.4 3544.7,433.3 3545.1,429.9 3545.5,435.1 3545.9,439.4 3546.4,449.2 3546.8,449.3 3547.2,442 3547.6,437.2 3548,432.5 3548.5,435.3 3548.9,433.5 3549.3,436.8 3549.7,440.4 3550.1,440.5 3550.6,442.9 3551,444 3551.4,441.2 3551.8,440.8 3552.2,439.6 3552.7,443.4 3553.1,444.1 3553.5,445.9 3553.9,442.9 3554.3,444.2 3554.8,446 3555.2,444.2 3555.6,444.7 3556,448.7 3556.4,444.8 3556.9,445.9 3557.3,446.9 3557.7,447.1 3558.1,443.9 3558.5,444.4 3559,444.1 3559.4,448.8 3559.8,448.1 3560.2,445.8 3560.6,449.1 3561.1,448.5 3561.5,450.2 3561.9,444.7 3562.3,446 3562.7,447 3563.2,447.4 3563.6,448.4 3564,448.4 3564.4,446.9 3564.8,448.9 3565.2,446 3565.7,448.6 3566.1,449.2 3566.5,445.9 3566.9,448.1 3567.3,447 3567.8,448.4 3568.2,451.1 3568.6,446.8 3569,449.6 3569.4,445.8 3569.9,449.6 3570.3,450 3570.7,446.5 3571.1,446.1 3571.5,446.3 3572,448.1 3572.4,444.4 3572.8,447.8 3573.2,445.7 3573.6,445.7 3574.1,444.5 3574.5,441.7 3574.9,443.4 3575.3,440.4 3575.7,439 3576.2,442 3576.6,439.5 3577,436.3 3577.4,434.6 3577.8,430.4 3578.3,432.4 3578.7,423.4 3579.1,419.8 3579.5,418.5 3579.9,418.5 3580.4,413.3 3580.8,417.9 3581.2,422.1 3581.6,425.5 3582,418.4 3582.5,418.2 3582.9,415.1 3583.3,427.7 3583.7,428 3584.1,427.9 3584.6,435 3585,433 3585.4,439 3585.8,438.4 3586.2,441.9 3586.7,442.5 3587.1,442.6 3587.5,444.2 3587.9,445.5 3588.3,442.3 3588.7,446.4 3589.2,448.5 3589.6,446.2 3590,446.9 3590.4,446.7 3590.8,446.3 3591.3,450.6 3591.7,448.1 3592.1,448.2 3592.5,450.1 3592.9,450 3593.4,454.8 3593.8,451.6 3594.2,448.5 3594.6,453.6 3595,452 3595.5,451 3595.9,450.8 3596.3,449.9 3596.7,457.3 3597.1,463 3597.6,470.2 3598,469.1 3598.4,458.9 3598.8,450.9 3599.2,450.2 3599.7,451.1 3600.1,455.4 3600.5,452 3600.9,451.3 3601.3,452.3 3601.8,452 3602.2,447.8 3602.6,452.4 3603,453.6 3603.4,452.1 3603.9,453.1 3604.3,453.4 3604.7,453.3 3605.1,452.4 3605.5,453.4 3606,455.5 3606.4,454.3 3606.8,453.8 3607.2,455.2 3607.6,453.3 3608.1,454 3608.5,456.4 3608.9,454.9 3609.3,453 3609.7,453.6 3610.2,455.7 3610.6,454.7 3611,456.7 3611.4,457.8 3611.8,455.4 3612.2,455.9 3612.7,455.6 3613.1,456.4 3613.5,456 3613.9,457.1 3614.3,456 3614.8,455.6 3615.2,456.8 3615.6,455.8 3616,458.9 3616.4,457.8 3616.9,455.2 3617.3,454.9 3617.7,456.7 3618.1,457.2 3618.5,458.6 3619,456.7 3619.4,456.3 3619.8,459 3620.2,456.6 3620.6,456.8 3621.1,456.9 3621.5,458.7 3621.9,456.8 3622.3,459.3 3622.7,455.8 3623.2,457.5 3623.6,459 3624,456.2 3624.4,456.4 3624.8,458.6 3625.3,455.3 3625.7,459.1 3626.1,457.6 3626.5,456.7 3626.9,460.7 3627.4,457 3627.8,458.3 3628.2,458.3 3628.6,459.5 3629,458 3629.5,459.7 3629.9,459.6 3630.3,459 3630.7,460 3631.1,456.9 3631.6,460.2 3632,459.6 3632.4,459.2 3632.8,458.9 3633.2,458.1 3633.7,458.2 3634.1,459.5 3634.5,459.6 3634.9,459.2 3635.3,458.4 3635.7,458.7 3636.2,460.1 3636.6,461.8 3637,457.3 3637.4,458.7 3637.8,459.5 3638.3,459.5 3638.7,460.5 3639.1,461 3639.5,460.4 3639.9,460.3 3640.4,460.8 3640.8,461.8 3641.2,460.6 3641.6,459.7 3642,460.9 3642.5,460.4 3642.9,462.7 3643.3,460.8 3643.7,460.8 3644.1,462 3644.6,462.5 3645,460.3 3645.4,461.7 3645.8,460.4 3646.2,461.3 3646.7,460.3 3647.1,461.3 3647.5,462.6 3647.9,461.1 3648.3,461.4 3648.8,460.4 3649.2,461.6 3649.6,461.5 3650,460.2 3650.4,459.9 3650.9,460.3 3651.3,460 3651.7,460.7 3652.1,461.4 3652.5,465.3 3653,472.8 3653.4,475.5 3653.8,469.8 3654.2,461.3 3654.6,461.1 3655.1,460.9 3655.5,460.9 3655.9,460.4 3656.3,459.9 3656.7,461.2 3657.2,461.9 3657.6,459.2 3658,461.1 3658.4,458.7 3658.8,458.5 3659.2,456.9 3659.7,455.8 3660.1,456.8 3660.5,457.3 3660.9,457.4 3661.3,456.2 3661.8,454.4 3662.2,456.4 3662.6,452.8 3663,452.2 3663.4,450.6 3663.9,451.4 3664.3,450.5 3664.7,451.7 3665.1,451.5 3665.5,453.8 3666,451.8 3666.4,450.7 3666.8,453.4 3667.2,454 3667.6,456.5 3668.1,454.4 3668.5,457.8 3668.9,456.7 3669.3,458.1 3669.7,459.8 3670.2,458.1 3670.6,459.7 3671,459.9 3671.4,460 3671.8,460.8 3672.3,461.5 3672.7,460.8 3673.1,462 3673.5,461.7 3673.9,462.6 3674.4,463.6 3674.8,463 3675.2,464 3675.6,468.4 3676,478.2 3676.5,485.5 3676.9,478.6 3677.3,470.3 3677.7,465.1 3678.1,463.7 3678.6,465.4 3679,465.1 3679.4,463.2 3679.8,463.4 3680.2,463.6 3680.7,464.4 3681.1,461.6 3681.5,463.9 3681.9,464.6 3682.3,462.3 3682.8,463.3 3683.2,464.3 3683.6,462.9 3684,463.9 3684.4,463.5 3684.8,463.9 3685.3,465.2 3685.7,463.4 3686.1,464.2 3686.5,465.3 3686.9,465.1 3687.4,463.6 3687.8,464.8 3688.2,464.5 3688.6,464 3689,464.5 3689.5,466.1 3689.9,464.2 3690.3,463.9 3690.7,464.1 3691.1,463.4 3691.6,464.6 3692,464.3 3692.4,463.6 3692.8,465.3 3693.2,463.6 3693.7,463.6 3694.1,464.5 3694.5,463.6 3694.9,464.5 3695.3,466.1 3695.8,464.4 3696.2,465.2 3696.6,465.1 3697,465.4 3697.4,464.4 3697.9,465.1 3698.3,466.3 3698.7,465.3 3699.1,465.1 3699.5,466.4 3700,466.2 3700.4,466.2 3700.8,466.4 3701.2,465.6 3701.6,465.1 3702.1,464.4 3702.5,465 3702.9,465.2 3703.3,465.1 3703.7,465 3704.2,466.5 3704.6,465.6 3705,466 3705.4,466.4 3705.8,466.7 3706.3,466.8 3706.7,466.6 3707.1,467.5 3707.5,466 3707.9,466.5 3708.3,466.4 3708.8,466.3 3709.2,466 3709.6,467.1 3710,466.7 3710.4,468 3710.9,468.6 3711.3,468.4 3711.7,465.5 3712.1,468.3 3712.5,466.4 3713,465.6 3713.4,467.3 3713.8,465.6 3714.2,465.4 3714.6,466.2 3715.1,465.1 3715.5,466.5 3715.9,467.7 3716.3,466.7 3716.7,467.5 3717.2,468.3 3717.6,468.3 3718,465.4 3718.4,467.7 3718.8,467.4 3719.3,467.9 3719.7,467.3 3720.1,467.6 3720.5,468.3 3720.9,469.9" stroke="#111" stroke-width="0.6"/>
<polyline points="3503.1,440.8 3513.6,442.9 3524.1,445 3534.6,447 3545.1,448.9 3555.6,450.7 3566.1,452.4 3576.6,454 3587.1,455.6 3597.6,457 3608.1,458.4 3618.5,459.8 3629,461 3639.5,462.3 3650,463.4 3660.5,464.5 3671,465.5 3681.5,466.5 3692,467.4 3702.5,468.3 3713,469.2 3720.9,469.8" stroke="#808080" stroke-width="1"/>
<polyline points="3503.1,439.3 3504.4,439.6 3505.7,439.8 3506.9,440.1 3508.2,440.4 3509.4,440.6 3510.7,440.9 3512,441.2 3513.2,441.4 3514.5,441.7 3515.7,441.9 3517,442.2 3518.2,442.5 3519.5,442.7 3520.8,443 3522,443.2 3523.3,443.5 3524.5,443.7 3525.8,444 3527.1,444.2 3528.3,444.5 3529.6,444.7 3530.8,444.9 3532.1,445.2 3533.4,445.4 3534.6,445.7 3535.9,445.9 3537.1,446.1 3538.4,446.4 3539.6,446.6 3540.9,446.8 3542.2,447.1 3543.4,447.3 3544.7,447.5 3545.9,447.8 3547.2,448 3548.5,448.2 3549.7,448.4 3551,448.7 3552.2,448.9 3553.5,449.1 3554.8,449.3 3556,449.5 3557.3,449.7 3558.5,450 3559.8,450.2 3561.1,450.4 3562.3,450.6 3563.6,450.8 3564.8,451 3566.1,451.2 3567.3,451.4 3568.6,451.6 3569.9,451.8 3571.1,452 3572.4,452.2 3573.6,452.3 3574.9,452.5 3576.2,452.6 3577.4,452.8 3578.7,452.9 3579.9,453 3581.2,453.1 3582.5,453.3 3583.7,453.4 3585,453.5 3586.2,453.6 3587.5,453.7 3588.7,453.8 3590,453.9 3591.3,454.1 3592.5,454.3 3593.8,454.4 3595,454.6 3596.3,454.9 3597.6,455.1 3598.8,455.3 3600.1,455.6 3601.3,455.8 3602.6,456 3603.9,456.3 3605.1,456.5 3606.4,456.7 3607.6,456.9 3608.9,457 3610.2,457.2 3611.4,457.3 3612.7,457.4 3613.9,457.6 3615.2,457.7 3616.4,457.8 3617.7,457.9 3619,458 3620.2,458.1 3621.5,458.2 3622.7,458.3 3624,458.4 3625.3,458.5 3626.5,458.7 3627.8,458.8 3629,459 3630.3,459.2 3631.6,459.3 3632.8,459.5 3634.1,459.8 3635.3,460 3636.6,460.2 3637.8,460.4 3639.1,460.6 3640.4,460.9 3641.6,461.1 3642.9,461.3 3644.1,461.5 3645.4,461.7 3646.7,461.9 3647.9,462.1 3649.2,462.2 3650.4,462.4 3651.7,462.6 3653,462.7 3654.2,462.9 3655.5,463 3656.7,463.1 3658,463.2 3659.2,463.3 3660.5,463.4 3661.8,463.5 3663,463.6 3664.3,463.7 3665.5,463.8 3666.8,463.8 3668.1,463.9 3669.3,464 3670.6,464 3671.8,464.1 3673.1,464.1 3674.4,464.2 3675.6,464.2 3676.9,464.3 3678.1,464.4 3679.4,464.4 3680.7,464.5 3681.9,464.6 3683.2,464.6 3684.4,464.7 3685.7,464.8 3686.9,464.9 3688.2,465 3689.5,465.1 3690.7,465.2 3692,465.4 3693.2,465.5 3694.5,465.6 3695.8,465.7 3697,465.8 3698.3,465.9 3699.5,466 3700.8,466.1 3702.1,466.3 3703.3,466.4 3704.6,466.4 3705.8,466.5 3707.1,466.6 3708.3,466.7 3709.6,466.8 3710.9,466.9 3712.1,467 3713.4,467.1 3714.6,467.2 3715.9,467.2 3717.2,467.3 3718.4,467.4 3719.7,467.6 3720.9,467.7 3720.9,467.7" stroke="#1818c0" stroke-width="0.8"/>
<polyline points="3503.1,439.3 3507.3,440.2 3511.5,441.1 3515.7,441.9 3519.9,442.8 3524.1,443.6 3528.3,444.5 3532.5,445.3 3536.7,446.1 3540.9,446.8 3545.1,447.6 3549.3,448.4 3553.5,449.1 3557.7,449.8 3561.9,450.5 3566.1,451.2 3570.3,451.9 3574.5,452.6 3578.7,453.2 3582.9,453.9 3587.1,454.5 3591.3,455.1 3595.5,455.7 3599.7,456.3 3603.9,456.9 3608.1,457.5 3612.2,458 3616.4,458.6 3620.6,459.1 3624.8,459.6 3629,460.2 3633.2,460.7 3637.4,461.2 3641.6,461.6 3645.8,462.1 3650,462.6 3654.2,463 3658.4,463.5 3662.6,463.9 3666.8,464.3 3671,464.8 3675.2,465.2 3679.4,465.6 3683.6,466 3687.8,466.4 3692,466.8 3696.2,467.1 3700.4,467.5 3704.6,467.9 3708.8,468.2 3713,468.5 3717.2,468.9 3720.9,469.2" stroke="#108010" stroke-width="1.5"/>
<polyline points="3503.1,-943.6 3504,-1543 3504.8,-1094.9 3505.7,-415.9 3506.5,-45.7 3507.3,139.5 3508.2,239.2 3509,297.7 3509.9,334.5 3510.7,359 3511.5,376.1 3512.4,388.5 3513.2,397.8 3514.1,404.9 3514.9,410.5 3515.7,415 3516.6,418.6 3517.4,421.6 3518.2,424.2 3519.1,426.3 3519.9,428.1 3520.8,429.7 3521.6,431.1 3522.4,432.3 3523.3,433.3 3524.1,434.3 3525,435.1 3525.8,435.9 3526.6,436.6 3527.5,437.2 3528.3,437.8 3529.2,438.3 3530,438.7 3530.8,439.1 3531.7,439.5 3532.5,439.9 3533.4,440.2 3534.2,440.4 3535,440.6 3535.9,440.8 3536.7,440.9 3537.6,440.9 3538.4,440.9 3539.2,440.8 3540.1,440.5 3540.9,440.1 3541.7,439.4 3542.6,438.5 3543.4,437.2 3544.3,435.6 3545.1,433.9 3545.9,432.6 3546.8,432.4 3547.6,433.4 3548.5,435.3 3549.3,437.4 3550.1,439.4 3551,441 3551.8,442.3 3552.7,443.3 3553.5,444.1 3554.3,444.8 3555.2,445.3 3556,445.8 3556.9,446.2 3557.7,446.5 3558.5,446.8 3559.4,447 3560.2,447.2 3561.1,447.4 3561.9,447.5 3562.7,447.7 3563.6,447.8 3564.4,447.8 3565.2,447.9 3566.1,447.9 3566.9,447.8 3567.8,447.8 3568.6,447.6 3569.4,447.4 3570.3,447.1 3571.1,446.7 3572,446.2 3572.8,445.5 3573.6,444.5 3574.5,443.2 3575.3,441.4 3576.2,438.9 3577,435.6 3577.8,431 3578.7,425.1 3579.5,418.1 3580.4,411.8 3581.2,409.1 3582,411.9 3582.9,418.4 3583.7,425.7 3584.6,431.9 3585.4,436.7 3586.2,440.3 3587.1,442.9 3587.9,444.9 3588.7,446.4 3589.6,447.6 3590.4,448.5 3591.3,449.3 3592.1,449.9 3592.9,450.4 3593.8,450.8 3594.6,451.1 3595.5,451.4 3596.3,451.6 3597.1,451.7 3598,451.8 3598.8,451.9 3599.7,451.8 3600.5,451.8 3601.3,451.8 3602.2,452 3603,452.3 3603.9,452.7 3604.7,453.2 3605.5,453.7 3606.4,454.2 3607.2,454.6 3608.1,455 3608.9,455.3 3609.7,455.5 3610.6,455.8 3611.4,456 3612.2,456.2 3613.1,456.3 3613.9,456.5 3614.8,456.6 3615.6,456.7 3616.4,456.9 3617.3,457 3618.1,457.1 3619,457.2 3619.8,457.2 3620.6,457.3 3621.5,457.4 3622.3,457.5 3623.2,457.6 3624,457.7 3624.8,457.8 3625.7,457.9 3626.5,458 3627.4,458.1 3628.2,458.2 3629,458.4 3629.9,458.5 3630.7,458.6 3631.6,458.7 3632.4,458.9 3633.2,459 3634.1,459.1 3634.9,459.3 3635.7,459.4 3636.6,459.6 3637.4,459.7 3638.3,459.8 3639.1,460 3639.9,460.1 3640.8,460.2 3641.6,460.3 3642.5,460.5 3643.3,460.6 3644.1,460.7 3645,460.8 3645.8,460.9 3646.7,460.9 3647.5,461 3648.3,461 3649.2,461.1 3650,461.1 3650.9,461.1 3651.7,461.1 3652.5,461 3653.4,460.9 3654.2,460.8 3655.1,460.6 3655.9,460.4 3656.7,460 3657.6,459.6 3658.4,459 3659.2,458.2 3660.1,457.2 3660.9,456 3661.8,454.5 3662.6,452.9 3663.4,451.5 3664.3,450.7 3665.1,450.9 3666,452 3666.8,453.6 3667.6,455.3 3668.5,456.9 3669.3,458.2 3670.2,459.3 3671,460.1 3671.8,460.8 3672.7,461.3 3673.5,461.7 3674.4,462.1 3675.2,462.4 3676,462.7 3676.9,462.9 3677.7,463.1 3678.6,463.2 3679.4,463.4 3680.2,463.5 3681.1,463.7 3681.9,463.8 3682.8,463.9 3683.6,464 3684.4,464.1 3685.3,464.2 3686.1,464.3 3686.9,464.4 3687.8,464.5 3688.6,464.6 3689.5,464.7 3690.3,464.8 3691.1,464.9 3692,465 3692.8,465.1 3693.7,465.2 3694.5,465.3 3695.3,465.4 3696.2,465.4 3697,465.5 3697.9,465.6 3698.7,465.7 3699.5,465.8 3700.4,465.9 3701.2,465.9 3702.1,466 3702.9,466.1 3703.7,466.2 3704.6,466.2 3705.4,466.3 3706.3,466.4 3707.1,466.4 3707.9,466.5 3708.8,466.6 3709.6,466.6 3710.4,466.7 3711.3,466.7 3712.1,466.8 3713,466.9 3713.8,466.9 3714.6,467 3715.5,467.1 3716.3,467.1 3717.2,467.2 3718,467.3 3718.8,467.3 3719.7,467.4 3720.5,467.5 3720.9,467.5" stroke="#cc1a1a" stroke-width="0.8"/>
<polyline points="3503.1,487.3 3504.4,487.3 3505.7,487.3 3506.9,487.3 3508.2,487.3 3509.4,487.3 3510.7,487.3 3512,487.3 3513.2,487.3 3514.5,487.3 3515.7,487.3 3517,487.3 3518.2,487.3 3519.5,487.3 3520.8,487.3 3522,487.3 3523.3,487.3 3524.5,487.3 3525.8,487.3 3527.1,487.3 3528.3,487.3 3529.6,487.3 3530.8,487.3 3532.1,487.3 3533.4,487.3 3534.6,487.3 3535.9,487.3 3537.1,487.3 3538.4,487.3 3539.6,487.3 3540.9,487.3 3542.2,487.3 3543.4,487.3 3544.7,487.3 3545.9,487.3 3547.2,487.3 3548.5,487.3 3549.7,487.3 3551,487.3 3552.2,487.3 3553.5,487.3 3554.8,487.3 3556,487.3 3557.3,487.3 3558.5,487.3 3559.8,487.3 3561.1,487.3 3562.3,487.3 3563.6,487.3 3564.8,487.3 3566.1,487.3 3567.3,487.3 3568.6,487.3 3569.9,487.3 3571.1,487.2 3572.4,487.2 3573.6,487.2 3574.9,487.1 3576.2,487.1 3577.4,487 3578.7,487 3579.9,486.9 3581.2,486.8 3582.5,486.7 3583.7,486.7 3585,486.6 3586.2,486.5 3587.5,486.4 3588.7,486.4 3590,486.3 3591.3,486.3 3592.5,486.3 3593.8,486.3 3595,486.3 3596.3,486.3 3597.6,486.4 3598.8,486.4 3600.1,486.5 3601.3,486.5 3602.6,486.6 3603.9,486.6 3605.1,486.7 3606.4,486.7 3607.6,486.7 3608.9,486.7 3610.2,486.7 3611.4,486.7 3612.7,486.7 3613.9,486.6 3615.2,486.6 3616.4,486.5 3617.7,486.4 3619,486.4 3620.2,486.3 3621.5,486.2 3622.7,486.2 3624,486.1 3625.3,486.1 3626.5,486.1 3627.8,486.1 3629,486.1 3630.3,486.1 3631.6,486.2 3632.8,486.2 3634.1,486.3 3635.3,486.4 3636.6,486.4 3637.8,486.5 3639.1,486.6 3640.4,486.7 3641.6,486.7 3642.9,486.8 3644.1,486.9 3645.4,486.9 3646.7,487 3647.9,487 3649.2,487.1 3650.4,487.1 3651.7,487.1 3653,487.1 3654.2,487.1 3655.5,487.1 3656.7,487.1 3658,487.1 3659.2,487.1 3660.5,487 3661.8,487 3663,486.9 3664.3,486.9 3665.5,486.8 3666.8,486.8 3668.1,486.7 3669.3,486.7 3670.6,486.6 3671.8,486.5 3673.1,486.4 3674.4,486.4 3675.6,486.3 3676.9,486.2 3678.1,486.2 3679.4,486.1 3680.7,486.1 3681.9,486 3683.2,486 3684.4,486 3685.7,485.9 3686.9,485.9 3688.2,485.9 3689.5,485.9 3690.7,485.9 3692,485.9 3693.2,485.9 3694.5,485.9 3695.8,485.9 3697,485.9 3698.3,485.9 3699.5,485.9 3700.8,485.9 3702.1,485.9 3703.3,485.9 3704.6,485.9 3705.8,485.9 3707.1,485.9 3708.3,485.9 3709.6,485.8 3710.9,485.8 3712.1,485.8 3713.4,485.8 3714.6,485.8 3715.9,485.8 3717.2,485.8 3718.4,485.8 3719.7,485.8 3720.9,485.8" stroke="#1818c0" stroke-width="0.8"/>
<polyline points="3503.1,-895.5 3504,-1495.1 3504.8,-1047.3 3505.7,-368.5 3506.5,1.6 3507.3,186.6 3508.2,286.2 3509,344.4 3509.9,381.1 3510.7,405.4 3511.5,422.4 3512.4,434.6 3513.2,443.7 3514.1,450.6 3514.9,456.1 3515.7,460.4 3516.6,463.8 3517.4,466.7 3518.2,469 3519.1,471 3519.9,472.6 3520.8,474 3521.6,475.2 3522.4,476.3 3523.3,477.2 3524.1,477.9 3525,478.6 3525.8,479.2 3526.6,479.7 3527.5,480.2 3528.3,480.6 3529.2,480.9 3530,481.2 3530.8,481.5 3531.7,481.7 3532.5,481.9 3533.4,482 3534.2,482.1 3535,482.2 3535.9,482.2 3536.7,482.1 3537.6,482 3538.4,481.8 3539.2,481.5 3540.1,481.1 3540.9,480.5 3541.7,479.7 3542.6,478.6 3543.4,477.2 3544.3,475.4 3545.1,473.6 3545.9,472.2 3546.8,471.7 3547.6,472.6 3548.5,474.4 3549.3,476.4 3550.1,478.2 3551,479.6 3551.8,480.8 3552.7,481.7 3553.5,482.3 3554.3,482.8 3555.2,483.2 3556,483.5 3556.9,483.8 3557.7,484 3558.5,484.1 3559.4,484.2 3560.2,484.3 3561.1,484.3 3561.9,484.3 3562.7,484.3 3563.6,484.3 3564.4,484.2 3565.2,484.1 3566.1,484 3566.9,483.8 3567.8,483.6 3568.6,483.3 3569.4,483 3570.3,482.6 3571.1,482 3572,481.4 3572.8,480.5 3573.6,479.5 3574.5,478 3575.3,476.1 3576.2,473.6 3577,470.1 3577.8,465.5 3578.7,459.5 3579.5,452.4 3580.4,446 3581.2,443.3 3582,446 3582.9,452.4 3583.7,459.6 3584.6,465.8 3585.4,470.5 3586.2,474 3587.1,476.6 3587.9,478.5 3588.7,479.9 3589.6,481 3590.4,481.8 3591.3,482.5 3592.1,483 3592.9,483.3 3593.8,483.6 3594.6,483.8 3595.5,484 3596.3,484 3597.1,484 3598,484 3598.8,483.8 3599.7,483.7 3600.5,483.5 3601.3,483.3 3602.2,483.3 3603,483.5 3603.9,483.7 3604.7,484.1 3605.5,484.5 3606.4,484.8 3607.2,485.1 3608.1,485.3 3608.9,485.6 3609.7,485.7 3610.6,485.9 3611.4,486 3612.2,486.1 3613.1,486.2 3613.9,486.2 3614.8,486.3 3615.6,486.3 3616.4,486.4 3617.3,486.4 3618.1,486.5 3619,486.5 3619.8,486.5 3620.6,486.5 3621.5,486.6 3622.3,486.6 3623.2,486.6 3624,486.6 3624.8,486.6 3625.7,486.6 3626.5,486.7 3627.4,486.7 3628.2,486.7 3629,486.7 3629.9,486.7 3630.7,486.7 3631.6,486.7 3632.4,486.7 3633.2,486.7 3634.1,486.7 3634.9,486.7 3635.7,486.7 3636.6,486.7 3637.4,486.7 3638.3,486.6 3639.1,486.6 3639.9,486.6 3640.8,486.6 3641.6,486.6 3642.5,486.5 3643.3,486.5 3644.1,486.5 3645,486.4 3645.8,486.4 3646.7,486.3 3647.5,486.3 3648.3,486.2 3649.2,486.1 3650,486 3650.9,485.9 3651.7,485.8 3652.5,485.7 3653.4,485.5 3654.2,485.2 3655.1,485 3655.9,484.6 3656.7,484.2 3657.6,483.7 3658.4,483 3659.2,482.2 3660.1,481.1 3660.9,479.8 3661.8,478.3 3662.6,476.6 3663.4,475.1 3664.3,474.3 3665.1,474.4 3666,475.5 3666.8,477.1 3667.6,478.8 3668.5,480.3 3669.3,481.5 3670.2,482.6 3671,483.4 3671.8,484 3672.7,484.5 3673.5,484.9 3674.4,485.2 3675.2,485.5 3676,485.7 3676.9,485.9 3677.7,486 3678.6,486.2 3679.4,486.3 3680.2,486.4 3681.1,486.4 3681.9,486.5 3682.8,486.6 3683.6,486.6 3684.4,486.7 3685.3,486.7 3686.1,486.8 3686.9,486.8 3687.8,486.8 3688.6,486.8 3689.5,486.9 3690.3,486.9 3691.1,486.9 3692,486.9 3692.8,486.9 3693.7,487 3694.5,487 3695.3,487 3696.2,487 3697,487 3697.9,487 3698.7,487 3699.5,487 3700.4,487.1 3701.2,487.1 3702.1,487.1 3702.9,487.1 3703.7,487.1 3704.6,487.1 3705.4,487.1 3706.3,487.1 3707.1,487.1 3707.9,487.1 3708.8,487.1 3709.6,487.1 3710.4,487.1 3711.3,487.1 3712.1,487.1 3713,487.1 3713.8,487.1 3714.6,487.1 3715.5,487.1 3716.3,487.1 3717.2,487.2 3718,487.2 3718.8,487.2 3719.7,487.2 3720.5,487.2" stroke="#cc1a1a" stroke-width="0.8"/>
</g>
<rect x="3502.7" y="329.3" width="218.3" height="158.0" fill="none" stroke="#5e5e5e" stroke-width="1.25"/>
<text x="3546.7" y="497.6" font-size="8.6" text-anchor="middle" fill="#222">1400</text>
<text x="3593.0" y="497.6" font-size="8.6" text-anchor="middle" fill="#222">1600</text>
<text x="3639.4" y="497.6" font-size="8.6" text-anchor="middle" fill="#222">1800</text>
<text x="3685.7" y="497.6" font-size="8.6" text-anchor="middle" fill="#222">2000</text>
<path d="M3546.7 487.3v-4M3546.7 329.3v4M3593.0 487.3v-4M3593.0 329.3v4M3639.4 487.3v-4M3639.4 329.3v4M3685.7 487.3v-4M3685.7 329.3v4M3502.7 349.1h3M3721.0 349.1h-3M3502.7 368.8h3M3721.0 368.8h-3M3502.7 388.6h3M3721.0 388.6h-3M3502.7 408.3h3M3721.0 408.3h-3M3502.7 428.1h3M3721.0 428.1h-3M3502.7 447.8h3M3721.0 447.8h-3M3502.7 467.6h3M3721.0 467.6h-3" stroke="#5e5e5e" stroke-width="0.8" fill="none"/>
<clipPath id="c3p2"><rect x="3721.0" y="329.3" width="218.3" height="158.0"/></clipPath>
<g clip-path="url(#c3p2)" fill="none" stroke-linejoin="round">
<polyline points="3721,362.4 3721.3,365.1 3721.7,369.3 3722,352.6 3722.4,383.7 3722.7,348.6 3723,373.4 3723.4,352.2 3723.7,368.3 3724,381 3724.4,367.6 3724.7,365.6 3725.1,363.9 3725.4,359.3 3725.7,378.3 3726.1,365.3 3726.4,363.3 3726.7,373.2 3727.1,379.7 3727.4,380.2 3727.8,364.4 3728.1,364.2 3728.4,379.7 3728.8,384.6 3729.1,360.8 3729.4,387 3729.8,371.3 3730.1,380.7 3730.5,398.9 3730.8,429.4 3731.1,421 3731.5,367.2 3731.8,352.7 3732.1,375.3 3732.5,365.9 3732.8,397.9 3733.1,474.9 3733.5,431.2 3733.8,364 3734.2,376.9 3734.5,373.7 3734.8,376 3735.2,374.5 3735.5,378.7 3735.8,366 3736.2,361.1 3736.5,376.1 3736.9,385.3 3737.2,371.7 3737.5,385.9 3737.9,377.8 3738.2,360 3738.5,349.5 3738.9,367.6 3739.2,381 3739.6,363.3 3739.9,391.7 3740.2,376.8 3740.6,355.5 3740.9,362.7 3741.2,382.8 3741.6,385.4 3741.9,361.1 3742.3,369.6 3742.6,374.7 3742.9,364.9 3743.3,374.3 3743.6,387.2 3743.9,360.8 3744.3,374.8 3744.6,378.1 3745,381.3 3745.3,366 3745.6,376.2 3746,362.4 3746.3,371 3746.6,358 3747,372.2 3747.3,374.8 3747.7,387.6 3748,379.2 3748.3,361.8 3748.7,339.4 3749,380.9 3749.3,378.9 3749.7,365.8 3750,364.6 3750.4,375.8 3750.7,368.7 3751,384.9 3751.4,372.5 3751.7,361.2 3752,354.4 3752.4,371.7 3752.7,372.7 3753.1,366.2 3753.4,360.2 3753.7,366.2 3754.1,378.1 3754.4,367.9 3754.7,362.4 3755.1,378.5 3755.4,384.5 3755.8,367.6 3756.1,369.3 3756.4,364 3756.8,372.5 3757.1,379.6 3757.4,378 3757.8,383.8 3758.1,383.4 3758.5,380.2 3758.8,379.9 3759.1,365.9 3759.5,387.3 3759.8,377.1 3760.1,382.3 3760.5,364.2 3760.8,375.4 3761.2,381.4 3761.5,371.3 3761.8,378.1 3762.2,383.2 3762.5,365.9 3762.8,373.3 3763.2,364.7 3763.5,369.9 3763.9,373.4 3764.2,379.1 3764.5,389.7 3764.9,374.4 3765.2,379.9 3765.5,374.8 3765.9,380.7 3766.2,386.6 3766.6,389.3 3766.9,374.6 3767.2,369.5 3767.6,383.1 3767.9,376.7 3768.2,368.6 3768.6,387.7 3768.9,383.4 3769.3,390 3769.6,370.2 3769.9,378.1 3770.3,384.3 3770.6,394.6 3770.9,381.9 3771.3,371.7 3771.6,382.9 3772,384.1 3772.3,375 3772.6,391.2 3773,380.3 3773.3,375.7 3773.6,387.7 3774,388.2 3774.3,379.2 3774.7,382.4 3775,383.8 3775.3,380.3 3775.7,380.4 3776,390.3 3776.3,388.4 3776.7,379.3 3777,374 3777.4,372.4 3777.7,391 3778,375.2 3778.4,378.3 3778.7,385.1 3779,381.2 3779.4,378.7 3779.7,371.2 3780.1,394.6 3780.4,381.4 3780.7,387.6 3781.1,388.4 3781.4,377.7 3781.7,380.5 3782.1,395.4 3782.4,389.7 3782.8,385.7 3783.1,398.9 3783.4,380.8 3783.8,388.4 3784.1,386.5 3784.4,385.2 3784.8,373.5 3785.1,387.5 3785.5,390.6 3785.8,373.9 3786.1,391.6 3786.5,391.7 3786.8,398.5 3787.1,378.6 3787.5,384.9 3787.8,383.1 3788.2,385.3 3788.5,387.5 3788.8,392.4 3789.2,392 3789.5,381.7 3789.8,383.7 3790.2,370.7 3790.5,389.8 3790.9,386.7 3791.2,390.2 3791.5,368.5 3791.9,389.6 3792.2,370.2 3792.5,361.7 3792.9,373.3 3793.2,361.6 3793.6,385.5 3793.9,363.5 3794.2,371.8 3794.6,345.9 3794.9,341.9 3795.2,346.8 3795.6,323.7 3795.9,332 3796.2,346.6 3796.6,352 3796.9,368.7 3797.3,361.1 3797.6,344.1 3797.9,376.7 3798.3,370.3 3798.6,382.4 3798.9,373.6 3799.3,379.2 3799.6,386.8 3800,400.8 3800.3,392 3800.6,379.7 3801,391.9 3801.3,386.1 3801.6,395.3 3802,406.3 3802.3,389.6 3802.7,390.9 3803,398 3803.3,396.8 3803.7,392.2 3804,398.9 3804.3,392.3 3804.7,396.5 3805,412.5 3805.4,396.5 3805.7,399.9 3806,401.8 3806.4,392.9 3806.7,399.5 3807,392.2 3807.4,388.3 3807.7,395.3 3808.1,407.6 3808.4,401.8 3808.7,390.1 3809.1,398.6 3809.4,402.6 3809.7,397.6 3810.1,393.5 3810.4,395.4 3810.8,392.8 3811.1,403.4 3811.4,399.6 3811.8,399.6 3812.1,398.1 3812.4,412.9 3812.8,400 3813.1,407.9 3813.5,389 3813.8,388 3814.1,387.4 3814.5,393.7 3814.8,402.9 3815.1,393.2 3815.5,401.4 3815.8,396.1 3816.2,406.7 3816.5,404.8 3816.8,397.9 3817.2,389.3 3817.5,401.8 3817.8,386.7 3818.2,383.6 3818.5,411 3818.9,402.9 3819.2,409.3 3819.5,404.2 3819.9,407 3820.2,404.2 3820.5,397.7 3820.9,398.2 3821.2,402.9 3821.6,404.8 3821.9,404.3 3822.2,404.5 3822.6,401.9 3822.9,405.8 3823.2,402.8 3823.6,414.6 3823.9,401.4 3824.3,395.6 3824.6,405.7 3824.9,416 3825.3,398.7 3825.6,409.5 3825.9,426.3 3826.3,409.1 3826.6,404.1 3827,405.6 3827.3,400.5 3827.6,404.5 3828,407.7 3828.3,420.8 3828.6,415.5 3829,407.7 3829.3,404.7 3829.7,415.3 3830,412.9 3830.3,406.3 3830.7,421 3831,421.3 3831.3,410.9 3831.7,408.1 3832,412.6 3832.4,423.7 3832.7,409.8 3833,418.1 3833.4,406.2 3833.7,410.8 3834,408.7 3834.4,406.6 3834.7,413.7 3835.1,405.7 3835.4,403.4 3835.7,408.6 3836.1,403.2 3836.4,415 3836.7,405.9 3837.1,409.9 3837.4,417.5 3837.8,412.3 3838.1,415.1 3838.4,415.4 3838.8,411.8 3839.1,406.3 3839.4,414.5 3839.8,412.1 3840.1,421.6 3840.5,412.6 3840.8,406.7 3841.1,408.9 3841.5,411 3841.8,417 3842.1,419.7 3842.5,414.8 3842.8,422.1 3843.2,421.7 3843.5,409.5 3843.8,420.2 3844.2,405.1 3844.5,423.4 3844.8,413.1 3845.2,422.2 3845.5,414.9 3845.9,421.8 3846.2,415.9 3846.5,417.2 3846.9,419 3847.2,413.8 3847.5,408.5 3847.9,420.2 3848.2,412.2 3848.6,416.8 3848.9,417.5 3849.2,405.6 3849.6,429.4 3849.9,421.5 3850.2,427.7 3850.6,419.8 3850.9,419.5 3851.3,398 3851.6,416.7 3851.9,409.1 3852.3,411.9 3852.6,421.3 3852.9,414 3853.3,401.2 3853.6,417.7 3854,417.4 3854.3,414.4 3854.6,436.2 3855,428.9 3855.3,416.8 3855.6,414.7 3856,430.5 3856.3,424.3 3856.7,422.4 3857,422.9 3857.3,414.1 3857.7,420.5 3858,420.1 3858.3,436.7 3858.7,433.1 3859,419 3859.3,439 3859.7,419.9 3860,429.7 3860.4,431.4 3860.7,416.6 3861,430.3 3861.4,432.3 3861.7,430.6 3862,423.3 3862.4,396.4 3862.7,445.5 3863.1,424.6 3863.4,426.9 3863.7,415.2 3864.1,428.5 3864.4,449.5 3864.7,412 3865.1,436 3865.4,426 3865.8,439 3866.1,436.4 3866.4,430.6 3866.8,417.5 3867.1,417.8 3867.4,432 3867.8,421.4 3868.1,430 3868.5,425.4 3868.8,425.2 3869.1,420.8 3869.5,432.8 3869.8,428.3 3870.1,425 3870.5,426.4 3870.8,435 3871.2,466.7 3871.5,432 3871.8,420.6 3872.2,425.9 3872.5,416.5 3872.8,448.7 3873.2,409 3873.5,430.4 3873.9,440 3874.2,427.4 3874.5,407.8 3874.9,424.2 3875.2,440.4 3875.5,433.4 3875.9,417 3876.2,442.3 3876.6,461.1 3876.9,432.4 3877.2,410.2 3877.6,432.7 3877.9,418.3 3878.2,466.5 3878.6,437.7 3878.9,421.7 3879.3,425.3 3879.6,446.4 3879.9,425.5 3880.3,425.6 3880.6,436.9 3880.9,462.6 3881.3,429.5 3881.6,436.2 3882,437.3 3882.3,438.2 3882.6,434.9 3883,444.2 3883.3,433.2 3883.6,445.9 3884,432.6 3884.3,434.2 3884.7,442.4 3885,426.6 3885.3,417.8 3885.7,423.1 3886,445.8 3886.3,424 3886.7,433 3887,435.4 3887.4,440 3887.7,435.4 3888,424.3 3888.4,431.3 3888.7,439.3 3889,441.5 3889.4,439.6 3889.7,431.8 3890.1,421.9 3890.4,445.2 3890.7,437.1 3891.1,440.3 3891.4,443.3 3891.7,434.5 3892.1,433.5 3892.4,448.9 3892.8,446.1 3893.1,429.2 3893.4,436.1 3893.8,434.8 3894.1,442.6 3894.4,441.9 3894.8,435.8 3895.1,443.1 3895.5,447.8 3895.8,439.7 3896.1,433.2 3896.5,447.6 3896.8,432.5 3897.1,435.3 3897.5,446.8 3897.8,440.6 3898.2,441.1 3898.5,436.5 3898.8,436.4 3899.2,450.5 3899.5,451 3899.8,434.3 3900.2,441 3900.5,439 3900.9,439.7 3901.2,431.6 3901.5,450.7 3901.9,435 3902.2,448.3 3902.5,437.8 3902.9,433.8 3903.2,452.5 3903.6,440.5 3903.9,445.3 3904.2,445.5 3904.6,443.4 3904.9,450.8 3905.2,450.4 3905.6,439.8 3905.9,438.7 3906.3,448.1 3906.6,454 3906.9,429.7 3907.3,437.7 3907.6,442.7 3907.9,451.7 3908.3,449 3908.6,443.9 3909,451.6 3909.3,435.6 3909.6,445 3910,443.5 3910.3,452.5 3910.6,451.9 3911,451.3 3911.3,444.8 3911.7,448.3 3912,448.6 3912.3,445 3912.7,445.7 3913,438.2 3913.3,448.5 3913.7,453.7 3914,454 3914.4,474.2 3914.7,469.5 3915,450.1 3915.4,450.2 3915.7,445.8 3916,446.8 3916.4,453.2 3916.7,449.9 3917.1,443.3 3917.4,442.5 3917.7,443.7 3918.1,444.1 3918.4,451.1 3918.7,451.3 3919.1,444.2 3919.4,456.1 3919.8,449.9 3920.1,460.1 3920.4,452 3920.8,453.9 3921.1,456.7 3921.4,447 3921.8,454.3 3922.1,474.7 3922.4,451.9 3922.8,454.7 3923.1,448.9 3923.5,473.9 3923.8,467.4 3924.1,459.6 3924.5,453.6 3924.8,452.8 3925.1,452.8 3925.5,454.4 3925.8,450.6 3926.2,443.2 3926.5,452.2 3926.8,452.4 3927.2,453.7 3927.5,438.5 3927.8,443.4 3928.2,449 3928.5,448.3 3928.9,455.7 3929.2,452.9 3929.5,451.1 3929.9,451.6 3930.2,456.7 3930.5,456.4 3930.9,450.7 3931.2,463.4 3931.6,481.8 3931.9,474.9 3932.2,452.8 3932.6,476.6 3932.9,470.9 3933.2,462 3933.6,448.7 3933.9,458.5 3934.3,459.2 3934.6,454.6 3934.9,441.2 3935.3,456.1 3935.6,459.4 3935.9,450.9 3936.3,452.1 3936.6,445.1 3937,459.6 3937.3,461.2 3937.6,455 3938,451.6 3938.3,451.7 3938.6,462.4 3939,460.9 3939.3,457.7 3939.7,454.3 3940,449.6" stroke="#111" stroke-width="0.6"/>
<polyline points="3721,376.4 3729.4,382.8 3737.9,388.6 3746.3,394.1 3754.7,399.1 3763.2,403.8 3771.6,408.1 3780.1,412.1 3788.5,415.8 3796.9,419.3 3805.4,422.6 3813.8,425.6 3822.2,428.4 3830.7,431.1 3839.1,433.5 3847.5,435.9 3856,438 3864.4,440.1 3872.8,442 3881.3,443.8 3889.7,445.5 3898.2,447.1 3906.6,448.6 3915,450 3923.5,451.3 3931.9,452.6 3940,453.7" stroke="#808080" stroke-width="1"/>
<polyline points="3721,365.5 3722,366.4 3723,367.4 3724,368.3 3725.1,369.2 3726.1,370.1 3727.1,370.9 3728.1,371.7 3729.1,372.4 3730.1,372.9 3731.1,373.3 3732.1,373.6 3733.1,373.6 3734.2,373.5 3735.2,373.2 3736.2,372.7 3737.2,372.1 3738.2,371.5 3739.2,370.8 3740.2,370.1 3741.2,369.5 3742.3,369 3743.3,368.6 3744.3,368.4 3745.3,368.3 3746.3,368.3 3747.3,368.4 3748.3,368.6 3749.3,368.8 3750.4,369.2 3751.4,369.6 3752.4,370 3753.4,370.5 3754.4,371.2 3755.4,372 3756.4,372.9 3757.4,374 3758.5,375.1 3759.5,376.3 3760.5,377.4 3761.5,378.4 3762.5,379.3 3763.5,380 3764.5,380.5 3765.5,380.7 3766.6,380.8 3767.6,380.8 3768.6,380.7 3769.6,380.6 3770.6,380.6 3771.6,380.7 3772.6,380.9 3773.6,381.4 3774.7,382 3775.7,382.8 3776.7,383.7 3777.7,384.7 3778.7,385.7 3779.7,386.7 3780.7,387.6 3781.7,388.3 3782.8,389 3783.8,389.5 3784.8,389.9 3785.8,390.3 3786.8,390.5 3787.8,390.8 3788.8,391.1 3789.8,391.5 3790.9,392 3791.9,392.5 3792.9,393.2 3793.9,393.9 3794.9,394.6 3795.9,395.3 3796.9,395.9 3797.9,396.5 3798.9,396.9 3800,397.3 3801,397.5 3802,397.7 3803,397.7 3804,397.8 3805,397.8 3806,397.8 3807,397.8 3808.1,397.8 3809.1,398 3810.1,398.1 3811.1,398.4 3812.1,398.8 3813.1,399.2 3814.1,399.7 3815.1,400.4 3816.2,401 3817.2,401.8 3818.2,402.5 3819.2,403.3 3820.2,404.1 3821.2,404.9 3822.2,405.6 3823.2,406.3 3824.3,406.9 3825.3,407.5 3826.3,408 3827.3,408.4 3828.3,408.7 3829.3,409.1 3830.3,409.4 3831.3,409.7 3832.4,410 3833.4,410.3 3834.4,410.6 3835.4,411 3836.4,411.4 3837.4,411.8 3838.4,412.3 3839.4,412.8 3840.5,413.3 3841.5,413.9 3842.5,414.4 3843.5,414.9 3844.5,415.4 3845.5,415.9 3846.5,416.4 3847.5,416.9 3848.6,417.3 3849.6,417.7 3850.6,418.2 3851.6,418.6 3852.6,419.1 3853.6,419.5 3854.6,420 3855.6,420.5 3856.7,421.1 3857.7,421.6 3858.7,422.1 3859.7,422.7 3860.7,423.2 3861.7,423.7 3862.7,424.2 3863.7,424.6 3864.7,425 3865.8,425.4 3866.8,425.8 3867.8,426.2 3868.8,426.5 3869.8,426.9 3870.8,427.2 3871.8,427.6 3872.8,428 3873.9,428.3 3874.9,428.7 3875.9,429.1 3876.9,429.6 3877.9,430 3878.9,430.5 3879.9,431 3880.9,431.5 3882,432 3883,432.5 3884,433.1 3885,433.6 3886,434.2 3887,434.8 3888,435.4 3889,435.9 3890.1,436.5 3891.1,437.1 3892.1,437.6 3893.1,438.2 3894.1,438.7 3895.1,439.2 3896.1,439.7 3897.1,440.2 3898.2,440.7 3899.2,441.1 3900.2,441.6 3901.2,442.1 3902.2,442.5 3903.2,443 3904.2,443.4 3905.2,443.8 3906.3,444.3 3907.3,444.7 3908.3,445.1 3909.3,445.6 3910.3,446 3911.3,446.4 3912.3,446.8 3913.3,447.2 3914.4,447.6 3915.4,448 3916.4,448.4 3917.4,448.7 3918.4,449.1 3919.4,449.4 3920.4,449.7 3921.4,450.1 3922.4,450.4 3923.5,450.7 3924.5,451 3925.5,451.2 3926.5,451.5 3927.5,451.7 3928.5,451.9 3929.5,452.1 3930.5,452.3 3931.6,452.5 3932.6,452.7 3933.6,452.8 3934.6,453 3935.6,453.1 3936.6,453.2 3937.6,453.4 3938.6,453.5 3939.7,453.7 3940,453.7" stroke="#1818c0" stroke-width="0.8"/>
<polyline points="3721,373.2 3724.4,375.9 3727.8,378.2 3731.1,380.3 3734.5,382.3 3737.9,384 3741.2,385.6 3744.6,387.1 3748,388.4 3751.4,389.7 3754.7,390.8 3758.1,392 3761.5,393.1 3764.9,394.1 3768.2,395.2 3771.6,396.2 3775,397.3 3778.4,398.3 3781.7,399.4 3785.1,400.5 3788.5,401.7 3791.9,402.9 3795.2,404.2 3798.6,405.5 3802,406.9 3805.4,408.3 3808.7,409.8 3812.1,411.3 3815.5,412.8 3818.9,414.2 3822.2,415.6 3825.6,416.9 3829,418.2 3832.4,419.5 3835.7,420.7 3839.1,421.9 3842.5,423.1 3845.9,424.2 3849.2,425.3 3852.6,426.4 3856,427.5 3859.3,428.5 3862.7,429.5 3866.1,430.5 3869.5,431.4 3872.8,432.4 3876.2,433.3 3879.6,434.2 3883,435 3886.3,436.1 3889.7,437.3 3893.1,438.6 3896.5,440 3899.8,441.5 3903.2,443 3906.6,444.4 3910,445.9 3913.3,447.2 3916.7,448.5 3920.1,449.6 3923.5,450.7 3926.8,451.6 3930.2,452.3 3933.6,452.8 3937,453.3 3940,453.7" stroke="#108010" stroke-width="1.5"/>
<polyline points="3721,364.8 3721.7,365.4 3722.4,366.1 3723,366.7 3723.7,367.3 3724.4,368 3725.1,368.6 3725.7,369.2 3726.4,369.8 3727.1,370.4 3727.8,370.9 3728.4,371.4 3729.1,371.8 3729.8,372.2 3730.5,372.6 3731.1,372.8 3731.8,373 3732.5,373.1 3733.1,373.1 3733.8,373.1 3734.5,372.9 3735.2,372.7 3735.8,372.4 3736.5,372.1 3737.2,371.7 3737.9,371.3 3738.5,370.8 3739.2,370.4 3739.9,369.9 3740.6,369.5 3741.2,369.1 3741.9,368.7 3742.6,368.5 3743.3,368.2 3743.9,368 3744.6,367.9 3745.3,367.9 3746,367.9 3746.6,367.9 3747.3,368 3748,368.1 3748.7,368.3 3749.3,368.4 3750,368.6 3750.7,368.9 3751.4,369.1 3752,369.4 3752.7,369.8 3753.4,370.1 3754.1,370.5 3754.7,371 3755.4,371.6 3756.1,372.2 3756.8,372.8 3757.4,373.5 3758.1,374.3 3758.8,375.1 3759.5,375.8 3760.1,376.6 3760.8,377.3 3761.5,378 3762.2,378.6 3762.8,379.1 3763.5,379.5 3764.2,379.8 3764.9,380.1 3765.5,380.2 3766.2,380.3 3766.9,380.3 3767.6,380.2 3768.2,380.1 3768.9,380.1 3769.6,380 3770.3,380 3770.9,380 3771.6,380 3772.3,380.1 3773,380.4 3773.6,380.6 3774.3,381 3775,381.4 3775.7,381.9 3776.3,382.5 3777,383.1 3777.7,383.7 3778.4,384.3 3779,384.9 3779.7,385.4 3780.4,386 3781.1,386.4 3781.7,386.8 3782.4,387.1 3783.1,387.4 3783.8,387.5 3784.4,387.6 3785.1,387.6 3785.8,387.5 3786.5,387.3 3787.1,387 3787.8,386.6 3788.5,386.1 3789.2,385.5 3789.8,384.5 3790.5,383.2 3791.2,381.3 3791.9,378.6 3792.5,374.5 3793.2,368.3 3793.9,359.2 3794.6,347.5 3795.2,337.1 3795.9,336.1 3796.6,345.8 3797.3,358.9 3797.9,369.7 3798.6,377.4 3799.3,382.7 3800,386.3 3800.6,388.9 3801.3,390.7 3802,392.1 3802.7,393.1 3803.3,393.8 3804,394.4 3804.7,394.9 3805.4,395.2 3806,395.5 3806.7,395.8 3807.4,396 3808.1,396.3 3808.7,396.5 3809.4,396.7 3810.1,396.9 3810.8,397.2 3811.4,397.5 3812.1,397.8 3812.8,398.2 3813.5,398.6 3814.1,399 3814.8,399.4 3815.5,399.9 3816.2,400.4 3816.8,400.9 3817.5,401.5 3818.2,402 3818.9,402.6 3819.5,403.1 3820.2,403.7 3820.9,404.2 3821.6,404.7 3822.2,405.2 3822.9,405.7 3823.6,406.1 3824.3,406.6 3824.9,407 3825.6,407.3 3826.3,407.6 3827,407.9 3827.6,408.2 3828.3,408.5 3829,408.7 3829.7,408.9 3830.3,409.1 3831,409.3 3831.7,409.5 3832.4,409.7 3833,409.9 3833.7,410.1 3834.4,410.4 3835.1,410.6 3835.7,410.9 3836.4,411.2 3837.1,411.5 3837.8,411.8 3838.4,412.1 3839.1,412.5 3839.8,412.8 3840.5,413.2 3841.1,413.5 3841.8,413.9 3842.5,414.2 3843.2,414.6 3843.8,414.9 3844.5,415.3 3845.2,415.6 3845.9,415.9 3846.5,416.3 3847.2,416.6 3847.9,416.9 3848.6,417.2 3849.2,417.4 3849.9,417.7 3850.6,418 3851.3,418.3 3851.9,418.6 3852.6,418.9 3853.3,419.2 3854,419.6 3854.6,419.9 3855.3,420.2 3856,420.6 3856.7,420.9 3857.3,421.3 3858,421.7 3858.7,422 3859.3,422.4 3860,422.7 3860.7,423.1 3861.4,423.4 3862,423.7 3862.7,424.1 3863.4,424.4 3864.1,424.6 3864.7,424.9 3865.4,425.2 3866.1,425.4 3866.8,425.7 3867.4,425.9 3868.1,426.2 3868.8,426.4 3869.5,426.7 3870.1,426.9 3870.8,427.1 3871.5,427.4 3872.2,427.6 3872.8,427.9 3873.5,428.1 3874.2,428.4 3874.9,428.6 3875.5,428.9 3876.2,429.2 3876.9,429.5 3877.6,429.8 3878.2,430.1 3878.9,430.4 3879.6,430.7 3880.3,431.1 3880.9,431.4 3881.6,431.7 3882.3,432.1 3883,432.4 3883.6,432.8 3884.3,433.2 3885,433.5 3885.7,433.9 3886.3,434.3 3887,434.7 3887.7,435.1 3888.4,435.5 3889,435.9 3889.7,436.2 3890.4,436.6 3891.1,437 3891.7,437.4 3892.4,437.7 3893.1,438.1 3893.8,438.4 3894.4,438.8 3895.1,439.1 3895.8,439.5 3896.5,439.8 3897.1,440.1 3897.8,440.4 3898.5,440.7 3899.2,441 3899.8,441.4 3900.5,441.7 3901.2,442 3901.9,442.3 3902.5,442.6 3903.2,442.9 3903.9,443.2 3904.6,443.5 3905.2,443.7 3905.9,444 3906.6,444.3 3907.3,444.6 3907.9,444.9 3908.6,445.2 3909.3,445.5 3910,445.8 3910.6,446 3911.3,446.3 3912,446.6 3912.7,446.8 3913.3,447.1 3914,447.4 3914.7,447.6 3915.4,447.9 3916,448.1 3916.7,448.4 3917.4,448.6 3918.1,448.9 3918.7,449.1 3919.4,449.3 3920.1,449.5 3920.8,449.8 3921.4,450 3922.1,450.2 3922.8,450.4 3923.5,450.6 3924.1,450.8 3924.8,450.9 3925.5,451.1 3926.2,451.3 3926.8,451.4 3927.5,451.6 3928.2,451.8 3928.9,451.9 3929.5,452 3930.2,452.2 3930.9,452.3 3931.6,452.4 3932.2,452.5 3932.9,452.6 3933.6,452.7 3934.3,452.8 3934.9,452.9 3935.6,453 3936.3,453.1 3937,453.2 3937.6,453.3 3938.3,453.3 3939,453.4 3939.7,453.5 3940,453.6" stroke="#cc1a1a" stroke-width="0.8"/>
<polyline points="3721,478.4 3722,478.6 3723,478.7 3724,478.9 3725.1,479.1 3726.1,479.3 3727.1,479.4 3728.1,479.6 3729.1,479.6 3730.1,479.5 3731.1,479.2 3732.1,478.8 3733.1,478.2 3734.2,477.4 3735.2,476.4 3736.2,475.3 3737.2,474 3738.2,472.7 3739.2,471.4 3740.2,470 3741.2,468.8 3742.3,467.7 3743.3,466.8 3744.3,466 3745.3,465.4 3746.3,464.9 3747.3,464.6 3748.3,464.4 3749.3,464.2 3750.4,464.2 3751.4,464.2 3752.4,464.3 3753.4,464.5 3754.4,464.8 3755.4,465.3 3756.4,466 3757.4,466.8 3758.5,467.8 3759.5,468.7 3760.5,469.7 3761.5,470.5 3762.5,471.1 3763.5,471.5 3764.5,471.7 3765.5,471.6 3766.6,471.4 3767.6,471 3768.6,470.5 3769.6,470.1 3770.6,469.7 3771.6,469.4 3772.6,469.4 3773.6,469.5 3774.7,469.9 3775.7,470.4 3776.7,471.1 3777.7,471.9 3778.7,472.6 3779.7,473.4 3780.7,474.1 3781.7,474.6 3782.8,474.9 3783.8,475.2 3784.8,475.2 3785.8,475.2 3786.8,475.1 3787.8,475 3788.8,475 3789.8,475 3790.9,475.2 3791.9,475.4 3792.9,475.7 3793.9,476.1 3794.9,476.4 3795.9,476.8 3796.9,477.1 3797.9,477.2 3798.9,477.3 3800,477.2 3801,477 3802,476.7 3803,476.3 3804,475.8 3805,475.3 3806,474.8 3807,474.3 3808.1,473.8 3809.1,473.4 3810.1,473.1 3811.1,472.9 3812.1,472.8 3813.1,472.8 3814.1,473 3815.1,473.2 3816.2,473.5 3817.2,473.8 3818.2,474.2 3819.2,474.6 3820.2,475.1 3821.2,475.5 3822.2,475.9 3823.2,476.2 3824.3,476.4 3825.3,476.6 3826.3,476.7 3827.3,476.7 3828.3,476.7 3829.3,476.7 3830.3,476.6 3831.3,476.4 3832.4,476.3 3833.4,476.3 3834.4,476.2 3835.4,476.2 3836.4,476.3 3837.4,476.4 3838.4,476.5 3839.4,476.7 3840.5,476.9 3841.5,477.1 3842.5,477.3 3843.5,477.5 3844.5,477.7 3845.5,477.9 3846.5,478.1 3847.5,478.2 3848.6,478.3 3849.6,478.4 3850.6,478.6 3851.6,478.7 3852.6,478.8 3853.6,479 3854.6,479.2 3855.6,479.5 3856.7,479.7 3857.7,480 3858.7,480.2 3859.7,480.5 3860.7,480.7 3861.7,481 3862.7,481.2 3863.7,481.3 3864.7,481.5 3865.8,481.6 3866.8,481.7 3867.8,481.8 3868.8,481.9 3869.8,482 3870.8,482 3871.8,482.1 3872.8,482.2 3873.9,482.3 3874.9,482.5 3875.9,482.7 3876.9,482.8 3877.9,483.1 3878.9,483.3 3879.9,483.6 3880.9,483.8 3882,484.1 3883,484.4 3884,484.7 3885,485 3886,485.3 3887,485.5 3888,485.8 3889,486 3890.1,486.2 3891.1,486.4 3892.1,486.6 3893.1,486.8 3894.1,486.9 3895.1,487 3896.1,487.1 3897.1,487.2 3898.2,487.2 3899.2,487.2 3900.2,487.2 3901.2,487.3 3902.2,487.3 3903.2,487.3 3904.2,487.3 3905.2,487.3 3906.3,487.3 3907.3,487.3 3908.3,487.3 3909.3,487.3 3910.3,487.3 3911.3,487.3 3912.3,487.3 3913.3,487.3 3914.4,487.3 3915.4,487.3 3916.4,487.3 3917.4,487.3 3918.4,487.3 3919.4,487.3 3920.4,487.3 3921.4,487.3 3922.4,487.3 3923.5,487.3 3924.5,487.3 3925.5,487.3 3926.5,487.3 3927.5,487.3 3928.5,487.3 3929.5,487.3 3930.5,487.3 3931.6,487.3 3932.6,487.3 3933.6,487.3 3934.6,487.3 3935.6,487.3 3936.6,487.3 3937.6,487.3 3938.6,487.3 3939.7,487.3" stroke="#1818c0" stroke-width="0.8"/>
<polyline points="3721,486.6 3721.7,486.6 3722.4,486.6 3723,486.6 3723.7,486.7 3724.4,486.7 3725.1,486.7 3725.7,486.7 3726.4,486.7 3727.1,486.7 3727.8,486.7 3728.4,486.8 3729.1,486.8 3729.8,486.8 3730.5,486.8 3731.1,486.8 3731.8,486.8 3732.5,486.8 3733.1,486.8 3733.8,486.8 3734.5,486.8 3735.2,486.8 3735.8,486.8 3736.5,486.8 3737.2,486.9 3737.9,486.9 3738.5,486.9 3739.2,486.9 3739.9,486.9 3740.6,486.9 3741.2,486.9 3741.9,486.9 3742.6,486.9 3743.3,486.9 3743.9,486.9 3744.6,486.9 3745.3,486.9 3746,486.9 3746.6,486.9 3747.3,486.9 3748,486.9 3748.7,486.9 3749.3,486.9 3750,486.9 3750.7,486.9 3751.4,486.9 3752,486.9 3752.7,486.9 3753.4,486.9 3754.1,486.9 3754.7,486.9 3755.4,486.9 3756.1,486.9 3756.8,486.9 3757.4,486.9 3758.1,486.9 3758.8,486.9 3759.5,486.9 3760.1,486.9 3760.8,486.8 3761.5,486.8 3762.2,486.8 3762.8,486.8 3763.5,486.8 3764.2,486.8 3764.9,486.8 3765.5,486.8 3766.2,486.8 3766.9,486.8 3767.6,486.7 3768.2,486.7 3768.9,486.7 3769.6,486.7 3770.3,486.7 3770.9,486.7 3771.6,486.6 3772.3,486.6 3773,486.6 3773.6,486.6 3774.3,486.5 3775,486.5 3775.7,486.4 3776.3,486.4 3777,486.3 3777.7,486.3 3778.4,486.2 3779,486.2 3779.7,486.1 3780.4,486 3781.1,485.9 3781.7,485.8 3782.4,485.6 3783.1,485.5 3783.8,485.3 3784.4,485.1 3785.1,484.8 3785.8,484.5 3786.5,484.2 3787.1,483.7 3787.8,483.1 3788.5,482.4 3789.2,481.5 3789.8,480.3 3790.5,478.7 3791.2,476.5 3791.9,473.3 3792.5,468.8 3793.2,462.2 3793.9,452.6 3794.6,440.4 3795.2,429.6 3795.9,428.1 3796.6,437.4 3797.3,450.1 3797.9,460.5 3798.6,467.9 3799.3,472.9 3800,476.3 3800.6,478.7 3801.3,480.4 3802,481.7 3802.7,482.6 3803.3,483.4 3804,483.9 3804.7,484.4 3805.4,484.8 3806,485.1 3806.7,485.3 3807.4,485.5 3808.1,485.7 3808.7,485.9 3809.4,486 3810.1,486.1 3810.8,486.2 3811.4,486.3 3812.1,486.4 3812.8,486.4 3813.5,486.5 3814.1,486.6 3814.8,486.6 3815.5,486.6 3816.2,486.7 3816.8,486.7 3817.5,486.7 3818.2,486.8 3818.9,486.8 3819.5,486.8 3820.2,486.9 3820.9,486.9 3821.6,486.9 3822.2,486.9 3822.9,486.9 3823.6,486.9 3824.3,487 3824.9,487 3825.6,487 3826.3,487 3827,487 3827.6,487 3828.3,487 3829,487 3829.7,487 3830.3,487 3831,487.1 3831.7,487.1 3832.4,487.1 3833,487.1 3833.7,487.1 3834.4,487.1 3835.1,487.1 3835.7,487.1 3836.4,487.1 3837.1,487.1 3837.8,487.1 3838.4,487.1 3839.1,487.1 3839.8,487.1 3840.5,487.1 3841.1,487.1 3841.8,487.1 3842.5,487.1 3843.2,487.1 3843.8,487.1 3844.5,487.1 3845.2,487.1 3845.9,487.1 3846.5,487.1 3847.2,487.2 3847.9,487.2 3848.6,487.2 3849.2,487.2 3849.9,487.2 3850.6,487.2 3851.3,487.2 3851.9,487.2 3852.6,487.2 3853.3,487.2 3854,487.2 3854.6,487.2 3855.3,487.2 3856,487.2 3856.7,487.2 3857.3,487.2 3858,487.2 3858.7,487.2 3859.3,487.2 3860,487.2 3860.7,487.2 3861.4,487.2 3862,487.2 3862.7,487.2 3863.4,487.2 3864.1,487.2 3864.7,487.2 3865.4,487.2 3866.1,487.2 3866.8,487.2 3867.4,487.2 3868.1,487.2 3868.8,487.2 3869.5,487.2 3870.1,487.2 3870.8,487.2 3871.5,487.2 3872.2,487.2 3872.8,487.2 3873.5,487.2 3874.2,487.2 3874.9,487.2 3875.5,487.2 3876.2,487.2 3876.9,487.2 3877.6,487.2 3878.2,487.2 3878.9,487.2 3879.6,487.2 3880.3,487.2 3880.9,487.2 3881.6,487.2 3882.3,487.2 3883,487.2 3883.6,487.2 3884.3,487.2 3885,487.2 3885.7,487.2 3886.3,487.2 3887,487.2 3887.7,487.2 3888.4,487.2 3889,487.2 3889.7,487.2 3890.4,487.2 3891.1,487.2 3891.7,487.2 3892.4,487.2 3893.1,487.2 3893.8,487.2 3894.4,487.2 3895.1,487.2 3895.8,487.2 3896.5,487.2 3897.1,487.2 3897.8,487.2 3898.5,487.2 3899.2,487.2 3899.8,487.2 3900.5,487.2 3901.2,487.2 3901.9,487.2 3902.5,487.2 3903.2,487.2 3903.9,487.2 3904.6,487.2 3905.2,487.2 3905.9,487.2 3906.6,487.2 3907.3,487.2 3907.9,487.2 3908.6,487.2 3909.3,487.2 3910,487.2 3910.6,487.2 3911.3,487.2 3912,487.2 3912.7,487.2 3913.3,487.2 3914,487.2 3914.7,487.2 3915.4,487.2 3916,487.2 3916.7,487.2 3917.4,487.2 3918.1,487.2 3918.7,487.2 3919.4,487.2 3920.1,487.2 3920.8,487.2 3921.4,487.2 3922.1,487.2 3922.8,487.2 3923.5,487.2 3924.1,487.2 3924.8,487.2 3925.5,487.2 3926.2,487.2 3926.8,487.2 3927.5,487.2 3928.2,487.2 3928.9,487.2 3929.5,487.2 3930.2,487.2 3930.9,487.2 3931.6,487.2 3932.2,487.2 3932.9,487.2 3933.6,487.2 3934.3,487.2 3934.9,487.2 3935.6,487.2 3936.3,487.2 3937,487.2 3937.6,487.2 3938.3,487.2 3939,487.2 3939.7,487.2" stroke="#cc1a1a" stroke-width="0.8"/>
</g>
<rect x="3721.0" y="329.3" width="218.3" height="158.0" fill="none" stroke="#5e5e5e" stroke-width="1.25"/>
<text x="3761.7" y="497.6" font-size="8.6" text-anchor="middle" fill="#222">2500</text>
<text x="3818.7" y="497.6" font-size="8.6" text-anchor="middle" fill="#222">3000</text>
<text x="3875.7" y="497.6" font-size="8.6" text-anchor="middle" fill="#222">3500</text>
<text x="3932.7" y="497.6" font-size="8.6" text-anchor="middle" fill="#222">4000</text>
<path d="M3761.7 487.3v-4M3761.7 329.3v4M3818.7 487.3v-4M3818.7 329.3v4M3875.7 487.3v-4M3875.7 329.3v4M3932.7 487.3v-4M3932.7 329.3v4M3721.0 349.1h3M3939.3 349.1h-3M3721.0 368.8h3M3939.3 368.8h-3M3721.0 388.6h3M3939.3 388.6h-3M3721.0 408.3h3M3939.3 408.3h-3M3721.0 428.1h3M3939.3 428.1h-3M3721.0 447.8h3M3939.3 447.8h-3M3721.0 467.6h3M3939.3 467.6h-3" stroke="#5e5e5e" stroke-width="0.8" fill="none"/>
<clipPath id="c3p3"><rect x="3939.3" y="329.3" width="218.0" height="158.0"/></clipPath>
<g clip-path="url(#c3p3)" fill="none" stroke-linejoin="round">
<polyline points="3939.3,449.1 3939.6,450.5 3940,455.1 3940.3,465.7 3940.6,454.1 3941,447 3941.3,450.3 3941.6,459.6 3942,451.3 3942.3,458.4 3942.6,444 3943,450.8 3943.3,456.1 3943.7,448.7 3944,454.7 3944.3,449.8 3944.7,451.9 3945,456.4 3945.3,449.6 3945.7,457.1 3946,447.3 3946.3,452.1 3946.7,456.2 3947,459.1 3947.3,446.7 3947.7,447.3 3948,457.3 3948.4,446.8 3948.7,452.2 3949,453.7 3949.4,453.3 3949.7,475 3950,448 3950.4,452.6 3950.7,459.8 3951,445.8 3951.4,450.2 3951.7,457.2 3952.1,454.6 3952.4,456.6 3952.7,453.3 3953.1,452 3953.4,452.6 3953.7,455.5 3954.1,456.2 3954.4,450.2 3954.7,453.5 3955.1,444.8 3955.4,455.6 3955.7,449.4 3956.1,451.6 3956.4,454 3956.8,444.9 3957.1,448.4 3957.4,451.1 3957.8,472.1 3958.1,439.9 3958.4,450.1 3958.8,439.8 3959.1,444.8 3959.4,450.5 3959.8,445.6 3960.1,445.4 3960.4,450.5 3960.8,452.7 3961.1,447.2 3961.5,448.9 3961.8,457.6 3962.1,455.3 3962.5,455.5 3962.8,456.3 3963.1,460.1 3963.5,452 3963.8,454.8 3964.1,454.8 3964.5,450.4 3964.8,457 3965.2,455.3 3965.5,454.1 3965.8,456.5 3966.2,455.3 3966.5,452.2 3966.8,454.8 3967.2,450.1 3967.5,457.1 3967.8,453.7 3968.2,459.2 3968.5,454.5 3968.8,456.4 3969.2,449 3969.5,451 3969.9,451.7 3970.2,446.7 3970.5,448 3970.9,450.4 3971.2,455.4 3971.5,458 3971.9,452.7 3972.2,453.8 3972.5,454.8 3972.9,453.4 3973.2,458.4 3973.5,446.7 3973.9,456.4 3974.2,454.7 3974.6,450.1 3974.9,458.3 3975.2,448.9 3975.6,449 3975.9,453.7 3976.2,456.7 3976.6,454.6 3976.9,459.8 3977.2,448.2 3977.6,453.3 3977.9,456.4 3978.3,472.3 3978.6,452.2 3978.9,449.3 3979.3,459.2 3979.6,457.1 3979.9,461.4 3980.3,453.4 3980.6,457.1 3980.9,483.9 3981.3,463.5 3981.6,458.3 3981.9,459.4 3982.3,477.9 3982.6,462.7 3983,455.5 3983.3,457.3 3983.6,459.8 3984,461.2 3984.3,455.4 3984.6,453.1 3985,460.2 3985.3,457.4 3985.6,453.9 3986,461 3986.3,460 3986.6,462.9 3987,459.8 3987.3,475 3987.7,460.6 3988,461.5 3988.3,480.5 3988.7,463.2 3989,462.1 3989.3,457.1 3989.7,460.4 3990,461.3 3990.3,456.5 3990.7,456.5 3991,460.3 3991.4,459.6 3991.7,455 3992,455.4 3992.4,458.7 3992.7,454.3 3993,454.2 3993.4,448.8 3993.7,454.7 3994,445.9 3994.4,445.3 3994.7,449.1 3995,435.9 3995.4,432.6 3995.7,441.6 3996.1,419.2 3996.4,437 3996.7,436.2 3997.1,434.8 3997.4,432.1 3997.7,437 3998.1,443.9 3998.4,440.5 3998.7,447.4 3999.1,445.7 3999.4,442.3 3999.7,453.4 4000.1,464.1 4000.4,457.6 4000.8,460.4 4001.1,457.2 4001.4,457.7 4001.8,462.3 4002.1,462.4 4002.4,460 4002.8,460.1 4003.1,467.5 4003.4,457.2 4003.8,460.2 4004.1,460.6 4004.5,460 4004.8,463.9 4005.1,461.4 4005.5,458.5 4005.8,458.4 4006.1,459.5 4006.5,459.8 4006.8,458.9 4007.1,449.9 4007.5,454.3 4007.8,460.5 4008.1,467.7 4008.5,465.1 4008.8,468.2 4009.2,460 4009.5,462.9 4009.8,465.4 4010.2,464.3 4010.5,456.9 4010.8,460.6 4011.2,467.2 4011.5,464.1 4011.8,466.9 4012.2,468.2 4012.5,463.4 4012.8,457.7 4013.2,459.8 4013.5,463.7 4013.9,464.7 4014.2,463.2 4014.5,475.7 4014.9,467.5 4015.2,468.5 4015.5,458.7 4015.9,462.8 4016.2,459.3 4016.5,462.8 4016.9,459.5 4017.2,464.9 4017.6,462 4017.9,459.1 4018.2,460.5 4018.6,472 4018.9,460.7 4019.2,464.8 4019.6,466.8 4019.9,461.5 4020.2,459.1 4020.6,469.4 4020.9,466.2 4021.2,460.4 4021.6,460.9 4021.9,464 4022.3,469.5 4022.6,460 4022.9,460.3 4023.3,461.4 4023.6,467.4 4023.9,473.1 4024.3,460 4024.6,460.6 4024.9,461.4 4025.3,463.5 4025.6,461.8 4025.9,464.4 4026.3,473.8 4026.6,465.4 4027,462.4 4027.3,464.3 4027.6,460.7 4028,461.5 4028.3,465.6 4028.6,458.8 4029,466.7 4029.3,462.7 4029.6,461.2 4030,460.9 4030.3,470 4030.7,462" stroke="#111" stroke-width="0.6"/>
<polyline points="4071.3,469.4 4071.6,470.1 4072,469.1 4072.3,472.1 4072.6,484.9 4073,470.9 4073.3,470.3 4073.6,468 4074,470.7 4074.3,469.5 4074.7,470.2 4075,470.9 4075.3,467.6 4075.7,471.7 4076,467.9 4076.3,471 4076.7,469.3 4077,467 4077.3,471.8 4077.7,470.9 4078,468 4078.3,469.3 4078.7,470.1 4079,469.5 4079.4,470.5 4079.7,469.3 4080,467.9 4080.4,469.9 4080.7,469.3 4081,468.2 4081.4,467.3 4081.7,470.1 4082,469.2 4082.4,470.1 4082.7,470.2 4083,470 4083.4,470.2 4083.7,471.4 4084.1,471.7 4084.4,470.3 4084.7,469.4 4085.1,468.3 4085.4,470.1 4085.7,469.8 4086.1,468.9 4086.4,468.8 4086.7,469.7 4087.1,469.7 4087.4,467.6 4087.8,470 4088.1,470.2 4088.4,471.4 4088.8,469.2 4089.1,469.9 4089.4,467.6 4089.8,470 4090.1,468.8 4090.4,468.7 4090.8,467.9 4091.1,471.1 4091.4,468.1 4091.8,469.7 4092.1,469.9 4092.5,470.1 4092.8,470.2 4093.1,470.1 4093.5,472.3 4093.8,469.3 4094.1,469.7 4094.5,470.8 4094.8,469.9 4095.1,467.4 4095.5,469.4 4095.8,470.3 4096.1,468 4096.5,470.7 4096.8,470 4097.2,470.5 4097.5,470.1 4097.8,469.1 4098.2,469.3 4098.5,470.6 4098.8,470 4099.2,469.8 4099.5,470.3 4099.8,469.9 4100.2,470.6 4100.5,470.6 4100.9,469.8 4101.2,470.9 4101.5,469.8 4101.9,480.2 4102.2,473.9 4102.5,470.4 4102.9,470.2 4103.2,469.8 4103.5,469.5 4103.9,469.8 4104.2,470.5 4104.5,468 4104.9,468.5 4105.2,469.3 4105.6,468.3 4105.9,468.9 4106.2,469.5 4106.6,469.1 4106.9,466.1 4107.2,467.9 4107.6,467.7 4107.9,469.2 4108.2,468 4108.6,465.9 4108.9,467.9 4109.2,467 4109.6,466.6 4109.9,467.1 4110.3,465.8 4110.6,467.1 4110.9,466.6 4111.3,467.7 4111.6,463.3 4111.9,465.8 4112.3,465.7 4112.6,463.6 4112.9,465.6 4113.3,464.4 4113.6,464.9 4114,463.1 4114.3,462.9 4114.6,460.6 4115,460.6 4115.3,460.3 4115.6,458.4 4116,456.5 4116.3,455.4 4116.6,450.1 4117,448 4117.3,446 4117.6,445.9 4118,436.5 4118.3,436.9 4118.7,425.2 4119,417.6 4119.3,411.1 4119.7,401.8 4120,389.4 4120.3,358.1 4120.7,364.4 4121,357.7 4121.3,347.5 4121.7,357.4 4122,363 4122.3,390.8 4122.7,401.6 4123,390.2 4123.4,417.1 4123.7,426.5 4124,431.9 4124.4,435.3 4124.7,446.3 4125,446.3 4125.4,450.4 4125.7,451.6 4126,455 4126.4,458.3 4126.7,460.5 4127.1,464.4 4127.4,460.2 4127.7,465 4128.1,464.3 4128.4,462.3 4128.7,465.8 4129.1,465.2 4129.4,466.8 4129.7,466.2 4130.1,467.5 4130.4,468.5 4130.7,466.8 4131.1,469 4131.4,470.5 4131.8,469.6 4132.1,469 4132.4,471 4132.8,469.2 4133.1,469.5 4133.4,468.3 4133.8,471.3 4134.1,470.1 4134.4,472.6 4134.8,471.5 4135.1,471.1 4135.4,471 4135.8,471.5 4136.1,471.7 4136.5,472.3 4136.8,472.2 4137.1,471.6 4137.5,471.5 4137.8,471.5 4138.1,471.3 4138.5,471.2 4138.8,474 4139.1,472.9 4139.5,472.7 4139.8,473.1 4140.2,471.7 4140.5,472.1 4140.8,472.9 4141.2,472.7 4141.5,471.8 4141.8,473.6 4142.2,482.4 4142.5,475.8 4142.8,472.7 4143.2,472 4143.5,472.9 4143.8,472.6 4144.2,473.8 4144.5,474.1 4144.9,473.4 4145.2,475.6 4145.5,473.1 4145.9,472.7 4146.2,473.5 4146.5,473.8 4146.9,472.8 4147.2,473.7 4147.5,472.9 4147.9,472 4148.2,473.2 4148.5,473.1 4148.9,473.5 4149.2,473.7 4149.6,473.7 4149.9,473.9 4150.2,473.1 4150.6,475.3 4150.9,474.3 4151.2,473.6 4151.6,474.8 4151.9,474.2 4152.2,474.7 4152.6,473.9 4152.9,473.6 4153.3,473.1 4153.6,473.9 4153.9,474.9 4154.3,474.1 4154.6,473.9 4154.9,473.3 4155.3,476 4155.6,474.2 4155.9,475.8 4156.3,474 4156.6,474.2 4156.9,474.2 4157.3,473.9" stroke="#111" stroke-width="0.6"/>
<polyline points="3939.3,450.8 3947.7,452.9 3956.1,454.9 3964.5,456.8 3972.9,458.5 3981.3,460.1 3989.7,461.5 3998.1,462.9 4006.5,464.1 4014.9,465.3 4023.3,466.4 4072,471.3 4080.4,472 4088.8,472.7 4097.2,473.3 4105.6,473.8 4114,474.4 4122.3,474.9 4130.7,475.4 4139.1,475.8 4147.5,476.2 4155.9,476.6 4157.3,476.7" stroke="#808080" stroke-width="1"/>
<polyline points="3939.3,450.8 3940.3,451 3941.3,451.3 3942.3,451.6 3943.3,451.8 3944.3,452.1 3945.3,452.4 3946.3,452.6 3947.3,452.9 3948.4,453.1 3949.4,453.4 3950.4,453.6 3951.4,453.8 3952.4,454.1 3953.4,454.3 3954.4,454.6 3955.4,454.8 3956.4,455 3957.4,455.2 3958.4,455.4 3959.4,455.6 3960.4,455.7 3961.5,455.9 3962.5,455.9 3963.5,455.9 3964.5,455.8 3965.5,455.6 3966.5,455.3 3967.5,455 3968.5,454.5 3969.5,454 3970.5,453.6 3971.5,453.1 3972.5,452.8 3973.5,452.6 3974.6,452.6 3975.6,452.9 3976.6,453.3 3977.6,454 3978.6,454.8 3979.6,455.7 3980.6,456.6 3981.6,457.5 3982.6,458.4 3983.6,459.1 3984.6,459.7 3985.6,460.2 3986.6,460.6 3987.7,460.9 3988.7,461.2 3989.7,461.4 3990.7,461.6 3991.7,461.8 3992.7,462 3993.7,462.1 3994.7,462.2 3995.7,462.3 3996.7,462.3 3997.7,462.3 3998.7,462.2 3999.7,462.2 4000.8,462.1 4001.8,462.1 4002.8,462.2 4003.8,462.4 4004.8,462.6 4005.8,463 4006.8,463.3 4007.8,463.7 4008.8,463.9 4009.8,464.1 4010.8,464.3 4011.8,464.3 4012.8,464.3 4013.9,464.2 4014.9,464.1 4015.9,463.9 4016.9,463.7 4017.9,463.5 4018.9,463.4 4019.9,463.2 4020.9,463.1 4021.9,463 4022.9,463 4023.9,463 4024.9,463 4025.9,463.1 4027,463.3 4028,463.6 4029,463.9 4030,464.4 4071.3,469.7 4072.3,469.7 4073.3,469.8 4074.3,469.8 4075.3,469.8 4076.3,469.8 4077.3,469.8 4078.3,469.8 4079.4,469.9 4080.4,469.9 4081.4,469.9 4082.4,470 4083.4,470 4084.4,470 4085.4,470.1 4086.4,470.1 4087.4,470.2 4088.4,470.2 4089.4,470.3 4090.4,470.4 4091.4,470.4 4092.5,470.5 4093.5,470.6 4094.5,470.7 4095.5,470.7 4096.5,470.8 4097.5,470.9 4098.5,471 4099.5,471.1 4100.5,471.1 4101.5,471.2 4102.5,471.3 4103.5,471.4 4104.5,471.5 4105.6,471.5 4106.6,471.6 4107.6,471.7 4108.6,471.8 4109.6,471.9 4110.6,471.9 4111.6,472 4112.6,472.1 4113.6,472.2 4114.6,472.2 4115.6,472.3 4116.6,472.4 4117.6,472.4 4118.7,472.5 4119.7,472.6 4120.7,472.7 4121.7,472.7 4122.7,472.8 4123.7,472.9 4124.7,472.9 4125.7,473 4126.7,473.1 4127.7,473.1 4128.7,473.2 4129.7,473.3 4130.7,473.3 4131.8,473.4 4132.8,473.5 4133.8,473.5 4134.8,473.6 4135.8,473.7 4136.8,473.7 4137.8,473.8 4138.8,473.8 4139.8,473.9 4140.8,474 4141.8,474 4142.8,474.1 4143.8,474.1 4144.9,474.2 4145.9,474.3 4146.9,474.3 4147.9,474.4 4148.9,474.4 4149.9,474.5 4150.9,474.6 4151.9,474.6 4152.9,474.7 4153.9,474.7 4154.9,474.8 4155.9,474.8 4156.9,474.9 4157.3,474.9" stroke="#1818c0" stroke-width="0.8"/>
<polyline points="3939.3,450.6 3940,450.8 3940.6,450.9 3941.3,451.1 3942,451.3 3942.6,451.5 3943.3,451.6 3944,451.8 3944.7,452 3945.3,452.1 3946,452.3 3946.7,452.4 3947.3,452.6 3948,452.7 3948.7,452.8 3949.4,453 3950,453.1 3950.7,453.2 3951.4,453.3 3952.1,453.4 3952.7,453.4 3953.4,453.4 3954.1,453.3 3954.7,453.1 3955.4,452.7 3956.1,451.8 3956.8,450.2 3957.4,447.3 3958.1,444.5 3958.8,445.8 3959.4,449.4 3960.1,451.9 3960.8,453.3 3961.5,454.1 3962.1,454.6 3962.8,454.9 3963.5,455.1 3964.1,455.1 3964.8,455.1 3965.5,455.1 3966.2,454.9 3966.8,454.8 3967.5,454.5 3968.2,454.3 3968.8,454 3969.5,453.6 3970.2,453.3 3970.9,453 3971.5,452.7 3972.2,452.5 3972.9,452.3 3973.5,452.2 3974.2,452.2 3974.9,452.3 3975.6,452.4 3976.2,452.7 3976.9,453 3977.6,453.5 3978.3,454 3978.9,454.5 3979.6,455.1 3980.3,455.7 3980.9,456.3 3981.6,456.9 3982.3,457.4 3983,457.8 3983.6,458.2 3984.3,458.6 3985,458.9 3985.6,459.1 3986.3,459.2 3987,459.3 3987.7,459.3 3988.3,459.3 3989,459.1 3989.7,458.9 3990.3,458.5 3991,458 3991.7,457.1 3992.4,455.9 3993,454.1 3993.7,451.4 3994.4,447.2 3995,441.1 3995.7,434 3996.4,429.9 3997.1,432.9 3997.7,440 3998.4,446.5 3999.1,451.1 3999.7,454.1 4000.4,456.1 4001.1,457.5 4001.8,458.4 4002.4,459.2 4003.1,459.8 4003.8,460.3 4004.5,460.8 4005.1,461.3 4005.8,461.4 4006.5,458.9 4007.1,454.6 4007.8,459.2 4008.5,462.7 4009.2,463.3 4009.8,463.5 4010.5,463.6 4011.2,463.7 4011.8,463.8 4012.5,463.8 4013.2,463.8 4013.9,463.8 4014.5,463.7 4015.2,463.6 4015.9,463.6 4016.5,463.4 4017.2,463.3 4017.9,463.2 4018.6,463.1 4019.2,463 4019.9,462.9 4020.6,462.8 4021.2,462.8 4021.9,462.7 4022.6,462.7 4023.3,462.7 4023.9,462.7 4024.6,462.8 4025.3,462.8 4025.9,462.9 4026.6,463 4027.3,463.2 4028,463.4 4028.6,463.6 4029.3,463.9 4030,464.2 4030.7,464.5 4071.6,469.4 4072.3,469.5 4073,469.5 4073.6,469.5 4074.3,469.5 4075,469.5 4075.7,469.5 4076.3,469.5 4077,469.5 4077.7,469.5 4078.3,469.5 4079,469.5 4079.7,469.5 4080.4,469.5 4081,469.5 4081.7,469.5 4082.4,469.6 4083,469.6 4083.7,469.6 4084.4,469.6 4085.1,469.6 4085.7,469.6 4086.4,469.6 4087.1,469.6 4087.8,469.7 4088.4,469.7 4089.1,469.7 4089.8,469.7 4090.4,469.7 4091.1,469.8 4091.8,469.8 4092.5,469.8 4093.1,469.8 4093.8,469.8 4094.5,469.9 4095.1,469.9 4095.8,469.9 4096.5,469.9 4097.2,469.9 4097.8,469.9 4098.5,469.9 4099.2,469.9 4099.8,469.9 4100.5,469.9 4101.2,469.8 4101.9,469.8 4102.5,469.8 4103.2,469.7 4103.9,469.6 4104.5,469.5 4105.2,469.4 4105.9,469.3 4106.6,469.2 4107.2,469 4107.9,468.8 4108.6,468.6 4109.2,468.3 4109.9,467.9 4110.6,467.5 4111.3,466.9 4111.9,466.3 4112.6,465.5 4113.3,464.5 4114,463.2 4114.6,461.5 4115.3,459.3 4116,456.3 4116.6,452.2 4117.3,446.5 4118,438.2 4118.7,426 4119.3,408.4 4120,385.2 4120.7,362.6 4121.3,355.6 4122,370.9 4122.7,395.5 4123.4,417 4124,432.5 4124.7,443.1 4125.4,450.4 4126,455.4 4126.7,459.1 4127.4,461.7 4128.1,463.8 4128.7,465.3 4129.4,466.6 4130.1,467.5 4130.7,468.4 4131.4,469 4132.1,469.6 4132.8,470.1 4133.4,470.5 4134.1,470.8 4134.8,471.1 4135.4,471.4 4136.1,471.6 4136.8,471.9 4137.5,472 4138.1,472.2 4138.8,472.4 4139.5,472.5 4140.2,472.7 4140.8,472.8 4141.5,472.9 4142.2,473 4142.8,473.1 4143.5,473.2 4144.2,473.3 4144.9,473.4 4145.5,473.5 4146.2,473.6 4146.9,473.7 4147.5,473.7 4148.2,473.8 4148.9,473.9 4149.6,473.9 4150.2,474 4150.9,474.1 4151.6,474.1 4152.2,474.2 4152.9,474.2 4153.6,474.3 4154.3,474.4 4154.9,474.4 4155.6,474.5 4156.3,474.5 4156.9,474.6 4157.3,474.6" stroke="#cc1a1a" stroke-width="0.8"/>
<polyline points="3939.3,487.3 3940.3,487.3 3941.3,487.3 3942.3,487.3 3943.3,487.3 3944.3,487.3 3945.3,487.3 3946.3,487.3 3947.3,487.3 3948.4,487.3 3949.4,487.3 3950.4,487.3 3951.4,487.3 3952.4,487.3 3953.4,487.3 3954.4,487.3 3955.4,487.3 3956.4,487.3 3957.4,487.3 3958.4,487.2 3959.4,487.2 3960.4,487.1 3961.5,487 3962.5,486.8 3963.5,486.6 3964.5,486.3 3965.5,485.9 3966.5,485.4 3967.5,484.8 3968.5,484.2 3969.5,483.5 3970.5,482.8 3971.5,482.2 3972.5,481.7 3973.5,481.3 3974.6,481.1 3975.6,481.1 3976.6,481.4 3977.6,481.9 3978.6,482.5 3979.6,483.2 3980.6,484 3981.6,484.7 3982.6,485.4 3983.6,485.9 3984.6,486.4 3985.6,486.7 3986.6,486.9 3987.7,487.1 3988.7,487.2 3989.7,487.2 3990.7,487.3 3991.7,487.3 3992.7,487.3 3993.7,487.2 3994.7,487.2 3995.7,487.1 3996.7,487 3997.7,486.8 3998.7,486.6 3999.7,486.3 4000.8,486.1 4001.8,486 4002.8,485.9 4003.8,486 4004.8,486.1 4005.8,486.3 4006.8,486.5 4007.8,486.7 4008.8,486.8 4009.8,486.9 4010.8,486.8 4011.8,486.8 4012.8,486.6 4013.9,486.4 4014.9,486.1 4015.9,485.8 4016.9,485.5 4017.9,485.2 4018.9,484.9 4019.9,484.6 4020.9,484.3 4021.9,484.1 4022.9,483.9 4023.9,483.8 4024.9,483.7 4025.9,483.7 4027,483.8 4028,484 4029,484.2 4030,484.5 4031,484.9 4032,485.3 4033,485.7 4034,486.1 4035,486.4 4036,486.7 4037,486.9 4038,487.1 4039,487.2 4040.1,487.2 4041.1,487.3 4042.1,487.3 4043.1,487.3 4044.1,487.3 4045.1,487.3 4046.1,487.3 4047.1,487.3 4048.1,487.2 4049.1,487.2 4050.1,487.1 4051.1,487.1 4052.1,487.1 4053.2,487 4054.2,487 4055.2,486.9 4056.2,486.8 4057.2,486.8 4058.2,486.7 4059.2,486.6 4060.2,486.6 4061.2,486.5 4062.2,486.4 4063.2,486.3 4064.2,486.3 4065.2,486.2 4066.3,486.1 4067.3,486 4068.3,486 4069.3,485.9 4070.3,485.8 4071.3,485.7 4072.3,485.7 4073.3,485.6 4074.3,485.5 4075.3,485.5 4076.3,485.4 4077.3,485.3 4078.3,485.3 4079.4,485.2 4080.4,485.2 4081.4,485.1 4082.4,485.1 4083.4,485 4084.4,485 4085.4,485 4086.4,484.9 4087.4,484.9 4088.4,484.9 4089.4,484.9 4090.4,484.9 4091.4,484.9 4092.5,484.9 4093.5,484.9 4094.5,484.9 4095.5,484.9 4096.5,484.9 4097.5,484.9 4098.5,484.9 4099.5,484.9 4100.5,484.9 4101.5,485 4102.5,485 4103.5,485 4104.5,485 4105.6,485 4106.6,485 4107.6,485 4108.6,485 4109.6,485.1 4110.6,485.1 4111.6,485.1 4112.6,485.1 4113.6,485.1 4114.6,485.1 4115.6,485.1 4116.6,485.1 4117.6,485.1 4118.7,485.2 4119.7,485.2 4120.7,485.2 4121.7,485.2 4122.7,485.2 4123.7,485.2 4124.7,485.2 4125.7,485.2 4126.7,485.2 4127.7,485.3 4128.7,485.3 4129.7,485.3 4130.7,485.3 4131.8,485.3 4132.8,485.3 4133.8,485.3 4134.8,485.3 4135.8,485.3 4136.8,485.3 4137.8,485.3 4138.8,485.4 4139.8,485.4 4140.8,485.4 4141.8,485.4 4142.8,485.4 4143.8,485.4 4144.9,485.4 4145.9,485.4 4146.9,485.4 4147.9,485.4 4148.9,485.4 4149.9,485.5 4150.9,485.5 4151.9,485.5 4152.9,485.5 4153.9,485.5 4154.9,485.5 4155.9,485.5 4156.9,485.5" stroke="#1818c0" stroke-width="0.8"/>
<polyline points="3939.3,487.1 3940,487.1 3940.6,487.1 3941.3,487.1 3942,487.1 3942.6,487.1 3943.3,487.1 3944,487.1 3944.7,487.1 3945.3,487.1 3946,487 3946.7,487 3947.3,487 3948,487 3948.7,487 3949.4,486.9 3950,486.9 3950.7,486.8 3951.4,486.8 3952.1,486.7 3952.7,486.6 3953.4,486.4 3954.1,486.1 3954.7,485.8 3955.4,485.2 3956.1,484.2 3956.8,482.4 3957.4,479.4 3958.1,476.4 3958.8,477.6 3959.4,481.1 3960.1,483.5 3960.8,484.8 3961.5,485.6 3962.1,486 3962.8,486.3 3963.5,486.5 3964.1,486.6 3964.8,486.7 3965.5,486.8 3966.2,486.8 3966.8,486.8 3967.5,486.9 3968.2,486.9 3968.8,486.9 3969.5,486.9 3970.2,486.9 3970.9,486.9 3971.5,486.9 3972.2,486.9 3972.9,486.9 3973.5,486.9 3974.2,486.9 3974.9,486.9 3975.6,486.9 3976.2,486.9 3976.9,486.8 3977.6,486.8 3978.3,486.8 3978.9,486.8 3979.6,486.7 3980.3,486.7 3980.9,486.7 3981.6,486.6 3982.3,486.6 3983,486.5 3983.6,486.5 3984.3,486.4 3985,486.3 3985.6,486.2 3986.3,486 3987,485.9 3987.7,485.7 3988.3,485.4 3989,485.1 3989.7,484.7 3990.3,484.2 3991,483.6 3991.7,482.6 3992.4,481.3 3993,479.4 3993.7,476.6 3994.4,472.3 3995,466.2 3995.7,459 3996.4,454.9 3997.1,457.9 3997.7,465 3998.4,471.6 3999.1,476.2 3999.7,479.3 4000.4,481.3 4001.1,482.7 4001.8,483.6 4002.4,484.3 4003.1,484.9 4003.8,485.3 4004.5,485.6 4005.1,485.8 4005.8,485.8 4006.5,483 4007.1,478.5 4007.8,482.9 4008.5,486.2 4009.2,486.6 4009.8,486.6 4010.5,486.7 4011.2,486.7 4011.8,486.8 4012.5,486.8 4013.2,486.8 4013.9,486.9 4014.5,486.9 4015.2,486.9 4015.9,486.9 4016.5,487 4017.2,487 4017.9,487 4018.6,487 4019.2,487 4019.9,487 4020.6,487 4021.2,487 4021.9,487.1 4022.6,487.1 4023.3,487.1 4023.9,487.1 4024.6,487.1 4025.3,487.1 4025.9,487.1 4026.6,487.1 4027.3,487.1 4028,487.1 4028.6,487.1 4029.3,487.1 4030,487.1 4030.7,487.1 4031.3,487.1 4032,487.1 4032.7,487.1 4033.3,487.1 4034,487.1 4034.7,487.1 4035.4,487.1 4036,487.1 4036.7,487.1 4037.4,487.1 4038,487.1 4038.7,487.1 4039.4,487.1 4040.1,487.1 4040.7,487.1 4041.4,487.1 4042.1,487.1 4042.7,487.1 4043.4,487.1 4044.1,487.1 4044.8,487.1 4045.4,487.1 4046.1,487.1 4046.8,487.1 4047.4,487.1 4048.1,487.1 4048.8,487.1 4049.5,487.1 4050.1,487.1 4050.8,487.1 4051.5,487.1 4052.1,487.1 4052.8,487.1 4053.5,487.1 4054.2,487.1 4054.8,487.1 4055.5,487.1 4056.2,487.1 4056.8,487.1 4057.5,487.1 4058.2,487.1 4058.9,487.1 4059.5,487.1 4060.2,487.1 4060.9,487.1 4061.6,487.1 4062.2,487.1 4062.9,487.1 4063.6,487.1 4064.2,487.1 4064.9,487.1 4065.6,487.1 4066.3,487.1 4066.9,487.1 4067.6,487.1 4068.3,487 4068.9,487 4069.6,487 4070.3,487 4071,487 4071.6,487 4072.3,487 4073,487 4073.6,487 4074.3,487 4075,487 4075.7,487 4076.3,487 4077,487 4077.7,487 4078.3,487 4079,486.9 4079.7,486.9 4080.4,486.9 4081,486.9 4081.7,486.9 4082.4,486.9 4083,486.9 4083.7,486.9 4084.4,486.8 4085.1,486.8 4085.7,486.8 4086.4,486.8 4087.1,486.8 4087.8,486.8 4088.4,486.7 4089.1,486.7 4089.8,486.7 4090.4,486.7 4091.1,486.7 4091.8,486.6 4092.5,486.6 4093.1,486.6 4093.8,486.5 4094.5,486.5 4095.1,486.5 4095.8,486.4 4096.5,486.4 4097.2,486.3 4097.8,486.3 4098.5,486.2 4099.2,486.2 4099.8,486.1 4100.5,486 4101.2,485.9 4101.9,485.8 4102.5,485.8 4103.2,485.6 4103.9,485.5 4104.5,485.4 4105.2,485.2 4105.9,485.1 4106.6,484.9 4107.2,484.6 4107.9,484.4 4108.6,484.1 4109.2,483.7 4109.9,483.3 4110.6,482.8 4111.3,482.3 4111.9,481.5 4112.6,480.7 4113.3,479.6 4114,478.3 4114.6,476.6 4115.3,474.3 4116,471.3 4116.6,467.2 4117.3,461.4 4118,453 4118.7,440.8 4119.3,423.1 4120,399.9 4120.7,377.2 4121.3,370.2 4122,385.4 4122.7,410 4123.4,431.5 4124,447 4124.7,457.5 4125.4,464.7 4126,469.7 4126.7,473.3 4127.4,475.9 4128.1,477.9 4128.7,479.4 4129.4,480.6 4130.1,481.6 4130.7,482.3 4131.4,482.9 4132.1,483.5 4132.8,483.9 4133.4,484.3 4134.1,484.6 4134.8,484.8 4135.4,485.1 4136.1,485.3 4136.8,485.4 4137.5,485.6 4138.1,485.7 4138.8,485.8 4139.5,486 4140.2,486.1 4140.8,486.1 4141.5,486.2 4142.2,486.3 4142.8,486.4 4143.5,486.4 4144.2,486.5 4144.9,486.5 4145.5,486.6 4146.2,486.6 4146.9,486.6 4147.5,486.7 4148.2,486.7 4148.9,486.7 4149.6,486.8 4150.2,486.8 4150.9,486.8 4151.6,486.8 4152.2,486.9 4152.9,486.9 4153.6,486.9 4154.3,486.9 4154.9,486.9 4155.6,486.9 4156.3,487 4156.9,487" stroke="#cc1a1a" stroke-width="0.8"/>
</g>
<rect x="3939.3" y="329.3" width="218.0" height="158.0" fill="none" stroke="#5e5e5e" stroke-width="1.25"/>
<text x="3970.0" y="497.6" font-size="8.6" text-anchor="middle" fill="#222">4500</text>
<text x="4006.7" y="497.6" font-size="8.6" text-anchor="middle" fill="#222">5000</text>
<text x="4043.3" y="497.6" font-size="8.6" text-anchor="middle" fill="#222">5500</text>
<text x="4079.9" y="497.6" font-size="8.6" text-anchor="middle" fill="#222">6000</text>
<text x="4116.6" y="497.6" font-size="8.6" text-anchor="middle" fill="#222">6500</text>
<text x="4153.2" y="497.6" font-size="8.6" text-anchor="middle" fill="#222">7000</text>
<path d="M3970.0 487.3v-4M3970.0 329.3v4M4006.7 487.3v-4M4006.7 329.3v4M4043.3 487.3v-4M4043.3 329.3v4M4079.9 487.3v-4M4079.9 329.3v4M4116.6 487.3v-4M4116.6 329.3v4M4153.2 487.3v-4M4153.2 329.3v4M3939.3 349.1h3M4157.3 349.1h-3M3939.3 368.8h3M4157.3 368.8h-3M3939.3 388.6h3M4157.3 388.6h-3M3939.3 408.3h3M4157.3 408.3h-3M3939.3 428.1h3M4157.3 428.1h-3M3939.3 447.8h3M4157.3 447.8h-3M3939.3 467.6h3M4157.3 467.6h-3" stroke="#5e5e5e" stroke-width="0.8" fill="none"/>
<rect x="3579.3" y="334" width="137.0" height="16" fill="#fff" stroke="#5e5e5e" stroke-width="0.8"/>
<line x1="3583.3" y1="342" x2="3603.3" y2="342" stroke="#cc1a1a" stroke-width="0.9"/>
<text x="3609.3" y="345.2" font-size="9.2" text-anchor="start" fill="#222">Ly<tspan font-style="italic">α</tspan>, SiIVOIV, CIV, CIII</text>
<rect x="3879.0" y="334" width="55.3" height="16" fill="#fff" stroke="#5e5e5e" stroke-width="0.8"/>
<line x1="3883.0" y1="342" x2="3903.0" y2="342" stroke="#cc1a1a" stroke-width="0.9"/>
<text x="3909.0" y="345.2" font-size="9.2" text-anchor="start" fill="#222">MgII</text>
<rect x="3943.3" y="334" width="82.7" height="16" fill="#fff" stroke="#5e5e5e" stroke-width="0.8"/>
<line x1="3947.3" y1="342" x2="3967.3" y2="342" stroke="#cc1a1a" stroke-width="0.9"/>
<text x="3973.3" y="345.2" font-size="9.2" text-anchor="start" fill="#222">H<tspan font-style="italic">β</tspan> and H<tspan font-style="italic">α</tspan></text>
<text x="3466.0" y="415.0" font-size="17.5" text-anchor="middle" fill="#222" transform="rotate(-90 3466.0 415.0)">F<tspan font-size="11.5" dy="3.5">λ</tspan><tspan dy="-3.5">[arbitrary units]</tspan></text>
<text x="3818.0" y="520.5" font-size="16.5" text-anchor="middle" fill="#222"><tspan font-style="italic">λ</tspan>(Å)</text>
</svg>
<div class="j" style="left:247.3px;top:407.79px;width:527.7px;font-size:14.1px">This is the second in a series of papers aiming to test how the mass (<i>M</i><sub>BH</sub>), accretion rate (<i>Ṁ</i>)</div>
<div class="j" style="left:247.3px;top:423.45px;width:527.7px;font-size:14.1px">and spin (<i>a</i><sub>∗</sub>) of super massive black holes (SMBHs) determine the observed properties of</div>
<div class="j" style="left:247.3px;top:439.11px;width:527.7px;font-size:14.1px">type-I active galactic nuclei (AGN). Our project utilizes a sample of 39 unobscured AGN at</div>
<div class="j" style="left:247.3px;top:454.77px;width:527.7px;font-size:14.1px"><i>z</i> ≃ 1.55 observed by VLT/X-shooter, selected to map a large range in <i>M</i><sub>BH</sub> and <i>L</i>/<i>L</i><sub>Edd</sub> and</div>
<div class="j" style="left:247.3px;top:470.43px;width:527.7px;font-size:14.1px;word-spacing:-0.07px">covers the most prominent UV-optical (broad) emission lines, including H<i>α</i>, H<i>β</i>, Mg<span class=sc>ii</span> <i>λ</i>2798,</div>
<div class="j" style="left:247.3px;top:486.09px;width:527.7px;font-size:14.1px">and C<span class=sc>iv</span> <i>λ</i>1549. This paper focuses on single-epoch, “virial” <i>M</i><sub>BH</sub> determinations from broad</div>
<div class="j" style="left:247.3px;top:501.75px;width:527.7px;font-size:14.1px">emission lines and examines the implications of different continuum modeling approaches</div>
<div class="j" style="left:247.3px;top:517.41px;width:527.7px;font-size:14.1px">in line width measurements. We find that using a &nbsp;<i>local</i>&nbsp; power-law continuum instead of a</div>
<div class="j" style="left:247.3px;top:533.07px;width:527.7px;font-size:14.1px">physically-motivated thin disk continuum leads to only slight underestimation of the FWHM</div>
<div class="j" style="left:247.3px;top:548.73px;width:527.7px;font-size:14.1px">of the lines and the associated <i>M</i><sub>BH</sub> (FWHM). However, the line dispersion <i>σ</i><sub>line</sub> and associ-</div>
<div class="j" style="left:247.3px;top:564.39px;width:527.7px;font-size:14.1px">ated <i>M</i><sub>BH</sub> (<i>σ</i><sub>line</sub>) are strongly affected by the continuum placement and provides less reliable</div>
<div class="j" style="left:247.3px;top:580.05px;width:527.7px;font-size:14.1px">mass estimates than FWHM-based methods. Our analysis shows that H<i>α</i>, H<i>β</i> and Mg<span class=sc>ii</span> can</div>
<div class="j" style="left:247.3px;top:595.71px;width:527.7px;font-size:14.1px">be safely used for virial <i>M</i><sub>BH</sub> estimation. The C<span class=sc>iv</span> line, on the other hand, is not reliable in</div>
<div class="j" style="left:247.3px;top:611.37px;width:527.7px;font-size:14.1px">the majority of the cases, this may indicate that the gas emitting this line is not virialized.</div>
<div class="j" style="left:247.3px;top:627.03px;width:527.7px;font-size:14.1px">While H<i>α</i> and H<i>β</i> show very similar line widths, the mean FWHM(Mg<span class=sc>ii</span>) is about 30% nar-</div>
<div class="j" style="left:247.3px;top:642.69px;width:527.7px;font-size:14.1px">rower than FWHM(H<i>β</i>). We confirm several recent suggestions to improve the accuracy in</div>
<div class="j" style="left:247.3px;top:658.35px;width:527.7px;font-size:14.1px">C<span class=sc>iv</span>-based mass estimates, relying on other UV emission lines. Such improvements do not</div>
<div class="l" style="left:247.3px;top:674.01px;width:527.7px;font-size:14.1px">reduce the scatter between C<span class=sc>iv</span>-based and Balmer-line-based mass estimates.</div>
<div class="j" style="left:60.2px;top:802.26px;width:340.0px">The mass (<i>M</i><sub>BH</sub>) of Super Massive Black Holes (SMBHs), along</div>
<div class="j" style="left:60.2px;top:817.93px;width:340.0px">with the SMBH spin (<i>a</i><sub>∗</sub>) and accretion rate (<i>Ṁ</i>), are the funda-</div>
<div class="j" style="left:60.2px;top:833.59px;width:340.0px;word-spacing:-0.18px">mental parameters that drive the physical, geometric and kinematic</div>
<div class="j" style="left:60.2px;top:849.26px;width:340.0px;word-spacing:-0.09px">properties of the SMBH environment (e.g. <span class=c>Kaspi et al. 2005</span>; <span class=c>Slone</span></div>
<div class="j" style="left:60.2px;top:864.92px;width:340.0px"><span class=c>& Netzer 2012</span>; <span class=c>Capellupo et al. 2015</span>). <i>M</i><sub>BH</sub> is also known to be</div>
<div class="j" style="left:60.2px;top:880.59px;width:340.0px">correlated with several properties of the host galaxy, suggesting</div>
<div class="j" style="left:60.2px;top:896.25px;width:340.0px">a so-called “co-evolutionary” scenario for the SMBH and stellar</div>
<div class="j" style="left:60.2px;top:911.92px;width:340.0px">component of the host (e.g. <span class=c>Ferrarese & Merritt 2000</span>; <span class=c>Häring &</span></div>
<div class="j" style="left:60.2px;top:927.58px;width:340.0px"><span class=c>Rix 2004</span>; <span class=c>Gültekin et al. 2009</span>; <span class=c>Xiao et al. 2011</span>). Therefore, accu-</div>
<div class="j" style="left:60.2px;top:943.25px;width:340.0px">rate and precise determinations of <i>M</i><sub>BH</sub>, across cosmic epochs, are</div>
<div class="l" style="left:60.2px;top:958.91px;width:340.0px">crucial for our understanding of SMBH physics and evolution.</div>
<div class="j" style="left:85.8px;top:974.58px;width:314.4px">For un-obscured, type-I actively growing SMBHs (active</div>
<div class="j" style="left:60.2px;top:990.24px;width:340.0px">galactic nuclei - AGN), <i>M</i><sub>BH</sub> can be estimated from single epoch</div>
<div class="j" style="left:60.2px;top:1005.91px;width:340.0px">spectra of several broad emission lines.&nbsp; The method, which was</div>
<div class="j" style="left:434.8px;top:778.96px;width:340.0px">used for many large samples of AGN across cosmic epochs (e.g.,</div>
<div class="j" style="left:434.8px;top:794.63px;width:340.0px"><span class=c>Croom et al. 2004</span>; <span class=c>McLure & Dunlop 2004</span>; <span class=c>Onken et al. 2004</span>;</div>
<div class="j" style="left:434.8px;top:810.29px;width:340.0px"><span class=c>Fine et al. 2006</span>; <span class=c>Shen et al. 2008</span>; <span class=c>Rafiee & Hall 2011</span>; <span class=c>Trakht-</span></div>
<div class="j" style="left:434.8px;top:825.96px;width:340.0px"><span class=c>enbrot & Netzer 2012</span>), is based on a combination of two basic</div>
<div class="j" style="left:434.8px;top:841.62px;width:340.0px">ingredients (<span class=c>Vestergaard 2002</span>; <span class=c>Peterson et al. 2004</span>). First, rever-</div>
<div class="j" style="left:434.8px;top:857.29px;width:340.0px">beration mapping (RM) experiments provide an empirical rela-</div>
<div class="j" style="left:434.8px;top:872.95px;width:340.0px">tion between the BLR size and the AGN continuum luminosity</div>
<div class="j" style="left:434.8px;top:888.62px;width:340.0px">(<i>R</i><sub>BLR</sub> = <i>K</i>′(<i>λL<sub>λ</sub></i>)<sup><i>α</i></sup>, with <i>α</i> ∼ 0.5 − 0.7; see <span class=c>Kaspi et al. 2000</span>,</div>
<div class="j" style="left:434.8px;top:904.28px;width:340.0px"><span class=c>2005</span>; <span class=c>Bentz et al. 2009</span>, <span class=c>2013</span>, and references therein). Second, the</div>
<div class="j" style="left:434.8px;top:919.95px;width:340.0px">gas in the broad line region (BLR) is assumed to be virialized (as</div>
<div class="j" style="left:434.8px;top:935.61px;width:340.0px">suggested by several empirical studies, e.g., <span class=c>Peterson & Wandel</span></div>
<div class="j" style="left:434.8px;top:951.28px;width:340.0px"><span class=c>1999</span>; <span class=c>Onken et al. 2004</span>) .&nbsp; After taking the line width of the BLR</div>
<div class="j" style="left:434.8px;top:966.94px;width:340.0px">lines as a natural estimation of the virial velocity of the gas in the</div>
<div class="l" style="left:434.8px;top:982.61px;width:340.0px">BLR (<i>V</i><sub>BLR</sub>), one may obtain the mass from the virial relation:</div>
<div class="j" style="left:434.8px;top:1037.36px;width:340.0px">where <i>K</i> = <i>K</i>′<i>G</i><sup>−1</sup><i>f</i> and <i>f</i> is a general geometrical function</div>
<div class="j" style="left:434.8px;top:1053.03px;width:340.0px">which correct for the unknown structure and inclination to the line</div>
<div class="j" style="left:434.8px;top:1068.69px;width:340.0px">of sight. <i>f</i> can be determined experimentally by requiring RM-</div>
<div class="j" style="left:908.2px;top:112.46px;width:340.0px"><i>M</i><sub>BH</sub> estimations to be consistent, on average, with those predicted</div>
<div class="j" style="left:908.2px;top:128.13px;width:340.0px">from the <i>M</i><sub>BH</sub>-bulge stellar velocity dispersion (<i>M</i><sub>BH</sub>-<i>σ</i><sub>∗</sub>) relation</div>
<div class="j" style="left:908.2px;top:143.79px;width:340.0px;word-spacing:-0.21px">of local galaxies where <i>M</i><sub>BH</sub> have been dynamically estimated (e.g.</div>
<div class="j" style="left:908.2px;top:159.46px;width:340.0px"><span class=c>Onken et al. 2004</span>; <span class=c>Woo et al. 2010</span>; <span class=c>Graham et al. 2011</span>; <span class=c>Graham</span></div>
<div class="j" style="left:908.2px;top:175.12px;width:340.0px"><span class=c>2015</span>; <span class=c>Woo et al. 2015</span>). In this paper, we assume <i>f</i> = 1, which is</div>
<div class="j" style="left:908.2px;top:190.79px;width:340.0px">appropriate for the FWHM <i>M</i><sub>BH</sub> (H<i>β</i>) estimates (<span class=c>Woo et al. 2015</span>).</div>
<div class="j" style="left:908.2px;top:206.45px;width:340.0px">However, in addition to the still large uncentainty in this value</div>
<div class="j" style="left:908.2px;top:222.12px;width:340.0px">(50%), <i>f</i> can also be different for different lines and could even de-</div>
<div class="j" style="left:908.2px;top:237.78px;width:340.0px">pend on luminosity and/or line properties (e.g. equivalent widths,</div>
<div class="l" style="left:908.2px;top:253.45px;width:340.0px">line offsets FWHM <span class=c>Shen 2013</span>).</div>
<div class="j" style="left:933.8px;top:269.11px;width:314.4px">Among the RM-based <i>R</i><sub>BLR</sub> − <i>L</i> relations, the most reliable</div>
<div class="j" style="left:908.2px;top:284.78px;width:340.0px">one is the <i>R</i><sub>BLR</sub> (H<i>β</i>) − <i>L</i><sub>5100</sub> relation, which is the only one based</div>
<div class="j" style="left:908.2px;top:300.44px;width:340.0px">on a large number of sources, with <i>L</i><sub>5100</sub> ≲ 10<sup>46</sup> erg s<sup>−1</sup>. Thus, the</div>
<div class="j" style="left:908.2px;top:316.11px;width:340.0px"><i>M</i><sub>BH</sub> determination based on other lines and luminosities at other</div>
<div class="j" style="left:908.2px;top:331.77px;width:340.0px;word-spacing:-0.10px">wavelengths needs to be re-calibrated to match <i>M</i><sub>BH</sub> measurements</div>
<div class="j" style="left:908.2px;top:347.44px;width:340.0px">based on H<i>β</i> and <i>L</i><sub>5100</sub>. Particularly, C<span class=sc>iv</span> <i>λ</i>1549, hereafter C<span class=sc>iv</span>,</div>
<div class="j" style="left:908.2px;top:363.10px;width:340.0px">(e.g. <span class=c>Vestergaard & Peterson 2006</span>; <span class=c>Park et al. 2013</span>), Mg<span class=sc>ii</span> <i>λ</i>2798,</div>
<div class="j" style="left:908.2px;top:378.77px;width:340.0px">hereafter Mg<span class=sc>ii</span>, (e.g. <span class=c>McLure & Jarvis 2002</span>; <span class=c>Vestergaard & Os-</span></div>
<div class="j" style="left:908.2px;top:394.43px;width:340.0px"><span class=c>mer 2009</span>; <span class=c>Wang et al. 2009</span>; <span class=c>Trakhtenbrot et al. 2011</span>; <span class=c>Shen & Liu</span></div>
<div class="j" style="left:908.2px;top:410.10px;width:340.0px"><span class=c>2012</span>; <span class=c>Trakhtenbrot & Netzer 2012</span>) and H<i>α</i> (e.g. <span class=c>Greene & Ho</span></div>
<div class="j" style="left:908.2px;top:425.76px;width:340.0px"><span class=c>2005</span>; <span class=c>Xiao et al. 2011</span>; <span class=c>Shen & Liu 2012</span>) have been re-calibrated</div>
<div class="j" style="left:908.2px;top:441.43px;width:340.0px">accordingly, and are widely used lines to determine <i>M</i><sub>BH</sub> at high</div>
<div class="l" style="left:908.2px;top:457.09px;width:340.0px">redshifts.</div>
<div class="j" style="left:933.8px;top:472.76px;width:314.4px">Earlier <i>M</i><sub>BH</sub> recalibrations based on Mg<span class=sc>ii</span> and H<i>α</i> have</div>
<div class="j" style="left:908.2px;top:488.42px;width:340.0px">showed good agreement and low scatter with H<i>β</i>-based <i>M</i><sub>BH</sub> cali-</div>
<div class="j" style="left:908.2px;top:504.09px;width:340.0px">bration (<span class=c>Greene & Ho 2005</span>; <span class=c>Xiao et al. 2011</span>; <span class=c>Trakhtenbrot & Net-</span></div>
<div class="j" style="left:908.2px;top:519.75px;width:340.0px"><span class=c>zer 2012</span>).&nbsp; However, <i>M</i><sub>BH</sub> recalibrations using the C<span class=sc>iv</span> line are</div>
<div class="j" style="left:908.2px;top:535.42px;width:340.0px">more problematic, compared with those based on lower-ionization</div>
<div class="j" style="left:908.2px;top:551.08px;width:340.0px">lines. First, the correlation between the widths of C<span class=sc>iv</span> and the</div>
<div class="j" style="left:908.2px;top:566.75px;width:340.0px">other lines was shown to be weak, or indeed insignificant, and</div>
<div class="j" style="left:908.2px;top:582.41px;width:340.0px">to present a large scatter, in many AGN samples (e.g., <span class=c>Baskin &</span></div>
<div class="j" style="left:908.2px;top:598.08px;width:340.0px"><span class=c>Laor 2005</span>; <span class=c>Netzer et al. 2007</span>; <span class=c>Shang et al. 2007</span>; <span class=c>Shen et al. 2008</span>;</div>
<div class="j" style="left:908.2px;top:613.74px;width:340.0px"><span class=c>Fine et al. 2010</span>; <span class=c>Ho et al. 2012</span>; <span class=c>Shen & Liu 2012</span>; <span class=c>Tilton & Shull</span></div>
<div class="j" style="left:908.2px;top:629.41px;width:340.0px"><span class=c>2013</span>). Moreover, about 40% of the objects have FWHM (C<span class=sc>iv</span>) ≲</div>
<div class="j" style="left:908.2px;top:645.07px;width:340.0px">FWHM (H<i>β</i>), in contrast to the expectations from RM experi-</div>
<div class="j" style="left:908.2px;top:660.74px;width:340.0px">ments and the virial assumption, that suggest FWHM (C<span class=sc>iv</span>) ≃</div>
<div class="j" style="left:908.2px;top:676.40px;width:340.0px">2 × FWHM (H<i>β</i>) (see detailed discussion in TN12, and additional</div>
<div class="j" style="left:908.2px;top:692.07px;width:340.0px">samples in <span class=c>Ho et al.</span> (<span class=c>2012</span>); <span class=c>Shen & Liu</span> (<span class=c>2012</span>); <span class=c>Tilton & Shull</span></div>
<div class="j" style="left:908.2px;top:707.73px;width:340.0px">(<span class=c>2013</span>)). Second, significant blueshifts of the <i>entire</i> C<span class=sc>iv</span> profile</div>
<div class="j" style="left:908.2px;top:723.40px;width:340.0px;word-spacing:-0.48px">(i.e., not necessarily a specific sub-component of the line), reaching</div>
<div class="j" style="left:908.2px;top:739.06px;width:340.0px">several 1000s km s<sup>−1</sup>, are ubiquitously measured in the vast major-</div>
<div class="j" style="left:908.2px;top:754.73px;width:340.0px;word-spacing:-0.29px">ity of AGN (<span class=c>Richards et al. 2002</span>; <span class=c>Baskin & Laor 2005</span>; <span class=c>Shang et al.</span></div>
<div class="j" style="left:908.2px;top:770.39px;width:340.0px"><span class=c>2007</span>; <span class=c>Richards et al. 2011</span>; <span class=c>Trakhtenbrot & Netzer 2012</span>). Some of</div>
<div class="j" style="left:908.2px;top:786.06px;width:340.0px">these findings were explained either by a disc outflow wind (e.g.</div>
<div class="j" style="left:908.2px;top:801.72px;width:340.0px"><span class=c>Gaskell 1982</span>; <span class=c>Sulentic et al. 2007</span>; <span class=c>Richards et al. 2011</span>) or, alter-</div>
<div class="j" style="left:908.2px;top:817.39px;width:340.0px">natively, by scattering off an in-falling medium in the innermost</div>
<div class="j" style="left:908.2px;top:833.05px;width:340.0px">C<span class=sc>iv</span>-emitting regions, which would produce the C<span class=sc>iv</span> blueshifts</div>
<div class="j" style="left:908.2px;top:848.72px;width:340.0px">(e.g. <span class=c>Kallman & Krolik 1986</span>; <span class=c>Goosmann & Gaskell 2007</span>; <span class=c>Gaskell</span></div>
<div class="j" style="left:908.2px;top:864.38px;width:340.0px"><span class=c>2009</span>; <span class=c>Gaskell & Goosmann 2013</span>). Finally, the detailed re-analysis</div>
<div class="j" style="left:908.2px;top:880.05px;width:340.0px">of the RM data for C<span class=sc>iv</span> performed by <span class=c>Denney</span> (<span class=c>2012</span>) found that</div>
<div class="j" style="left:908.2px;top:895.71px;width:340.0px">the (narrowest) core of the broad C<span class=sc>iv</span> line does not reverberate in</div>
<div class="j" style="left:908.2px;top:911.38px;width:340.0px">response to continuum variability. This implies that the <i>outermost</i></div>
<div class="j" style="left:908.2px;top:927.04px;width:340.0px">C<span class=sc>iv</span> emitting regions may not be virialized, either. All this leads</div>
<div class="j" style="left:908.2px;top:942.71px;width:340.0px">to the conclusion that the simplified models and prescriptions dis-</div>
<div class="j" style="left:908.2px;top:958.37px;width:340.0px">cussed above may be incorrect, or at least incomplete, for some</div>
<div class="l" style="left:908.2px;top:974.04px;width:340.0px">lines.</div>
<div class="j" style="left:933.8px;top:989.70px;width:314.4px">The <i>M</i><sub>BH</sub> determination is also subjected to several uncertain-</div>
<div class="j" style="left:908.2px;top:1005.37px;width:340.0px">ties, related to the limitations of spectral analysis, and/or the need</div>
<div class="j" style="left:908.2px;top:1021.03px;width:340.0px">to make several assumptions regarding the universality of some</div>
<div class="j" style="left:908.2px;top:1036.70px;width:340.0px">AGN properties. The former includes the blending of neighbor-</div>
<div class="j" style="left:908.2px;top:1052.36px;width:340.0px">ing emission and/or absorption features; incorrect determination of</div>
<div class="j" style="left:908.2px;top:1068.03px;width:340.0px">the continuum emission (<span class=c>Shang et al. 2007</span>, hereafter S07); poor</div>
<div class="j" style="left:1282.8px;top:112.46px;width:340.0px">statistics due to non-homogeneous or small nature of the sample</div>
<div class="j" style="left:1282.8px;top:128.13px;width:340.0px">under study (e.g. <span class=c>Ho et al. 2012</span>); poor data quality (e.g., <span class=c>Den-</span></div>
<div class="j" style="left:1282.8px;top:143.79px;width:340.0px"><span class=c>ney et al. 2013</span>; <span class=c>Tilton & Shull 2013</span>); and measurements obtained</div>
<div class="j" style="left:1282.8px;top:159.46px;width:340.0px">from non-simultaneous data (see e.g. <span class=c>Shen & Liu 2012</span>; <span class=c>Marziani</span></div>
<div class="j" style="left:1282.8px;top:175.12px;width:340.0px"><span class=c>et al. 2013a</span>). The latter, somewhat more fundamental uncertain-</div>
<div class="j" style="left:1282.8px;top:190.79px;width:340.0px">ties, include non virial gas motion;&nbsp; the orientation of the (gener-</div>
<div class="j" style="left:1282.8px;top:206.45px;width:340.0px">ally non-spherical) BLR with respect to the line-of-sight (<span class=c>Runnoe</span></div>
<div class="j" style="left:1282.8px;top:222.12px;width:340.0px"><span class=c>et al. 2014</span>; <span class=c>Shen & Ho 2014</span>; <span class=c>Brotherton et al. 2015</span>); and the ex-</div>
<div class="j" style="left:1282.8px;top:237.78px;width:340.0px">trapolation of the <i>R</i><sub>BLR</sub> − <i>L</i> relations to luminosities which are well</div>
<div class="l" style="left:1282.8px;top:253.45px;width:340.0px">beyond the range probed by RM experiments.</div>
<div class="j" style="left:1308.4px;top:269.11px;width:314.4px">There have been many efforts to improve single-epoch <i>M</i><sub>BH</sub></div>
<div class="j" style="left:1282.8px;top:284.78px;width:340.0px">determinations, addressing some of the aforementioned limitations</div>
<div class="j" style="left:1282.8px;top:300.44px;width:340.0px">(e.g. <span class=c>Greene & Ho 2005</span>; <span class=c>Vestergaard & Peterson 2006</span>; <span class=c>Fine et al.</span></div>
<div class="j" style="left:1282.8px;top:316.11px;width:340.0px"><span class=c>2008</span>; <span class=c>Wang et al. 2009</span>; <span class=c>Fine et al. 2010</span>; <span class=c>Xiao et al. 2011</span>; <span class=c>Shen</span></div>
<div class="j" style="left:1282.8px;top:331.77px;width:340.0px"><span class=c>& Liu 2012</span>; <span class=c>Trakhtenbrot & Netzer 2012</span>; <span class=c>Marziani et al. 2013a</span>;</div>
<div class="j" style="left:1282.8px;top:347.44px;width:340.0px"><span class=c>Park et al. 2013</span>; <span class=c>Runnoe et al. 2013</span>; <span class=c>Brotherton et al. 2015</span>; <span class=c>Zuo</span></div>
<div class="j" style="left:1282.8px;top:363.10px;width:340.0px"><span class=c>et al. 2015</span>). <span class=c>Trakhtenbrot & Netzer</span> (<span class=c>2012</span>, hereafter TN12) com-</div>
<div class="j" style="left:1282.8px;top:378.77px;width:340.0px">bined Sloan digital sky survey archival data (SDSS; <span class=c>Abazajian</span></div>
<div class="j" style="left:1282.8px;top:394.43px;width:340.0px"><span class=c>et al. 2009</span>) with smaller surveys and samples to improve ear-</div>
<div class="j" style="left:1282.8px;top:410.10px;width:340.0px">lier Mg<span class=sc>ii</span>-based <i>M</i><sub>BH</sub> prescriptions (e.g., <span class=c>McLure & Jarvis 2002</span>;</div>
<div class="j" style="left:1282.8px;top:425.76px;width:340.0px"><span class=c>McLure & Dunlop 2004</span>; <span class=c>Wang et al. 2009</span>), by assuming viri-</div>
<div class="j" style="left:1282.8px;top:441.43px;width:340.0px">alization of the Mg<span class=sc>ii</span> emitting clouds. As mentioned above, the</div>
<div class="j" style="left:1282.8px;top:457.09px;width:340.0px;word-spacing:-0.05px">TN12 study emphasized the fact that a large fraction of AGN show</div>
<div class="j" style="left:1282.8px;top:472.76px;width:340.0px">FWHM (C<span class=sc>iv</span>) &lt; FWHM (H<i>β</i>). <span class=c>Marziani et al.</span> (<span class=c>2013a</span>) (hereafter</div>
<div class="j" style="left:1282.8px;top:488.42px;width:340.0px">M13) also used SDSS data to perform an Eigenvector 1 analy-</div>
<div class="j" style="left:1282.8px;top:504.09px;width:340.0px">sis (<span class=c>Boroson & Green 1992</span>), and to separate the population into</div>
<div class="j" style="left:1282.8px;top:519.75px;width:340.0px">“population A” (FWHM (H<i>β</i>) &lt; 4000 km s<sup>−1</sup>) and “population</div>
<div class="j" style="left:1282.8px;top:535.42px;width:340.0px">B” (FWHM (H<i>β</i>) &gt; 4000 km s<sup>−1</sup>) sources. They suggested that</div>
<div class="j" style="left:1282.8px;top:551.08px;width:340.0px">H<i>β</i>- and Mg<span class=sc>ii</span>-based <i>M</i><sub>BH</sub> estimates in population B sources could</div>
<div class="j" style="left:1282.8px;top:566.75px;width:340.0px">be systematically overestimated due to a red-shifted, extremely</div>
<div class="j" style="left:1282.8px;top:582.41px;width:340.0px">broad emission component. The study of<span class=c>Shen & Liu</span> (<span class=c>2012</span>) com-</div>
<div class="j" style="left:1282.8px;top:598.08px;width:340.0px">bined SDSS optical observations of high-z objects (1.5≲z≲2.2)</div>
<div class="j" style="left:1282.8px;top:613.74px;width:340.0px;word-spacing:-0.21px">with follow up FIRE-IR observations, which allowed them to com-</div>
<div class="j" style="left:1282.8px;top:629.41px;width:340.0px">pare and recalibrate the C<span class=sc>iv</span>, Mg<span class=sc>ii</span>, H<i>β</i> and H<i>α</i> <i>M</i><sub>BH</sub> relations</div>
<div class="j" style="left:1282.8px;top:645.07px;width:340.0px">as well as contrast them with previous calibrations. While they</div>
<div class="j" style="left:1282.8px;top:660.74px;width:340.0px">found that FWHM(Mg<span class=sc>ii</span>) correlates well with the Balmer lines,</div>
<div class="j" style="left:1282.8px;top:676.40px;width:340.0px">the FWHM(C<span class=sc>iv</span>) does not show such correlations and is not a reli-</div>
<div class="j" style="left:1282.8px;top:692.07px;width:340.0px">able viral mass estimator. The <span class=c>Shen & Liu</span> (<span class=c>2012</span>) results are how-</div>
<div class="j" style="left:1282.8px;top:707.73px;width:340.0px;word-spacing:-0.37px">ever subjected to low quality SDSS data, non homogeneous sample</div>
<div class="j" style="left:1282.8px;top:723.40px;width:340.0px">selection and non simultaneous observations. <span class=c>Ho et al.</span> (<span class=c>2012</span>) ob-</div>
<div class="j" style="left:1282.8px;top:739.06px;width:340.0px;word-spacing:-0.07px">tained simultaneous UV, optical and infrared X-Shooter spectra for</div>
<div class="j" style="left:1282.8px;top:754.73px;width:340.0px">7 objects at 1.3 ≲ <i>z</i> ≲ 1.6, resulting in similar conclusions regard-</div>
<div class="j" style="left:1282.8px;top:770.39px;width:340.0px">ing the usability of Mg<span class=sc>ii</span>-based <i>M</i><sub>BH</sub> estimates, and the limitations</div>
<div class="l" style="left:1282.8px;top:786.06px;width:340.0px">associated with C<span class=sc>iv</span>.</div>
<div class="j" style="left:1308.4px;top:801.72px;width:314.4px">The studies of (<span class=c>Denney et al. 2013</span>, hereafter D13) and <span class=c>Tilton</span></div>
<div class="j" style="left:1282.8px;top:817.39px;width:340.0px"><span class=c>& Shull</span> (<span class=c>2013</span>) claimed that in spectra of limited S/N and/or spec-</div>
<div class="j" style="left:1282.8px;top:833.05px;width:340.0px">tral resolution, FWHM(C<span class=sc>iv</span>) measurements are underestimating</div>
<div class="j" style="left:1282.8px;top:848.72px;width:340.0px">the “real” line widths, in objects with strong intrinsic absorption</div>
<div class="j" style="left:1282.8px;top:864.38px;width:340.0px">features that cannot be deblended from the emission lines. This</div>
<div class="j" style="left:1282.8px;top:880.05px;width:340.0px">would partially explains the TN12 finding that about 40% of the</div>
<div class="j" style="left:1282.8px;top:895.71px;width:340.0px">objects shows FWHM(C<span class=sc>iv</span>)&lt;FWHM(H<i>β</i>). However, objects with</div>
<div class="j" style="left:1282.8px;top:911.38px;width:340.0px">no evidence of absorption features, and yet “intrinsic” line widths</div>
<div class="j" style="left:1282.8px;top:927.04px;width:340.0px">with FWHM(C<span class=sc>iv</span>)&lt;FWHM(H<i>β</i>) are known to exist (e.g., <span class=c>Corbin</span></div>
<div class="j" style="left:1282.8px;top:942.71px;width:340.0px"><span class=c>& Boroson 1996</span>). After correcting for intrinsic C<span class=sc>iv</span> absorption,</div>
<div class="j" style="left:1282.8px;top:958.37px;width:340.0px">D13 claimed that although FWHM(C<span class=sc>iv</span>) still does not correlate</div>
<div class="j" style="left:1282.8px;top:974.04px;width:340.0px">well with FWHM(H<i>β</i>), <i>σ</i>(C<span class=sc>iv</span>) shows a strong correlation with</div>
<div class="j" style="left:1282.8px;top:989.70px;width:340.0px"><i>σ</i>(H<i>β</i>) and can safely be used for C<span class=sc>iv</span> based <i>M</i><sub>BH</sub> determinations.</div>
<div class="j" style="left:1282.8px;top:1005.37px;width:340.0px;word-spacing:-0.27px">Based on these results, (<span class=c>Park et al. 2013</span>) obtained high quality data</div>
<div class="j" style="left:1282.8px;top:1021.03px;width:340.0px">in 39 out of 45 objects of the RM experiments campaign and im-</div>
<div class="j" style="left:1282.8px;top:1036.70px;width:340.0px">proved the <span class=c>Vestergaard & Peterson</span> (<span class=c>2006</span>) C<span class=sc>iv</span>-based <i>M</i><sub>BH</sub> estima-</div>
<div class="j" style="left:1282.8px;top:1052.36px;width:340.0px">tor based on the <i>σ</i>(C<span class=sc>iv</span>). Both D13 and (<span class=c>Park et al. 2013</span>) used non</div>
<div class="j" style="left:1282.8px;top:1068.03px;width:340.0px">homogeneous and multi-epoch samples that could affect their re-</div>
<div class="j" style="left:1756.2px;top:112.66px;width:340.0px">sults. In addition, <i>σ</i><sub>line</sub> measurements are highly dependent on the</div>
<div class="j" style="left:1756.2px;top:128.28px;width:340.0px;word-spacing:-0.19px">continuum determination method (see discussion in (<span class=c>Peterson et al.</span></div>
<div class="l" style="left:1756.2px;top:143.90px;width:340.0px"><span class=c>2004</span>)).</div>
<div class="j" style="left:1781.8px;top:159.52px;width:314.4px;word-spacing:-0.25px">Recently, <span class=c>Runnoe et al.</span> (<span class=c>2013</span>) (hereafter R13) and <span class=c>Brotherton</span></div>
<div class="j" style="left:1756.2px;top:175.14px;width:340.0px"><span class=c>et al.</span> (<span class=c>2015</span>) used a sample of 85 low-redshift (0.03 &lt; <i>z</i> &lt; 1.4) and</div>
<div class="j" style="left:1756.2px;top:190.76px;width:340.0px">low-luminosity (43.37 &lt; log <i>L</i><sub>5100</sub> &lt; 46.45) AGN with quasi-</div>
<div class="j" style="left:1756.2px;top:206.38px;width:340.0px">simultaneous UV and optical spectra to propose a method to re-</div>
<div class="j" style="left:1756.2px;top:222.00px;width:340.0px">habilitate C<span class=sc>iv</span> for <i>M</i><sub>BH</sub> determination, based on a correlation that</div>
<div class="j" style="left:1756.2px;top:237.62px;width:340.0px">they found between the Si<span class=sc>iv</span>+O<span class=sc>iv</span>]−C<span class=sc>iv</span> line peak intensity ratio</div>
<div class="j" style="left:1756.2px;top:253.24px;width:340.0px">and the H<i>β</i>−C<span class=sc>iv</span> FWHM ratio. This allowed these authors to pre-</div>
<div class="j" style="left:1756.2px;top:268.86px;width:340.0px">dict FWHM(H<i>β</i>) from measurements of the Si<span class=sc>iv</span>+O<span class=sc>iv</span>] emission.</div>
<div class="j" style="left:1756.2px;top:284.48px;width:340.0px">These studies suggested that this correlation may be driven by the</div>
<div class="l" style="left:1756.2px;top:300.10px;width:340.0px">so-called Eigenvector 1.</div>
<div class="j" style="left:1781.8px;top:315.72px;width:314.4px">In this work, we use X-shooter high-quality observations that</div>
<div class="j" style="left:1756.2px;top:331.34px;width:340.0px">combines simultaneous UV, optical and infrared spectroscopy of a</div>
<div class="j" style="left:1756.2px;top:346.96px;width:340.0px">unique sample of AGN at z∼1.55, selected by both their <i>M</i><sub>BH</sub> and</div>
<div class="j" style="left:1756.2px;top:362.58px;width:340.0px">Eddington ratio, <i>L</i>/<i>L</i><sub>Edd</sub> as described in <span class=c>Capellupo et al.</span> (<span class=c>2015</span>)</div>
<div class="j" style="left:1756.2px;top:378.20px;width:340.0px">(hereafter paper I). Selecting objects at this redshift allows simul-</div>
<div class="j" style="left:1756.2px;top:393.82px;width:340.0px">taneous observations of H<i>α</i>, H<i>β</i>, Mg<span class=sc>ii</span> and C<span class=sc>iv</span> which is optimal</div>
<div class="j" style="left:1756.2px;top:409.44px;width:340.0px">for comparing the various mass determination methods. In Paper I,</div>
<div class="j" style="left:1756.2px;top:425.06px;width:340.0px;word-spacing:-0.40px">we showed that the accretion-disk continuum of most of the objects</div>
<div class="j" style="left:1756.2px;top:440.68px;width:340.0px;word-spacing:-0.23px">(25 out of 30) can be successfully modeled by a geometrically thin,</div>
<div class="j" style="left:1756.2px;top:456.30px;width:340.0px">optically thick Shakura-Sunyaev accretion disks (<span class=c>Shakura & Sun-</span></div>
<div class="j" style="left:1756.2px;top:471.92px;width:340.0px"><span class=c>yaev 1973</span>, hereafter SS73) . The models were taken from <span class=c>Slone</span></div>
<div class="j" style="left:1756.2px;top:487.54px;width:340.0px;word-spacing:-0.25px"><span class=c>& Netzer</span> (<span class=c>2012</span>) who include several improvements upon the SS73</div>
<div class="j" style="left:1756.2px;top:503.16px;width:340.0px">model, such as GR effects and a detailed treatment of the Comp-</div>
<div class="j" style="left:1756.2px;top:518.78px;width:340.0px">tonization in the disc atmosphere. Paper I shows that most earlier</div>
<div class="j" style="left:1756.2px;top:534.40px;width:340.0px">attempts to fit accretion disk (AD) spectra to AGNs failed because</div>
<div class="j" style="left:1756.2px;top:550.02px;width:340.0px;word-spacing:-0.48px">of the limited wavelength coverage and/or non-simultaneous obser-</div>
<div class="j" style="left:1756.2px;top:565.64px;width:340.0px;word-spacing:-0.52px">vations. The continuation of this work, that includes 9 more sources</div>
<div class="j" style="left:1756.2px;top:581.26px;width:340.0px;word-spacing:-0.40px">and a more comprehensive analysis, is described in Capellupo et al.</div>
<div class="j" style="left:1756.2px;top:596.88px;width:340.0px">(2016, in prep.), hereafter Paper III) which is published in this vol-</div>
<div class="l" style="left:1756.2px;top:612.50px;width:340.0px">ume.</div>
<div class="j" style="left:1781.8px;top:628.12px;width:314.4px;word-spacing:-0.09px">The purpose of the present paper is to evaluate BH mass mea-</div>
<div class="j" style="left:1756.2px;top:643.74px;width:340.0px">surements based on different emission lines, as derived from our</div>
<div class="j" style="left:1756.2px;top:659.36px;width:340.0px">unique sample of X-shooter spectra. We also aim to provide to the</div>
<div class="j" style="left:1756.2px;top:674.98px;width:340.0px">community <i>M</i><sub>BH</sub> correction factors that do not depend on the ex-</div>
<div class="j" style="left:1756.2px;top:690.60px;width:340.0px">act shape of the underlying continuum. The paper is structured as</div>
<div class="j" style="left:1756.2px;top:706.22px;width:340.0px">follows. In section <span class=c>2</span> we describe the sample. In section <span class=c>3</span> we first</div>
<div class="j" style="left:1756.2px;top:721.84px;width:340.0px">introduce the &nbsp;<i>local</i>&nbsp; and &nbsp;<i>global</i>&nbsp; thin disk continuum approaches</div>
<div class="j" style="left:1756.2px;top:737.46px;width:340.0px">and describe the fitting procedures we follow to model the contin-</div>
<div class="j" style="left:1756.2px;top:753.08px;width:340.0px">uum, emission lines, iron pseudo continuum and Balmer contin-</div>
<div class="j" style="left:1756.2px;top:768.70px;width:340.0px">uum. In section <span class=c>4</span> we present and discuss the main results and in</div>
<div class="j" style="left:1756.2px;top:784.32px;width:340.0px">section <span class=c>5</span> we list the main conclusions of our work. Throughout</div>
<div class="j" style="left:1756.2px;top:799.94px;width:340.0px">this paper we assume a flat ΛCDM&nbsp; cosmology with the following</div>
<div class="j" style="left:1756.2px;top:815.56px;width:340.0px">values for the cosmological parameters: Ω<sub>Λ</sub> = 0.7, Ω<sub>M</sub> = 0.3 and</div>
<div class="l" style="left:1756.2px;top:831.18px;width:340.0px"><i>H</i><sub>0</sub> = 70 km s<sup>−1</sup> Mpc<sup>−1</sup>.</div>
<div class="j" style="left:1756.2px;top:911.86px;width:340.0px">The analysis presented in this paper is based on a sample of lumi-</div>
<div class="j" style="left:1756.2px;top:927.48px;width:340.0px">nous, type-I AGN in a narrow redshift range around <i>z</i> ≃ 1.55, for</div>
<div class="j" style="left:1756.2px;top:943.10px;width:340.0px">which we have obtained high signal to noise (<i>S</i>/<i>N</i>) single epoch</div>
<div class="j" style="left:1756.2px;top:958.72px;width:340.0px">spectroscopic observations using the X-Shooter instrument on the</div>
<div class="j" style="left:1756.2px;top:974.34px;width:340.0px">Very Large Telescope. The 39 sources span a range in brightness</div>
<div class="j" style="left:1756.2px;top:989.96px;width:340.0px">of <i>i</i><sub>AB</sub> ∼ 16.8 − 20.9. The sample selection, data acquisition and</div>
<div class="j" style="left:1756.2px;top:1005.58px;width:340.0px">reduction for the 30 brightest sources were described in detail in</div>
<div class="j" style="left:1756.2px;top:1021.20px;width:340.0px">paper I, and information about 9 other sources, obtained in ESO</div>
<div class="j" style="left:1756.2px;top:1036.82px;width:340.0px;word-spacing:-0.29px">program 092.B-0613, is provided in Paper III. Here we only briefly</div>
<div class="l" style="left:1756.2px;top:1052.44px;width:340.0px">highlight a few essential aspects.</div>
<div class="j" style="left:1781.8px;top:1068.06px;width:314.4px">The sample has been selected from the seventh data release</div>
<div class="j" style="left:2130.8px;top:536.96px;width:340.0px">of the SDSS (<span class=c>Abazajian et al. 2009</span>) to homogeneously map the</div>
<div class="j" style="left:2130.8px;top:552.56px;width:340.0px">parameter space of <i>M</i><sub>BH</sub> and <i>L</i>/<i>L</i><sub>Edd</sub>. For the purposes of target</div>
<div class="j" style="left:2130.8px;top:568.16px;width:340.0px;word-spacing:-0.10px">selection, these quantities were initially obtained by spectral fitting</div>
<div class="j" style="left:2130.8px;top:583.76px;width:340.0px">of the Mg<span class=sc>ii</span> broad emission line in the SDSS spectra as part of the</div>
<div class="j" style="left:2130.8px;top:599.36px;width:340.0px">large compilation described in TN12.&nbsp; In Figure. <span class=c>1</span> we show <i>M</i><sub>BH</sub></div>
<div class="j" style="left:2130.8px;top:614.96px;width:340.0px">vs <i>L</i>/<i>L</i><sub>Edd</sub> using updated values calculated in this paper based on</div>
<div class="j" style="left:2130.8px;top:630.56px;width:340.0px">the H<i>α</i> broad emission line and following the procedure that we</div>
<div class="l" style="left:2130.8px;top:646.16px;width:340.0px">describe in section <span class=c>4.4</span>.</div>
<div class="j" style="left:2156.4px;top:661.76px;width:314.4px">At the chosen redshift range of the sample, X-Shooter covers</div>
<div class="j" style="left:2130.8px;top:677.36px;width:340.0px;word-spacing:-0.18px">the rest-frame wavelength from about 1200Å to 9200Å. This broad</div>
<div class="j" style="left:2130.8px;top:692.96px;width:340.0px">spectral coverage has allowed us, after correction for Galactic ex-</div>
<div class="j" style="left:2130.8px;top:708.56px;width:340.0px">tinction, to successfully model and constrain the observed Spec-</div>
<div class="j" style="left:2130.8px;top:724.16px;width:340.0px">tral Energy distributions (SEDs). As shown in Papers I and III, we</div>
<div class="j" style="left:2130.8px;top:739.76px;width:340.0px">obtain satisfactory thin AD model fits to 37 sources, 6 of which</div>
<div class="j" style="left:2130.8px;top:755.36px;width:340.0px">require an intrinsic reddening correction for a satisfactory fit. The</div>
<div class="j" style="left:2130.8px;top:770.96px;width:340.0px">wide wavelength coverage, together with the homogeneous selec-</div>
<div class="j" style="left:2130.8px;top:786.56px;width:340.0px">tion of the sample in the <i>M</i><sub>BH</sub> − <i>L</i>/<i>L</i><sub>Edd</sub> plane, enables us to test</div>
<div class="j" style="left:2130.8px;top:802.16px;width:340.0px">the performance of the single epoch black hole mass estimators for</div>
<div class="j" style="left:2130.8px;top:817.76px;width:340.0px">the H<i>α</i>, H<i>β</i>, Mg<span class=sc>ii</span> and C<span class=sc>iv</span> lines and estimate the systemic bias</div>
<div class="l" style="left:2130.8px;top:833.36px;width:340.0px">induced when the physical SED is unknown.</div>
<div class="j" style="left:2156.4px;top:848.96px;width:314.4px">In Figure <span class=c>2</span> we show the the signal to noise ratios (<i>S</i>/<i>N</i>) for</div>
<div class="j" style="left:2130.8px;top:864.56px;width:340.0px">our X-Shooter spectra, measured at the peaks of each of the main</div>
<div class="j" style="left:2130.8px;top:880.16px;width:340.0px">emission lines under study, as well as at the corresponding contin-</div>
<div class="j" style="left:2130.8px;top:895.76px;width:340.0px">uum bands, as a function of <i>i</i><sub>AB</sub>.&nbsp; We note that, even in the spec-</div>
<div class="j" style="left:2130.8px;top:911.36px;width:340.0px">tral region which overlaps with the available SDSS spectra, the X-</div>
<div class="j" style="left:2130.8px;top:926.96px;width:340.0px">Shooter data provide a significant improvement in terms of <i>S</i>/<i>N</i></div>
<div class="j" style="left:2130.8px;top:942.56px;width:340.0px">and spectral resolution (see an example in Fig. <span class=c>A1</span>, described in</div>
<div class="j" style="left:2130.8px;top:958.16px;width:340.0px">appendix §<span class=c>A</span>).&nbsp; All the sources have fairly high <i>S</i>/<i>N</i> (≳ 20) at</div>
<div class="j" style="left:2130.8px;top:973.76px;width:340.0px">the peaks of the Mg<span class=sc>ii</span> and C<span class=sc>iv</span> lines and the adjacent continuum</div>
<div class="j" style="left:2130.8px;top:989.36px;width:340.0px">bands. However, this is not the case for H<i>α</i> and H<i>β</i>. The contin-</div>
<div class="j" style="left:2130.8px;top:1004.96px;width:340.0px">uum bands adjacent to H<i>α</i> are much noisier. Most of the objects</div>
<div class="j" style="left:2130.8px;top:1020.56px;width:340.0px">have <i>S</i>/<i>N</i> &lt; 20, and for those with <i>i</i><sub>AB</sub> &gt; 18.5, the ratio is below</div>
<div class="j" style="left:2130.8px;top:1036.16px;width:340.0px">10. Nevertheless, we are able to obtain reliable H<i>α</i> line measure-</div>
<div class="j" style="left:2130.8px;top:1051.76px;width:340.0px">ment because most objects have fairly high <i>S</i>/<i>N</i> at their H<i>α</i> line</div>
<div class="j" style="left:2130.8px;top:1067.36px;width:340.0px">peak (34 out of 39 object have <i>S</i>/<i>N</i> ≳ 20 and all of them have</div>
<div class="j" style="left:2604.2px;top:532.26px;width:340.0px"><i>S</i>/<i>N</i> ≳ 8 ). Moreover, the relevant continuum bands around H<i>α</i></div>
<div class="j" style="left:2604.2px;top:547.91px;width:340.0px">have low levels of contamination from iron or other, unresolved</div>
<div class="j" style="left:2604.2px;top:563.55px;width:340.0px">spectral features. Consequently, even a moderate continuum <i>S</i>/<i>N</i></div>
<div class="j" style="left:2604.2px;top:579.20px;width:340.0px">(i.e., ≳3) is enough to have reliable H<i>α</i> fits. There are however 4</div>
<div class="j" style="left:2604.2px;top:594.84px;width:340.0px">objects where <i>S</i>/<i>N</i> &lt; 3 and their line measurements, especially</div>
<div class="l" style="left:2604.2px;top:610.49px;width:340.0px">their FWHM(H<i>α</i>) are somewhat uncertain.</div>
<div class="j" style="left:2629.8px;top:626.13px;width:314.4px">Unfortunately, the H<i>β</i> line measurements are more problem-</div>
<div class="j" style="left:2604.2px;top:641.78px;width:340.0px">atic. In addition to the fact that H<i>β</i> is the weakest of the lines of</div>
<div class="j" style="left:2604.2px;top:657.42px;width:340.0px">interest, we can also see from Fig. <span class=c>2</span> that the relevant continuum</div>
<div class="j" style="left:2604.2px;top:673.07px;width:340.0px">band in 21 out of 39 objects have <i>S</i>/<i>N</i> ≲ 10, and 14 of them are</div>
<div class="j" style="left:2604.2px;top:688.71px;width:340.0px">actually below <i>S</i>/<i>N</i> ∼ 5. Near infrared (NIR) telluric absorption</div>
<div class="j" style="left:2604.2px;top:704.36px;width:340.0px">is another issue that could also crucially affect H<i>β</i> line measure-</div>
<div class="j" style="left:2604.2px;top:720.00px;width:340.0px;word-spacing:-0.16px">ments. The spectral regions with known low atmospheric transmis-</div>
<div class="j" style="left:2604.2px;top:735.65px;width:340.0px">sion in the NIR, between Å and between 13000Å to 15000Å typi-</div>
<div class="j" style="left:2604.2px;top:751.29px;width:340.0px;word-spacing:-0.14px">cally translate to rest-frame bands at 4200-4500Å and 5300-5800Å</div>
<div class="j" style="left:2604.2px;top:766.94px;width:340.0px;word-spacing:-0.46px">at the redshift of the sample. These bands are known to show strong</div>
<div class="j" style="left:2604.2px;top:782.58px;width:340.0px;word-spacing:-0.33px">iron emission which are suppressed by such telluric absorption (see</div>
<div class="j" style="left:2604.2px;top:798.23px;width:340.0px;word-spacing:-0.31px">the example spectrum in Fig. <span class=c>3</span> around 4400 and 5500Å). The com-</div>
<div class="j" style="left:2604.2px;top:813.87px;width:340.0px">bined effect of the telluric absorption and the limited <i>S</i>/<i>N</i> achieved</div>
<div class="j" style="left:2604.2px;top:829.52px;width:340.0px;word-spacing:-0.23px">for the fainter sources severely affects the correct modeling of their</div>
<div class="j" style="left:2604.2px;top:845.16px;width:340.0px">iron emission around H<i>β</i>. This, in turn, significantly increases the</div>
<div class="j" style="left:2604.2px;top:860.81px;width:340.0px">measurement uncertainties related to H<i>β</i>, ultimately making H<i>β</i></div>
<div class="l" style="left:2604.2px;top:876.45px;width:340.0px">measurements of faint objects less reliable.</div>
<div class="j" style="left:2629.8px;top:892.10px;width:314.4px">Fortunately, the H<i>α</i> line shows very similar profiles to H<i>β</i></div>
<div class="j" style="left:2604.2px;top:907.74px;width:340.0px">(e.g. <span class=c>Greene & Ho 2005</span>) which is in accordance with the expected</div>
<div class="j" style="left:2604.2px;top:923.39px;width:340.0px;word-spacing:-0.61px">radial ionization stratification of the BLR (<span class=c>Kaspi et al. 2000</span>). Based</div>
<div class="j" style="left:2604.2px;top:939.03px;width:340.0px;word-spacing:-0.18px">on these results, we can probe several aspects related to the H<i>β</i> line</div>
<div class="l" style="left:2604.2px;top:954.68px;width:340.0px">using the more reliable H<i>α</i> measurements.</div>
<div class="j" style="left:2604.2px;top:1036.66px;width:340.0px">In this section we describe the analysis procedures we used to</div>
<div class="j" style="left:2604.2px;top:1052.31px;width:340.0px">model the X-Shooter spectra and to obtain continuum and line</div>
<div class="j" style="left:2604.2px;top:1067.95px;width:340.0px">emission measurements. We discuss separately the analysis of</div>
<div class="j" style="left:2978.8px;top:533.26px;width:340.0px">emission corresponding to the continuum, the blended iron fea-</div>
<div class="j" style="left:2978.8px;top:548.88px;width:340.0px">tures, and the emission line components. All the spectral model-</div>
<div class="j" style="left:2978.8px;top:564.50px;width:340.0px">ing is done by employing the Levenberg-Marquardt algorithm for</div>
<div class="j" style="left:2978.8px;top:580.12px;width:340.0px"><i>χ</i><sup>2</sup> minimization, using the <span class=tt>python</span> based spectroscopic analysis</div>
<div class="j" style="left:2978.8px;top:595.74px;width:340.0px">package <span class=tt>pyspeckit</span> (<span class=c>Ginsburg & Mirocha 2011</span>). The fitting is</div>
<div class="j" style="left:2978.8px;top:611.36px;width:340.0px">preformed in the rest frame, after shifting the spectra using the im-</div>
<div class="j" style="left:2978.8px;top:626.98px;width:340.0px">proved SDSS redshifts provided by <span class=c>Hewett & Wild</span> (<span class=c>2010</span>).&nbsp; We</div>
<div class="j" style="left:2978.8px;top:642.60px;width:340.0px">chose to use these redshifts, instead of using the O<span class=sc>iii</span>] <i>λ</i>5007 line</div>
<div class="j" style="left:2978.8px;top:658.22px;width:340.0px">observed within the X-Shooter data, because of the limited quality</div>
<div class="j" style="left:2978.8px;top:673.84px;width:340.0px">of the relevant data and modeling of the H<i>β</i>-O<span class=sc>iii</span>] <i>λ</i>5007 spectral</div>
<div class="j" style="left:2978.8px;top:689.46px;width:340.0px">region (see §<span class=c>2</span>) and the weak or absent O<span class=sc>iii</span>] <i>λ</i>5007 emission in</div>
<div class="l" style="left:2978.8px;top:705.08px;width:340.0px">many of our sources.</div>
<div class="j" style="left:2978.8px;top:777.56px;width:340.0px">We adopt here two different approaches to account for the contin-</div>
<div class="j" style="left:2978.8px;top:793.18px;width:340.0px">uum emission of the AGN,which we refer to as the &nbsp;<i>local</i>&nbsp; and</div>
<div class="j" style="left:2978.8px;top:808.80px;width:340.0px"><i>global</i>&nbsp; (thin disk) continuum approaches. The &nbsp;<i>local</i>&nbsp; continuum</div>
<div class="j" style="left:2978.8px;top:824.42px;width:340.0px">attempts to account for the usual approximation of the continuum</div>
<div class="j" style="left:2978.8px;top:840.04px;width:340.0px;word-spacing:-0.40px">emission by a single power law when the observed spectrum is lim-</div>
<div class="j" style="left:2978.8px;top:855.66px;width:340.0px">ited to a narrow wavelength range. The &nbsp;<i>global</i>&nbsp; thin disk con-</div>
<div class="j" style="left:2978.8px;top:871.28px;width:340.0px">tinuum, on the other hand, corresponds to the more physically-</div>
<div class="j" style="left:2978.8px;top:886.90px;width:340.0px">motivated AD model, that was obtained through a Bayesian analy-</div>
<div class="j" style="left:2978.8px;top:902.52px;width:340.0px;word-spacing:-0.24px">sis taking advantage of our wide spectral wavelength coverage (see</div>
<div class="j" style="left:2978.8px;top:918.14px;width:340.0px">paper I). A comparison of the measurements obtained with both</div>
<div class="j" style="left:2978.8px;top:933.76px;width:340.0px">approaches will allow us to quantify the possible bias imposed by</div>
<div class="j" style="left:2978.8px;top:949.38px;width:340.0px">ignoring the real SED shape, when wide-enough wavelength cov-</div>
<div class="l" style="left:2978.8px;top:965.00px;width:340.0px">erage is not available.</div>
<div class="j" style="left:2978.8px;top:1036.26px;width:340.0px">The &nbsp;<i>local</i>&nbsp; continuum approach consists of separately fitting the</div>
<div class="j" style="left:2978.8px;top:1051.88px;width:340.0px">continuum emission surrounding each of the lines of interest. For</div>
<div class="j" style="left:2978.8px;top:1067.50px;width:340.0px">every source in the sample, each of these continua is approximated</div>
<div class="j" style="left:3452.2px;top:627.76px;width:340.0px">by a single power law, which connects neighboring spectral win-</div>
<div class="j" style="left:3452.2px;top:643.38px;width:340.0px">dows known to have little line contamination. Our specific choice</div>
<div class="j" style="left:3452.2px;top:659.00px;width:340.0px">of such line-free continuum bands rely on several similar works</div>
<div class="l" style="left:3452.2px;top:674.62px;width:340.0px">(S07,TN12), and are listed in Table &nbsp; <span class=c>1</span>.</div>
<div class="j" style="left:3477.8px;top:895.96px;width:314.4px">The most important bias in the &nbsp;<i>local</i>&nbsp; approach is that it com-</div>
<div class="j" style="left:3452.2px;top:911.58px;width:340.0px">monly uses non real continuum windows that are affected by ei-</div>
<div class="j" style="left:3452.2px;top:927.20px;width:340.0px">ther (1) weak line emission flux such as the continuum window at</div>
<div class="j" style="left:3452.2px;top:942.82px;width:340.0px">1700Å that is used for C<span class=sc>iv</span> line fitting, (2) iron continuum emis-</div>
<div class="j" style="left:3452.2px;top:958.44px;width:340.0px">sion that affects continuum windows around 2600Å and 3000Å, as</div>
<div class="j" style="left:3452.2px;top:974.06px;width:340.0px">well as those around 4650Å and 5100Å that are respectively used</div>
<div class="j" style="left:3452.2px;top:989.68px;width:340.0px">for Mg<span class=sc>ii</span> and H<i>β</i> line fitting and finally, (3) the Balmer continuum</div>
<div class="j" style="left:3452.2px;top:1005.30px;width:340.0px">(BC) emission, at <i>λ</i> &lt; 3647 Å, which can significantly affect Mg<span class=sc>ii</span></div>
<div class="j" style="left:3452.2px;top:1020.92px;width:340.0px">measurements, and to a lesser extent even C<span class=sc>iv</span> measurements. All</div>
<div class="j" style="left:3452.2px;top:1036.54px;width:340.0px">these biases are in the direction of an overestimation of the con-</div>
<div class="j" style="left:3452.2px;top:1052.16px;width:340.0px">tinuum emission when the &nbsp; <i>local</i> &nbsp; approach is used which will</div>
<div class="l" style="left:3452.2px;top:1067.78px;width:340.0px">translate into FWHM and line flux underestimation.</div>
<div class="j" style="left:3852.4px;top:628.26px;width:314.4px">An additional bias comes from the shape of the SED, particu-</div>
<div class="j" style="left:3826.8px;top:643.88px;width:340.0px">larly at the turn over of most spectra at around 1000-1500Å (exact</div>
<div class="j" style="left:3826.8px;top:659.50px;width:340.0px">wavelengths depend on BM mass, spin and accretion rate, see Pa-</div>
<div class="j" style="left:3826.8px;top:675.12px;width:340.0px">pers I and III). The simple power-law approximation to the SED</div>
<div class="j" style="left:3826.8px;top:690.74px;width:340.0px;word-spacing:-0.33px">does not remain valid over this range and may lead to measurement</div>
<div class="j" style="left:3826.8px;top:706.36px;width:340.0px">biases of the line profile properties of C<span class=sc>iv</span> and Si<span class=sc>iv</span>+O<span class=sc>iv</span>] &nbsp;<i>λ</i>1400</div>
<div class="j" style="left:3826.8px;top:721.98px;width:340.0px">(hereafter Si<span class=sc>iv</span>+O<span class=sc>iv</span>]). In this paper we use our AD SED fittings</div>
<div class="l" style="left:3826.8px;top:737.60px;width:340.0px">to quantify these biases.</div>
<div class="j" style="left:3826.8px;top:802.36px;width:340.0px">The &nbsp;<i>global</i>&nbsp; AD approach is based on the best fits from the thin-</div>
<div class="j" style="left:3826.8px;top:817.98px;width:340.0px">accretion-disk continuum models obtained for each of the sources</div>
<div class="j" style="left:3826.8px;top:833.60px;width:340.0px;word-spacing:-0.31px">in Papers I and III. For the analysis in this paper we do not consider</div>
<div class="j" style="left:3826.8px;top:849.22px;width:340.0px">the two objects with no satisfactory fits to the thin disk continuum</div>
<div class="l" style="left:3826.8px;top:864.84px;width:340.0px">model.</div>
<div class="j" style="left:3852.4px;top:880.46px;width:314.4px">As explained in paper I and III, the SEDs of the AD models</div>
<div class="j" style="left:3826.8px;top:896.08px;width:340.0px">used in this work are determined by <i>M</i><sub>BH</sub>, the accretion rate (<i>Ṁ</i>),</div>
<div class="j" style="left:3826.8px;top:911.70px;width:340.0px;word-spacing:-0.10px">the spin (<i>a</i><sub>∗</sub>) and the inclination of the disc with respect to the line-</div>
<div class="j" style="left:3826.8px;top:927.32px;width:340.0px">of-sight (<i>θ</i>). We adopted a Bayesian procedure to fit the thin AD</div>
<div class="j" style="left:3826.8px;top:942.94px;width:340.0px">model spectra to the observed X-shooter SEDs. <i>M</i><sub>BH</sub> and <i>Ṁ</i> were</div>
<div class="j" style="left:3826.8px;top:958.56px;width:340.0px;word-spacing:-0.72px">taken as priors with Gaussian distributions centered on the observed</div>
<div class="j" style="left:3826.8px;top:974.18px;width:340.0px">values, obtained from H<i>α</i> and <i>L</i><sub>6200</sub> measurements (following the</div>
<div class="j" style="left:3826.8px;top:989.80px;width:340.0px">procedures described in this paper), and with standard deviations</div>
<div class="l" style="left:3826.8px;top:1005.42px;width:340.0px">of 0.3 and 0.2 dex, respectively.</div>
<div class="j" style="left:3852.4px;top:1021.04px;width:314.4px">Within the &nbsp;<i>global</i>&nbsp; continuum approach we also consider the</div>
<div class="j" style="left:3826.8px;top:1036.66px;width:340.0px">BC emission that peaks near the Balmer edge (3647Å) and grad-</div>
<div class="j" style="left:3826.8px;top:1052.28px;width:340.0px">ually decreases towards shorter wavelengths. The Balmer contin-</div>
<div class="j" style="left:3826.8px;top:1067.90px;width:340.0px;word-spacing:-0.54px">uum model we used is based on calculations of the photo-ionization</div>
</div></body></html>
